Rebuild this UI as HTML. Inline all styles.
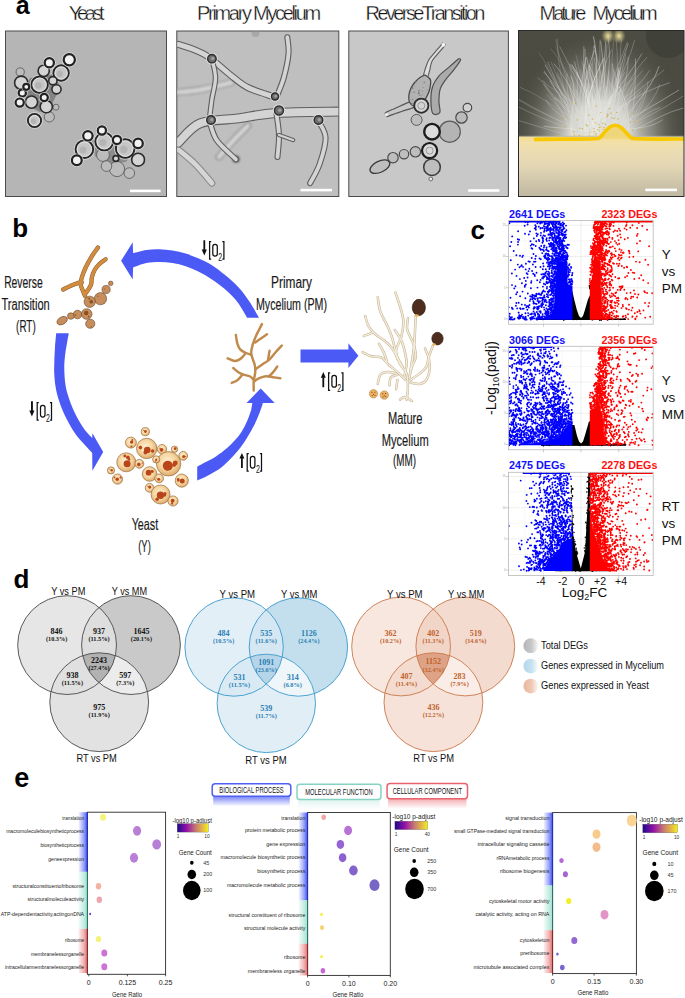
<!DOCTYPE html>
<html><head><meta charset="utf-8"><title>Figure</title>
<style>
html,body{margin:0;padding:0;background:#fff;}
body{width:685px;height:998px;overflow:hidden;}
svg{display:block;font-family:"Liberation Sans",sans-serif;}
</style></head><body>
<svg width="685" height="998" viewBox="0 0 685 998">
<rect width="685" height="998" fill="#fff"/>
<defs><filter id="mblur" x="-5%" y="-5%" width="110%" height="110%"><feGaussianBlur stdDeviation="0.45"/></filter><filter id="mblur2" x="-20%" y="-20%" width="140%" height="140%"><feGaussianBlur stdDeviation="1.3"/></filter><clipPath id="clipPM"><rect x="177.3" y="31.5" width="161" height="164.5"/></clipPath><clipPath id="clipMM"><rect x="518.5" y="30.5" width="165.5" height="166"/></clipPath></defs><text x="15.8" y="14" font-size="25" font-weight="bold">a</text><text x="68.8" y="20" font-size="20" textLength="35.8" lengthAdjust="spacing" fill="#111" stroke="#fff" stroke-width="0.3">Yeast</text><text x="197" y="20" font-size="20" textLength="124.2" lengthAdjust="spacing" fill="#111" stroke="#fff" stroke-width="0.3">Primary Mycelium</text><text x="365.6" y="20" font-size="20" textLength="119.8" lengthAdjust="spacing" fill="#111" stroke="#fff" stroke-width="0.3">ReverseTransition</text><text x="539.6" y="20" font-size="20" textLength="46.8" lengthAdjust="spacing" fill="#111" stroke="#fff" stroke-width="0.3">Mature</text><text x="592.6" y="20" font-size="20" textLength="65" lengthAdjust="spacing" fill="#111" stroke="#fff" stroke-width="0.3">Mycelium</text><rect x="5.5" y="31" width="161" height="165.5" fill="#b5b5b5" stroke="#4a4a4a" stroke-width="1"/><path d="M30 78 L55 74 L60 88 L52 104 L40 112 L28 106 L24 92 Z" fill="#5a5a5a" opacity="0.55"/><path d="M92 140 L118 136 L134 150 L126 162 L108 164 L95 156 Z" fill="#5a5a5a" opacity="0.45"/><g filter="url(#mblur)"><circle cx="20.2" cy="72" r="4.1" fill="#bcbcbc" stroke="#555" stroke-width="0.8"/><circle cx="49.3" cy="116.9" r="5.1" fill="#bcbcbc" stroke="#555" stroke-width="0.8"/><circle cx="56" cy="107.2" r="3" fill="#bcbcbc" stroke="#555" stroke-width="0.8"/><circle cx="21.2" cy="82.7" r="6.6" fill="#d4d4d4" stroke="#2c2c2c" stroke-width="1.6"/><circle cx="39.6" cy="84.7" r="9.5" fill="none" stroke="#dedede" stroke-width="1.1" opacity="0.7"/><circle cx="39.6" cy="84.7" r="8.2" fill="#c6c6c6" stroke="#262626" stroke-width="1.9"/><circle cx="39.6" cy="84.7" r="6.6" fill="none" stroke="#e6e6e6" stroke-width="0.9"/><circle cx="38.4" cy="85.5" r="3.3" fill="#a8a8a8" opacity="0.6"/><circle cx="61.1" cy="73" r="9.0" fill="none" stroke="#dedede" stroke-width="1.1" opacity="0.7"/><circle cx="61.1" cy="73" r="7.7" fill="#c6c6c6" stroke="#262626" stroke-width="1.9"/><circle cx="61.1" cy="73" r="6.1" fill="none" stroke="#e6e6e6" stroke-width="0.9"/><circle cx="59.9" cy="73.8" r="3.1" fill="#a8a8a8" opacity="0.6"/><circle cx="43.7" cy="70.9" r="5.6" fill="#d4d4d4" stroke="#2c2c2c" stroke-width="1.6"/><circle cx="52.9" cy="80.7" r="4.1" fill="#d4d4d4" stroke="#2c2c2c" stroke-width="1.6"/><circle cx="31.5" cy="102.1" r="6.1" fill="#d4d4d4" stroke="#2c2c2c" stroke-width="1.6"/><circle cx="46.3" cy="106.7" r="6.1" fill="#d4d4d4" stroke="#2c2c2c" stroke-width="1.6"/><circle cx="34.5" cy="120.5" r="7.9" fill="none" stroke="#dedede" stroke-width="1.1" opacity="0.7"/><circle cx="34.5" cy="120.5" r="6.6" fill="#c6c6c6" stroke="#262626" stroke-width="1.9"/><circle cx="34.5" cy="120.5" r="5.0" fill="none" stroke="#e6e6e6" stroke-width="0.9"/><circle cx="33.5" cy="121.2" r="2.6" fill="#a8a8a8" opacity="0.6"/><circle cx="56.5" cy="89.3" r="4.6" fill="#d4d4d4" stroke="#2c2c2c" stroke-width="1.6"/><circle cx="69.3" cy="59.7" r="6.9" fill="none" stroke="#e2e2e2" stroke-width="1.2" opacity="0.8"/><circle cx="69.3" cy="59.7" r="5.6" fill="#f2f2f2" stroke="#202020" stroke-width="2.2"/><circle cx="49.3" cy="62.8" r="5.9" fill="none" stroke="#e2e2e2" stroke-width="1.2" opacity="0.8"/><circle cx="49.3" cy="62.8" r="4.6" fill="#f2f2f2" stroke="#202020" stroke-width="2.2"/><circle cx="22.3" cy="92.9" r="4.9" fill="none" stroke="#e2e2e2" stroke-width="1.2" opacity="0.8"/><circle cx="22.3" cy="92.9" r="3.6" fill="#f2f2f2" stroke="#202020" stroke-width="2.2"/><circle cx="19.7" cy="102.6" r="5.4" fill="none" stroke="#e2e2e2" stroke-width="1.2" opacity="0.8"/><circle cx="19.7" cy="102.6" r="4.1" fill="#f2f2f2" stroke="#202020" stroke-width="2.2"/><circle cx="26.3" cy="86.8" r="4.3" fill="none" stroke="#e2e2e2" stroke-width="1.2" opacity="0.8"/><circle cx="26.3" cy="86.8" r="3" fill="#f2f2f2" stroke="#202020" stroke-width="2.2"/><circle cx="44.2" cy="97.5" r="4.9" fill="none" stroke="#e2e2e2" stroke-width="1.2" opacity="0.8"/><circle cx="44.2" cy="97.5" r="3.6" fill="#f2f2f2" stroke="#202020" stroke-width="2.2"/><circle cx="103" cy="155" r="6.4" fill="#bcbcbc" stroke="#555" stroke-width="0.8"/><circle cx="117" cy="169" r="7.6" fill="#bcbcbc" stroke="#555" stroke-width="0.8"/><circle cx="106.5" cy="166.1" r="5.3" fill="#bcbcbc" stroke="#555" stroke-width="0.8"/><circle cx="129.3" cy="173.1" r="5.3" fill="#bcbcbc" stroke="#555" stroke-width="0.8"/><circle cx="84.4" cy="149.2" r="10.1" fill="none" stroke="#dedede" stroke-width="1.1" opacity="0.7"/><circle cx="84.4" cy="149.2" r="8.8" fill="#c6c6c6" stroke="#262626" stroke-width="1.9"/><circle cx="84.4" cy="149.2" r="7.2" fill="none" stroke="#e6e6e6" stroke-width="0.9"/><circle cx="83.1" cy="150.1" r="3.5" fill="#a8a8a8" opacity="0.6"/><circle cx="104.2" cy="141.6" r="10.1" fill="none" stroke="#dedede" stroke-width="1.1" opacity="0.7"/><circle cx="104.2" cy="141.6" r="8.8" fill="#c6c6c6" stroke="#262626" stroke-width="1.9"/><circle cx="104.2" cy="141.6" r="7.2" fill="none" stroke="#e6e6e6" stroke-width="0.9"/><circle cx="102.9" cy="142.5" r="3.5" fill="#a8a8a8" opacity="0.6"/><circle cx="125.2" cy="148.6" r="10.6" fill="none" stroke="#dedede" stroke-width="1.1" opacity="0.7"/><circle cx="125.2" cy="148.6" r="9.3" fill="#c6c6c6" stroke="#262626" stroke-width="1.9"/><circle cx="125.2" cy="148.6" r="7.7" fill="none" stroke="#e6e6e6" stroke-width="0.9"/><circle cx="123.8" cy="149.5" r="3.7" fill="#a8a8a8" opacity="0.6"/><circle cx="138.1" cy="159.7" r="6.4" fill="#d4d4d4" stroke="#2c2c2c" stroke-width="1.6"/><circle cx="115.9" cy="158.5" r="2.9" fill="#d4d4d4" stroke="#2c2c2c" stroke-width="1.6"/><circle cx="76.8" cy="160.3" r="6.2" fill="none" stroke="#e2e2e2" stroke-width="1.2" opacity="0.8"/><circle cx="76.8" cy="160.3" r="4.9" fill="#f2f2f2" stroke="#202020" stroke-width="2.2"/><circle cx="87.9" cy="135.8" r="6.0" fill="none" stroke="#e2e2e2" stroke-width="1.2" opacity="0.8"/><circle cx="87.9" cy="135.8" r="4.7" fill="#f2f2f2" stroke="#202020" stroke-width="2.2"/><circle cx="101.9" cy="130.5" r="5.4" fill="none" stroke="#e2e2e2" stroke-width="1.2" opacity="0.8"/><circle cx="101.9" cy="130.5" r="4.1" fill="#f2f2f2" stroke="#202020" stroke-width="2.2"/><circle cx="117" cy="139.9" r="5.4" fill="none" stroke="#e2e2e2" stroke-width="1.2" opacity="0.8"/><circle cx="117" cy="139.9" r="4.1" fill="#f2f2f2" stroke="#202020" stroke-width="2.2"/><circle cx="138.1" cy="143.4" r="6.0" fill="none" stroke="#e2e2e2" stroke-width="1.2" opacity="0.8"/><circle cx="138.1" cy="143.4" r="4.7" fill="#f2f2f2" stroke="#202020" stroke-width="2.2"/></g><rect x="130" y="189.6" width="30.6" height="2.6" fill="#fff"/><rect x="176.8" y="31" width="162" height="165.5" fill="#bfbfbf" stroke="#4a4a4a" stroke-width="1"/><g clip-path="url(#clipPM)"><g filter="url(#mblur)"><g filter="url(#mblur2)"><path d="M219.1 156.9 C221.2 154.4 227.2 147.2 232.0 142.0 C236.8 136.8 245.2 128.5 247.8 125.8" fill="none" stroke="#7a7a7a" stroke-width="7" stroke-linecap="round" stroke-linejoin="round" opacity="0.9"/><path d="M219.1 156.9 C221.2 154.4 227.2 147.2 232.0 142.0 C236.8 136.8 245.2 128.5 247.8 125.8" fill="none" stroke="#dcdcdc" stroke-width="4.8" stroke-linecap="round" stroke-linejoin="round" opacity="0.9"/><path d="M178.4 92.2 C182.0 91.8 191.2 91.4 200.0 89.8 C208.8 88.2 225.8 83.9 231.0 82.7" fill="none" stroke="#8a8a8a" stroke-width="7" stroke-linecap="round" stroke-linejoin="round" opacity="0.9"/><path d="M178.4 92.2 C182.0 91.8 191.2 91.4 200.0 89.8 C208.8 88.2 225.8 83.9 231.0 82.7" fill="none" stroke="#dadada" stroke-width="4.8" stroke-linecap="round" stroke-linejoin="round" opacity="0.9"/><circle cx="236" cy="159" r="3.5" fill="#4a4a4a"/></g><path d="M178.4 149.7 C181.2 152.1 189.6 158.5 195.2 164.1 C200.8 169.7 209.1 180.0 211.9 183.2" fill="none" stroke="#8a8a8a" stroke-width="7" stroke-linecap="round" stroke-linejoin="round" opacity="1.0"/><path d="M178.4 149.7 C181.2 152.1 189.6 158.5 195.2 164.1 C200.8 169.7 209.1 180.0 211.9 183.2" fill="none" stroke="#d6d6d6" stroke-width="4.8" stroke-linecap="round" stroke-linejoin="round" opacity="1.0"/><path d="M178.4 44.4 C181.2 45.3 189.8 47.8 195.0 50.0 C200.2 52.2 203.5 53.2 209.5 57.5 C215.5 61.8 224.6 70.5 231.0 75.5 C237.4 80.5 240.6 83.9 247.8 87.5 C255.0 91.1 269.8 95.4 274.2 97.0" fill="none" stroke="#5e5e5e" stroke-width="7" stroke-linecap="round" stroke-linejoin="round" opacity="1.0"/><path d="M178.4 44.4 C181.2 45.3 189.8 47.8 195.0 50.0 C200.2 52.2 203.5 53.2 209.5 57.5 C215.5 61.8 224.6 70.5 231.0 75.5 C237.4 80.5 240.6 83.9 247.8 87.5 C255.0 91.1 269.8 95.4 274.2 97.0" fill="none" stroke="#d4d4d4" stroke-width="4.8" stroke-linecap="round" stroke-linejoin="round" opacity="1.0"/><path d="M178.4 142.5 C182.0 139.3 190.4 127.4 200.0 123.4 C209.6 119.4 223.2 120.3 235.9 118.6 C248.7 116.9 259.4 114.2 276.5 113.0 C293.6 111.8 328.4 111.8 338.8 111.6" fill="none" stroke="#5e5e5e" stroke-width="10" stroke-linecap="round" stroke-linejoin="round" opacity="1.0"/><path d="M178.4 142.5 C182.0 139.3 190.4 127.4 200.0 123.4 C209.6 119.4 223.2 120.3 235.9 118.6 C248.7 116.9 259.4 114.2 276.5 113.0 C293.6 111.8 328.4 111.8 338.8 111.6" fill="none" stroke="#d4d4d4" stroke-width="7.8" stroke-linecap="round" stroke-linejoin="round" opacity="1.0"/><path d="M276.5 97.0 C277.7 93.8 281.7 85.1 283.7 77.9 C285.7 70.7 287.9 60.7 288.5 53.9 C289.1 47.1 287.5 40.0 287.3 37.2" fill="none" stroke="#5e5e5e" stroke-width="6" stroke-linecap="round" stroke-linejoin="round" opacity="1.0"/><path d="M276.5 97.0 C277.7 93.8 281.7 85.1 283.7 77.9 C285.7 70.7 287.9 60.7 288.5 53.9 C289.1 47.1 287.5 40.0 287.3 37.2" fill="none" stroke="#d4d4d4" stroke-width="3.8" stroke-linecap="round" stroke-linejoin="round" opacity="1.0"/><path d="M211.9 58.7 C212.5 61.9 215.5 71.1 215.5 77.9 C215.5 84.7 212.9 92.6 211.9 99.4 C210.9 106.2 209.9 115.4 209.5 118.6" fill="none" stroke="#5e5e5e" stroke-width="5.5" stroke-linecap="round" stroke-linejoin="round" opacity="1.0"/><path d="M211.9 58.7 C212.5 61.9 215.5 71.1 215.5 77.9 C215.5 84.7 212.9 92.6 211.9 99.4 C210.9 106.2 209.9 115.4 209.5 118.6" fill="none" stroke="#d4d4d4" stroke-width="3.3" stroke-linecap="round" stroke-linejoin="round" opacity="1.0"/><path d="M209.5 121.0 C210.7 124.2 212.3 133.7 216.7 140.1 C221.1 146.5 232.7 156.1 235.9 159.3" fill="none" stroke="#5e5e5e" stroke-width="6" stroke-linecap="round" stroke-linejoin="round" opacity="1.0"/><path d="M209.5 121.0 C210.7 124.2 212.3 133.7 216.7 140.1 C221.1 146.5 232.7 156.1 235.9 159.3" fill="none" stroke="#d4d4d4" stroke-width="3.8" stroke-linecap="round" stroke-linejoin="round" opacity="1.0"/><path d="M276.5 114.0 C276.9 117.5 278.8 127.8 279.0 135.0 C279.2 142.2 277.8 153.3 277.5 157.0" fill="none" stroke="#5e5e5e" stroke-width="6" stroke-linecap="round" stroke-linejoin="round" opacity="1.0"/><path d="M276.5 114.0 C276.9 117.5 278.8 127.8 279.0 135.0 C279.2 142.2 277.8 153.3 277.5 157.0" fill="none" stroke="#d4d4d4" stroke-width="3.8" stroke-linecap="round" stroke-linejoin="round" opacity="1.0"/><path d="M279.0 135.0 C281.3 135.8 290.7 139.2 293.0 140.0" fill="none" stroke="#5e5e5e" stroke-width="4.5" stroke-linecap="round" stroke-linejoin="round" opacity="1.0"/><path d="M279.0 135.0 C281.3 135.8 290.7 139.2 293.0 140.0" fill="none" stroke="#d4d4d4" stroke-width="2.3" stroke-linecap="round" stroke-linejoin="round" opacity="1.0"/><path d="M318.4 121.0 C319.6 123.8 325.4 130.5 325.6 137.7 C325.8 144.9 322.2 156.5 319.6 164.1 C317.0 171.7 311.7 180.0 310.1 183.2" fill="none" stroke="#5e5e5e" stroke-width="6" stroke-linecap="round" stroke-linejoin="round" opacity="1.0"/><path d="M318.4 121.0 C319.6 123.8 325.4 130.5 325.6 137.7 C325.8 144.9 322.2 156.5 319.6 164.1 C317.0 171.7 311.7 180.0 310.1 183.2" fill="none" stroke="#d4d4d4" stroke-width="3.8" stroke-linecap="round" stroke-linejoin="round" opacity="1.0"/><circle cx="211.9" cy="58.7" r="5.4" fill="none" stroke="#e4e4e4" stroke-width="1.2" opacity="0.8"/><circle cx="211.9" cy="58.7" r="4.2" fill="#6e6e6e" stroke="#2e2e2e" stroke-width="1.4"/><circle cx="212.7" cy="58.4" r="1.7" fill="#a0a0a0"/><circle cx="279" cy="110.5" r="5.7" fill="none" stroke="#e4e4e4" stroke-width="1.2" opacity="0.8"/><circle cx="279" cy="110.5" r="4.5" fill="#6e6e6e" stroke="#2e2e2e" stroke-width="1.4"/><circle cx="279.8" cy="110.2" r="1.8" fill="#a0a0a0"/><circle cx="211" cy="120" r="5.5" fill="none" stroke="#e4e4e4" stroke-width="1.2" opacity="0.8"/><circle cx="211" cy="120" r="4.3" fill="#6e6e6e" stroke="#2e2e2e" stroke-width="1.4"/><circle cx="211.8" cy="119.7" r="1.7" fill="#a0a0a0"/><circle cx="275" cy="96.5" r="4.7" fill="none" stroke="#e4e4e4" stroke-width="1.2" opacity="0.8"/><circle cx="275" cy="96.5" r="3.5" fill="#6e6e6e" stroke="#2e2e2e" stroke-width="1.4"/><circle cx="275.8" cy="96.2" r="1.4" fill="#a0a0a0"/><circle cx="318.5" cy="120" r="5.5" fill="none" stroke="#e4e4e4" stroke-width="1.2" opacity="0.8"/><circle cx="318.5" cy="120" r="4.3" fill="#6e6e6e" stroke="#2e2e2e" stroke-width="1.4"/><circle cx="319.3" cy="119.7" r="1.7" fill="#a0a0a0"/><circle cx="255.5" cy="33" r="4" fill="#9a9a9a" opacity="0.6"/></g></g><rect x="300.5" y="188.8" width="31.5" height="2.6" fill="#fff"/><rect x="348.8" y="31" width="159.6" height="165.5" fill="#c8c8c8" stroke="#4a4a4a" stroke-width="1"/><g filter="url(#mblur)"><path d="M458.6 58.7 C457.0 60.1 452.2 64.3 449.0 67.1 C445.8 70.0 442.0 72.4 439.2 75.7 C436.5 79.0 433.9 82.7 432.5 87.0 C431.1 91.3 430.8 96.9 430.9 101.3 C431.0 105.7 431.3 111.5 432.8 113.4 C434.3 115.3 438.8 114.6 439.8 112.6 C440.8 110.6 438.8 105.2 438.9 101.3 C439.0 97.4 439.1 92.9 440.1 89.4 C441.2 85.9 443.0 83.4 445.2 80.3 C447.3 77.2 450.5 74.2 453.0 70.9 C455.6 67.6 459.5 62.4 460.4 60.3 C461.4 58.3 458.9 58.9 458.6 58.7Z" fill="#ababab" stroke="#505050" stroke-width="1.2"/><path d="M442.7 43.2 C441.4 44.7 437.3 49.4 435.1 52.1 C432.8 54.8 430.6 56.8 429.0 59.6 C427.4 62.3 426.4 65.7 425.4 68.5 C424.5 71.4 423.2 75.0 423.5 76.5 C423.8 78.0 426.3 78.6 427.3 77.5 C428.4 76.4 429.0 72.6 429.8 69.9 C430.5 67.1 430.7 63.8 432.0 61.2 C433.3 58.6 435.4 56.8 437.5 54.1 C439.7 51.4 444.1 47.0 444.9 45.2 C445.8 43.4 443.0 43.6 442.7 43.2Z" fill="#dedede" stroke="#5a5a5a" stroke-width="1.1"/><ellipse cx="443.4" cy="44.8" rx="1.8" ry="2" fill="#f4f4f4"/><path d="M387.0 116.6 C388.3 116.2 392.4 114.7 394.9 113.8 C397.5 112.9 399.1 112.3 402.3 111.2 C405.5 110.0 412.4 108.6 414.1 107.0 C415.7 105.4 414.2 101.6 411.9 101.4 C409.7 101.2 403.5 104.7 400.3 106.0 C397.2 107.3 395.5 108.0 393.1 109.2 C390.6 110.3 386.4 111.7 385.4 113.0 C384.4 114.2 386.7 116.0 387.0 116.6Z" fill="#c8c8c8" stroke="#555555" stroke-width="1.2"/><ellipse cx="386.6" cy="114.6" rx="1.8" ry="1.6" fill="#ececec"/><path d="M425.0 75.0 C425.9 75.8 429.8 77.5 430.5 80.0 C431.2 82.5 430.2 87.0 429.5 90.0 C428.8 93.0 427.1 95.8 426.0 98.0 C424.9 100.2 424.7 101.6 423.0 103.0 C421.3 104.4 418.2 106.5 416.0 106.5 C413.8 106.5 411.2 104.8 410.0 103.0 C408.8 101.2 408.6 98.5 408.8 96.0 C409.0 93.5 409.9 90.4 411.0 88.0 C412.1 85.6 414.0 83.2 415.5 81.5 C417.0 79.8 418.4 78.6 420.0 77.5 C421.6 76.4 424.2 75.4 425.0 75.0Z" fill="#b2b2b2" stroke="#4a4a4a" stroke-width="1.3"/><circle cx="418.7" cy="93.4" r="0.9" fill="#7a7a7a"/><circle cx="418.9" cy="92.2" r="0.7" fill="#7a7a7a"/><circle cx="414.1" cy="92.3" r="0.7" fill="#7a7a7a"/><circle cx="424.5" cy="82.3" r="0.6" fill="#7a7a7a"/><circle cx="412.5" cy="99.4" r="0.7" fill="#7a7a7a"/><circle cx="411.7" cy="103.6" r="0.9" fill="#7a7a7a"/><circle cx="422.1" cy="94.8" r="0.5" fill="#7a7a7a"/><circle cx="411.3" cy="92.7" r="0.4" fill="#7a7a7a"/><circle cx="414.2" cy="85.8" r="0.4" fill="#7a7a7a"/><circle cx="418.9" cy="90.6" r="0.8" fill="#7a7a7a"/><circle cx="419.8" cy="95.4" r="0.6" fill="#7a7a7a"/><circle cx="422.3" cy="91.0" r="0.5" fill="#7a7a7a"/><circle cx="428.0" cy="103.9" r="0.8" fill="#7a7a7a"/><circle cx="423.0" cy="87.6" r="0.5" fill="#7a7a7a"/><circle cx="415.9" cy="81.7" r="0.8" fill="#7a7a7a"/><circle cx="417.8" cy="100.3" r="0.6" fill="#7a7a7a"/><circle cx="427.3" cy="100.3" r="0.4" fill="#7a7a7a"/><circle cx="414.6" cy="101.8" r="0.6" fill="#7a7a7a"/><circle cx="427.7" cy="89.5" r="0.4" fill="#7a7a7a"/><circle cx="421.7" cy="98.7" r="0.5" fill="#7a7a7a"/><circle cx="412.5" cy="88.0" r="0.9" fill="#7a7a7a"/><circle cx="423.9" cy="82.8" r="0.5" fill="#7a7a7a"/><circle cx="449.7" cy="131.7" r="10.6" fill="#b4b4b4" stroke="#5a5a5a" stroke-width="1.2"/><circle cx="416.6" cy="119.9" r="5.5" fill="#bdbdbd" stroke="#5a5a5a" stroke-width="1"/><circle cx="421.3" cy="105.7" r="7.1" fill="#d4d4d4" stroke="#2e2e2e" stroke-width="1.8"/><circle cx="432" cy="131.7" r="7.8" fill="#dcdcdc" stroke="#1e1e1e" stroke-width="2.4"/><circle cx="429.6" cy="150.6" r="7.6" fill="#d8d8d8" stroke="#1e1e1e" stroke-width="2.2"/><circle cx="432" cy="167.2" r="8.3" fill="#bebebe" stroke="#3a3a3a" stroke-width="1.5"/><circle cx="430.8" cy="179" r="1.9" fill="#e6e6e6" stroke="#555" stroke-width="0.8"/><circle cx="461.5" cy="117.5" r="5.7" fill="#bcbcbc" stroke="#4a4a4a" stroke-width="1.2"/><circle cx="467.4" cy="107.6" r="4.3" fill="#d2d2d2" stroke="#4a4a4a" stroke-width="1.2"/><circle cx="415.4" cy="151.8" r="5.2" fill="#bebebe" stroke="#4a4a4a" stroke-width="1.2"/><circle cx="404" cy="154.2" r="4.7" fill="#bebebe" stroke="#4a4a4a" stroke-width="1.2"/><circle cx="393" cy="157.7" r="5.2" fill="#bebebe" stroke="#4a4a4a" stroke-width="1.2"/><circle cx="421.3" cy="105.7" r="3.5" fill="none" stroke="#8a8a8a" stroke-width="0.8"/><circle cx="429.6" cy="150.6" r="3.5" fill="none" stroke="#8a8a8a" stroke-width="0.8"/><ellipse cx="379.9" cy="166.7" rx="10.6" ry="5.6" transform="rotate(-25 379.9 166.7)" fill="#bebebe" stroke="#3a3a3a" stroke-width="1.3"/></g><rect x="468.2" y="189.2" width="31.2" height="2.6" fill="#fff"/><defs><linearGradient id="mmbg" x1="0" y1="0" x2="0" y2="1"><stop offset="0" stop-color="#4c4c42"/><stop offset="1" stop-color="#47483f"/></linearGradient><linearGradient id="agar" x1="0" y1="0" x2="0" y2="1"><stop offset="0" stop-color="#f4dc8c"/><stop offset="0.1" stop-color="#f2e0a8"/><stop offset="0.25" stop-color="#ebdcb2"/><stop offset="0.5" stop-color="#e2d6b4"/><stop offset="1" stop-color="#bfb7a2"/></linearGradient><radialGradient id="haze" cx="0.5" cy="0.5" r="0.5"><stop offset="0" stop-color="#f4f3ec" stop-opacity="1"/><stop offset="0.35" stop-color="#e2e2dc" stop-opacity="0.92"/><stop offset="0.62" stop-color="#b8b8b0" stop-opacity="0.55"/><stop offset="0.85" stop-color="#8a8a80" stop-opacity="0.18"/><stop offset="1" stop-color="#6a6a62" stop-opacity="0"/></radialGradient><radialGradient id="ybase" cx="0.5" cy="1" r="0.7"><stop offset="0" stop-color="#ecd070" stop-opacity="0.8"/><stop offset="0.5" stop-color="#e8dcaa" stop-opacity="0.5"/><stop offset="1" stop-color="#e8dcaa" stop-opacity="0"/></radialGradient><radialGradient id="glow" cx="0.5" cy="0.5" r="0.5"><stop offset="0" stop-color="#efe3a8"/><stop offset="0.5" stop-color="#bdb27a" stop-opacity="0.7"/><stop offset="1" stop-color="#8a8460" stop-opacity="0"/></radialGradient><linearGradient id="ygrad" x1="0" y1="0" x2="0" y2="1"><stop offset="0" stop-color="#f4c418"/><stop offset="1" stop-color="#f4d870" stop-opacity="0"/></linearGradient></defs><rect x="518.5" y="30.5" width="165.5" height="166" fill="url(#mmbg)"/><g clip-path="url(#clipMM)"><circle cx="668" cy="36" r="22" fill="#34352f" opacity="0.45"/><ellipse cx="608" cy="36" rx="7" ry="8" fill="url(#glow)"/><ellipse cx="619" cy="36" rx="7" ry="8" fill="url(#glow)"/><ellipse cx="600" cy="138" rx="86" ry="104" fill="url(#haze)"/><path d="M606.6 136.0 C594.9 111.4 599.1 84.3 594.3 57.7" stroke="#e6e6e0" stroke-width="0.86" fill="none" opacity="0.40"/><path d="M605.4 136.0 C601.9 114.3 608.8 93.2 609.1 71.0" stroke="#e6e6e0" stroke-width="0.88" fill="none" opacity="0.27"/><path d="M587.4 136.0 C581.1 122.5 565.0 115.0 564.2 97.7" stroke="#d8d8d2" stroke-width="0.62" fill="none" opacity="0.34"/><path d="M605.1 136.0 C614.4 118.1 606.7 96.9 616.2 78.4" stroke="#d8d8d2" stroke-width="0.65" fill="none" opacity="0.48"/><path d="M598.6 136.0 C590.4 123.0 595.8 107.1 589.5 93.2" stroke="#f2f2ea" stroke-width="0.69" fill="none" opacity="0.42"/><path d="M594.3 136.0 C598.2 117.0 616.8 106.2 621.6 87.0" stroke="#f2f2ea" stroke-width="0.71" fill="none" opacity="0.28"/><path d="M585.1 136.0 C604.5 126.5 604.4 101.1 622.7 90.0" stroke="#f2f2ea" stroke-width="0.56" fill="none" opacity="0.42"/><path d="M600.3 136.0 C600.4 109.1 592.4 83.6 586.4 56.9" stroke="#f2f2ea" stroke-width="0.64" fill="none" opacity="0.60"/><path d="M612.3 136.0 C593.1 112.4 581.6 85.3 576.0 54.6" stroke="#e6e6e0" stroke-width="0.52" fill="none" opacity="0.36"/><path d="M582.1 136.0 C579.1 102.6 561.0 73.2 555.9 39.3" stroke="#f2f2ea" stroke-width="0.51" fill="none" opacity="0.40"/><path d="M601.9 136.0 C588.9 124.1 595.4 104.9 585.2 91.5" stroke="#d8d8d2" stroke-width="0.66" fill="none" opacity="0.30"/><path d="M592.4 136.0 C600.6 121.0 608.5 105.8 621.9 93.8" stroke="#cfd2d2" stroke-width="0.85" fill="none" opacity="0.30"/><path d="M613.3 136.0 C617.8 115.0 616.9 94.7 606.3 74.8" stroke="#d8d8d2" stroke-width="0.56" fill="none" opacity="0.31"/><path d="M598.3 136.0 C591.0 106.7 591.3 77.0 593.6 46.2" stroke="#f2f2ea" stroke-width="0.74" fill="none" opacity="0.31"/><path d="M606.1 136.0 C610.2 104.9 600.9 75.6 594.0 45.1" stroke="#cfd2d2" stroke-width="0.86" fill="none" opacity="0.55"/><path d="M574.0 136.0 C578.8 107.2 585.7 78.9 594.4 50.1" stroke="#cfd2d2" stroke-width="0.52" fill="none" opacity="0.29"/><path d="M603.7 136.0 C607.1 119.5 608.4 102.1 622.3 89.3" stroke="#d8d8d2" stroke-width="0.71" fill="none" opacity="0.25"/><path d="M594.3 136.0 C601.1 121.3 614.1 112.6 626.8 103.1" stroke="#f2f2ea" stroke-width="0.74" fill="none" opacity="0.50"/><path d="M601.0 136.0 C602.5 111.4 587.1 92.1 580.5 69.3" stroke="#d8d8d2" stroke-width="0.54" fill="none" opacity="0.37"/><path d="M608.5 136.0 C594.8 108.8 584.6 80.7 585.0 48.9" stroke="#f2f2ea" stroke-width="0.56" fill="none" opacity="0.63"/><path d="M599.2 136.0 C604.5 111.3 599.1 88.2 589.3 64.9" stroke="#f2f2ea" stroke-width="0.71" fill="none" opacity="0.53"/><path d="M593.4 136.0 C602.3 120.4 609.9 104.1 618.3 87.7" stroke="#d8d8d2" stroke-width="0.82" fill="none" opacity="0.50"/><path d="M580.6 136.0 C588.1 119.7 592.7 102.1 602.6 86.3" stroke="#e6e6e0" stroke-width="0.82" fill="none" opacity="0.26"/><path d="M601.5 136.0 C589.1 113.5 587.1 86.7 571.8 64.6" stroke="#f2f2ea" stroke-width="0.88" fill="none" opacity="0.54"/><path d="M606.9 136.0 C596.6 120.4 591.7 103.3 591.7 84.2" stroke="#e6e6e0" stroke-width="0.69" fill="none" opacity="0.50"/><path d="M580.9 136.0 C574.4 121.8 569.3 106.6 554.0 98.1" stroke="#d8d8d2" stroke-width="0.69" fill="none" opacity="0.56"/><path d="M620.7 136.0 C634.6 120.5 646.4 103.9 648.0 81.5" stroke="#cfd2d2" stroke-width="0.80" fill="none" opacity="0.41"/><path d="M603.9 136.0 C605.8 101.8 625.6 73.4 634.5 40.4" stroke="#d8d8d2" stroke-width="0.74" fill="none" opacity="0.44"/><path d="M591.6 136.0 C568.9 111.9 557.6 80.5 538.9 52.6" stroke="#e6e6e0" stroke-width="0.71" fill="none" opacity="0.26"/><path d="M594.4 136.0 C616.8 113.3 624.7 80.9 647.0 57.1" stroke="#f2f2ea" stroke-width="0.70" fill="none" opacity="0.35"/><path d="M588.5 136.0 C595.6 112.3 582.8 87.7 591.9 63.4" stroke="#cfd2d2" stroke-width="0.76" fill="none" opacity="0.55"/><path d="M585.6 136.0 C600.8 109.5 596.4 77.0 611.7 49.6" stroke="#e6e6e0" stroke-width="0.85" fill="none" opacity="0.31"/><path d="M582.4 136.0 C580.2 106.8 584.0 78.4 594.5 50.1" stroke="#e6e6e0" stroke-width="0.72" fill="none" opacity="0.50"/><path d="M614.0 136.0 C610.7 111.2 591.0 92.3 589.3 66.2" stroke="#d8d8d2" stroke-width="0.58" fill="none" opacity="0.47"/><path d="M601.5 136.0 C599.2 112.2 620.2 94.9 619.4 70.9" stroke="#f2f2ea" stroke-width="0.75" fill="none" opacity="0.28"/><path d="M599.5 136.0 C580.4 115.5 563.2 93.4 543.8 72.0" stroke="#d8d8d2" stroke-width="0.78" fill="none" opacity="0.44"/><path d="M578.3 136.0 C595.3 126.3 615.8 121.9 628.1 103.8" stroke="#d8d8d2" stroke-width="0.67" fill="none" opacity="0.59"/><path d="M607.1 136.0 C595.1 111.9 580.7 88.9 574.4 61.4" stroke="#e6e6e0" stroke-width="0.86" fill="none" opacity="0.37"/><path d="M617.0 136.0 C625.3 109.6 650.8 93.5 659.1 66.2" stroke="#d8d8d2" stroke-width="0.80" fill="none" opacity="0.64"/><path d="M615.1 136.0 C631.6 129.4 641.9 112.8 660.0 107.6" stroke="#cfd2d2" stroke-width="0.64" fill="none" opacity="0.53"/><path d="M610.7 136.0 C607.1 107.3 621.5 81.9 625.7 53.8" stroke="#e6e6e0" stroke-width="0.65" fill="none" opacity="0.43"/><path d="M598.8 136.0 C576.7 110.6 573.8 74.7 550.7 48.7" stroke="#e6e6e0" stroke-width="0.53" fill="none" opacity="0.34"/><path d="M628.0 136.0 C629.5 118.6 627.5 101.8 618.7 85.8" stroke="#f2f2ea" stroke-width="0.66" fill="none" opacity="0.59"/><path d="M596.4 136.0 C578.6 119.8 562.5 102.2 549.8 80.7" stroke="#d8d8d2" stroke-width="0.67" fill="none" opacity="0.57"/><path d="M613.5 136.0 C641.8 131.8 663.2 108.9 693.0 106.6" stroke="#e6e6e0" stroke-width="0.61" fill="none" opacity="0.59"/><path d="M601.4 136.0 C602.1 103.1 613.3 70.9 608.1 36.5" stroke="#e6e6e0" stroke-width="0.71" fill="none" opacity="0.50"/><path d="M606.2 136.0 C598.5 119.4 601.6 103.1 607.3 86.3" stroke="#f2f2ea" stroke-width="0.71" fill="none" opacity="0.37"/><path d="M613.6 136.0 C614.3 109.1 628.6 84.7 628.2 56.8" stroke="#e6e6e0" stroke-width="0.51" fill="none" opacity="0.65"/><path d="M583.6 136.0 C581.8 119.1 588.6 101.5 579.4 84.8" stroke="#cfd2d2" stroke-width="0.76" fill="none" opacity="0.29"/><path d="M592.3 136.0 C558.6 125.4 525.8 113.0 494.9 93.4" stroke="#d8d8d2" stroke-width="0.83" fill="none" opacity="0.34"/><path d="M582.2 136.0 C574.6 115.9 564.5 96.4 567.2 73.2" stroke="#e6e6e0" stroke-width="0.75" fill="none" opacity="0.30"/><path d="M590.5 136.0 C599.8 124.4 601.8 109.0 610.5 96.7" stroke="#f2f2ea" stroke-width="0.74" fill="none" opacity="0.45"/><path d="M596.3 136.0 C591.0 119.4 585.2 102.9 592.9 85.0" stroke="#f2f2ea" stroke-width="0.89" fill="none" opacity="0.40"/><path d="M597.2 136.0 C580.2 107.7 567.1 77.6 555.2 45.8" stroke="#cfd2d2" stroke-width="0.53" fill="none" opacity="0.25"/><path d="M618.7 136.0 C620.7 117.3 605.5 101.4 609.8 81.7" stroke="#d8d8d2" stroke-width="0.66" fill="none" opacity="0.58"/><path d="M600.7 136.0 C598.4 116.3 607.1 98.0 608.1 78.1" stroke="#d8d8d2" stroke-width="0.76" fill="none" opacity="0.46"/><path d="M573.9 136.0 C565.3 116.5 571.3 93.1 557.1 74.5" stroke="#d8d8d2" stroke-width="0.52" fill="none" opacity="0.31"/><path d="M576.4 136.0 C595.8 117.5 613.0 97.3 624.8 72.0" stroke="#e6e6e0" stroke-width="0.83" fill="none" opacity="0.31"/><path d="M586.2 136.0 C562.9 118.7 533.5 112.6 510.3 93.6" stroke="#d8d8d2" stroke-width="0.75" fill="none" opacity="0.26"/><path d="M596.8 136.0 C602.0 112.4 613.8 92.9 633.8 78.0" stroke="#d8d8d2" stroke-width="0.70" fill="none" opacity="0.46"/><path d="M600.5 136.0 C626.4 120.9 652.6 106.2 679.0 90.0" stroke="#e6e6e0" stroke-width="0.80" fill="none" opacity="0.51"/><path d="M603.9 136.0 C573.5 124.3 550.8 99.5 519.7 87.2" stroke="#cfd2d2" stroke-width="0.70" fill="none" opacity="0.34"/><path d="M610.0 136.0 C600.9 109.8 585.1 87.3 569.5 63.8" stroke="#e6e6e0" stroke-width="0.74" fill="none" opacity="0.51"/><path d="M616.4 136.0 C607.0 110.3 587.4 89.2 581.6 60.8" stroke="#cfd2d2" stroke-width="0.61" fill="none" opacity="0.44"/><path d="M582.4 136.0 C567.4 113.2 559.7 87.0 547.6 61.9" stroke="#cfd2d2" stroke-width="0.81" fill="none" opacity="0.44"/><path d="M599.3 136.0 C607.4 115.9 626.5 106.1 641.1 91.3" stroke="#e6e6e0" stroke-width="0.83" fill="none" opacity="0.37"/><path d="M597.2 136.0 C604.3 117.5 626.7 110.4 631.9 89.6" stroke="#e6e6e0" stroke-width="0.56" fill="none" opacity="0.33"/><path d="M595.2 136.0 C579.3 126.5 561.1 129.3 543.5 126.2" stroke="#f2f2ea" stroke-width="0.59" fill="none" opacity="0.60"/><path d="M591.0 136.0 C590.7 119.2 605.7 112.1 613.5 99.9" stroke="#f2f2ea" stroke-width="0.79" fill="none" opacity="0.43"/><path d="M606.3 136.0 C595.9 123.6 588.0 109.7 582.9 93.8" stroke="#cfd2d2" stroke-width="0.55" fill="none" opacity="0.39"/><path d="M590.8 136.0 C612.4 111.2 637.7 90.5 664.3 69.8" stroke="#e6e6e0" stroke-width="0.64" fill="none" opacity="0.41"/><path d="M604.6 136.0 C591.9 126.1 597.9 107.4 586.0 96.5" stroke="#d8d8d2" stroke-width="0.60" fill="none" opacity="0.36"/><path d="M615.5 136.0 C612.0 119.2 621.2 101.6 611.8 84.7" stroke="#cfd2d2" stroke-width="0.87" fill="none" opacity="0.60"/><path d="M594.0 136.0 C606.0 108.8 634.2 95.3 649.9 70.1" stroke="#d8d8d2" stroke-width="0.76" fill="none" opacity="0.43"/><path d="M604.0 136.0 C595.9 104.8 600.7 73.0 599.8 40.5" stroke="#f2f2ea" stroke-width="0.60" fill="none" opacity="0.39"/><path d="M581.1 136.0 C575.1 115.1 578.2 93.6 577.1 71.7" stroke="#e6e6e0" stroke-width="0.57" fill="none" opacity="0.52"/><path d="M607.5 136.0 C614.3 105.5 616.3 73.9 628.3 43.5" stroke="#cfd2d2" stroke-width="0.67" fill="none" opacity="0.61"/><path d="M597.1 136.0 C590.9 120.2 579.9 106.7 575.5 89.5" stroke="#d8d8d2" stroke-width="0.85" fill="none" opacity="0.40"/><path d="M586.6 136.0 C587.0 114.6 584.3 93.2 586.5 71.2" stroke="#e6e6e0" stroke-width="0.70" fill="none" opacity="0.39"/><path d="M594.5 136.0 C581.6 111.9 572.4 85.6 553.9 63.6" stroke="#e6e6e0" stroke-width="0.61" fill="none" opacity="0.59"/><path d="M613.1 136.0 C621.4 114.0 619.7 92.0 613.5 69.2" stroke="#e6e6e0" stroke-width="0.55" fill="none" opacity="0.60"/><path d="M610.0 136.0 C591.6 109.7 561.9 97.5 537.3 77.5" stroke="#cfd2d2" stroke-width="0.89" fill="none" opacity="0.28"/><path d="M606.2 136.0 C606.7 119.7 609.6 103.5 606.4 86.7" stroke="#cfd2d2" stroke-width="0.53" fill="none" opacity="0.63"/><path d="M599.3 136.0 C600.7 120.3 591.2 104.6 599.6 88.5" stroke="#d8d8d2" stroke-width="0.75" fill="none" opacity="0.54"/><path d="M597.5 136.0 C574.2 116.9 559.9 91.1 545.0 64.7" stroke="#d8d8d2" stroke-width="0.66" fill="none" opacity="0.63"/><path d="M617.4 136.0 C615.7 122.2 620.4 109.3 623.0 95.7" stroke="#d8d8d2" stroke-width="0.69" fill="none" opacity="0.63"/><path d="M609.7 136.0 C614.9 104.0 609.1 71.5 614.1 38.4" stroke="#cfd2d2" stroke-width="0.85" fill="none" opacity="0.26"/><path d="M595.7 136.0 C591.7 118.7 588.0 101.3 587.6 82.8" stroke="#f2f2ea" stroke-width="0.79" fill="none" opacity="0.45"/><path d="M609.9 136.0 C601.2 125.0 605.3 108.6 594.1 98.2" stroke="#cfd2d2" stroke-width="0.89" fill="none" opacity="0.28"/><path d="M622.3 136.0 C610.2 121.7 611.7 101.2 599.7 86.2" stroke="#cfd2d2" stroke-width="0.74" fill="none" opacity="0.37"/><path d="M590.9 136.0 C600.8 104.5 626.1 82.5 641.9 53.5" stroke="#e6e6e0" stroke-width="0.59" fill="none" opacity="0.62"/><path d="M598.8 136.0 C596.0 119.8 606.4 108.2 613.1 94.9" stroke="#f2f2ea" stroke-width="0.79" fill="none" opacity="0.61"/><path d="M599.5 136.0 C618.8 124.6 643.4 133.5 662.8 119.6" stroke="#e6e6e0" stroke-width="0.62" fill="none" opacity="0.55"/><path d="M575.4 136.0 C568.5 103.9 556.7 72.7 557.6 38.2" stroke="#e6e6e0" stroke-width="0.64" fill="none" opacity="0.28"/><path d="M598.2 136.0 C602.8 103.4 615.0 73.1 627.5 41.8" stroke="#cfd2d2" stroke-width="0.54" fill="none" opacity="0.58"/><path d="M591.8 136.0 C588.1 112.3 583.2 88.8 583.6 63.9" stroke="#cfd2d2" stroke-width="0.51" fill="none" opacity="0.54"/><path d="M612.6 136.0 C583.5 124.5 559.7 106.2 540.7 80.2" stroke="#e6e6e0" stroke-width="0.60" fill="none" opacity="0.28"/><path d="M572.2 136.0 C567.7 116.2 579.5 96.0 570.8 75.7" stroke="#f2f2ea" stroke-width="0.80" fill="none" opacity="0.50"/><path d="M572.6 136.0 C566.6 117.0 555.1 101.1 543.7 84.4" stroke="#e6e6e0" stroke-width="0.51" fill="none" opacity="0.57"/><path d="M614.7 136.0 C625.1 104.5 617.2 71.7 621.6 38.8" stroke="#cfd2d2" stroke-width="0.83" fill="none" opacity="0.35"/><path d="M611.3 136.0 C624.6 127.5 620.6 110.1 630.3 99.3" stroke="#d8d8d2" stroke-width="0.74" fill="none" opacity="0.53"/><path d="M610.1 136.0 C609.9 114.9 592.5 98.2 594.6 75.9" stroke="#d8d8d2" stroke-width="0.60" fill="none" opacity="0.33"/><path d="M601.3 136.0 C601.8 111.6 617.0 89.4 612.2 63.5" stroke="#e6e6e0" stroke-width="0.61" fill="none" opacity="0.60"/><path d="M603.0 136.0 C612.1 114.4 613.0 90.7 619.5 67.7" stroke="#cfd2d2" stroke-width="0.68" fill="none" opacity="0.34"/><path d="M594.0 136.0 C606.9 115.0 614.8 92.3 618.8 67.3" stroke="#f2f2ea" stroke-width="0.62" fill="none" opacity="0.56"/><path d="M594.9 136.0 C575.6 114.3 561.9 89.4 551.0 61.7" stroke="#d8d8d2" stroke-width="0.61" fill="none" opacity="0.35"/><path d="M595.4 136.0 C595.9 120.7 600.5 106.8 609.7 94.1" stroke="#e6e6e0" stroke-width="0.76" fill="none" opacity="0.46"/><path d="M599.7 136.0 C611.6 115.8 618.3 94.0 619.0 69.8" stroke="#e6e6e0" stroke-width="0.85" fill="none" opacity="0.62"/><path d="M604.2 136.0 C610.6 111.0 599.7 85.7 605.8 60.0" stroke="#d8d8d2" stroke-width="0.68" fill="none" opacity="0.28"/><path d="M622.5 136.0 C613.3 104.6 620.0 72.2 616.1 39.4" stroke="#d8d8d2" stroke-width="0.51" fill="none" opacity="0.50"/><path d="M603.3 136.0 C591.8 104.0 600.9 69.9 593.4 36.4" stroke="#e6e6e0" stroke-width="0.83" fill="none" opacity="0.62"/><path d="M606.8 136.0 C587.7 116.7 574.7 94.2 569.6 66.5" stroke="#cfd2d2" stroke-width="0.53" fill="none" opacity="0.45"/><path d="M607.8 136.0 C621.5 115.5 624.2 89.1 642.7 70.3" stroke="#f2f2ea" stroke-width="0.66" fill="none" opacity="0.32"/><path d="M610.9 136.0 C604.0 104.5 605.1 72.0 600.3 39.3" stroke="#cfd2d2" stroke-width="0.51" fill="none" opacity="0.39"/><path d="M576.7 136.0 C577.8 110.0 581.0 84.2 585.8 57.8" stroke="#cfd2d2" stroke-width="0.86" fill="none" opacity="0.63"/><path d="M611.1 136.0 C596.7 117.1 573.5 110.8 554.8 96.9" stroke="#e6e6e0" stroke-width="0.52" fill="none" opacity="0.32"/><path d="M618.4 136.0 C633.1 119.9 652.0 107.0 659.9 84.6" stroke="#d8d8d2" stroke-width="0.56" fill="none" opacity="0.54"/><path d="M615.4 136.0 C603.6 105.9 605.5 73.6 600.7 41.4" stroke="#d8d8d2" stroke-width="0.62" fill="none" opacity="0.57"/><path d="M596.7 136.0 C596.3 104.5 604.6 73.9 605.7 41.6" stroke="#e6e6e0" stroke-width="0.86" fill="none" opacity="0.50"/><path d="M583.4 136.0 C574.7 120.2 555.0 116.0 545.8 100.0" stroke="#d8d8d2" stroke-width="0.83" fill="none" opacity="0.41"/><path d="M608.3 136.0 C612.3 115.2 613.7 93.9 619.5 72.8" stroke="#d8d8d2" stroke-width="0.89" fill="none" opacity="0.30"/><path d="M592.2 136.0 C603.2 106.6 605.1 75.8 607.1 44.0" stroke="#f2f2ea" stroke-width="0.55" fill="none" opacity="0.52"/><path d="M590.4 136.0 C572.2 116.5 558.7 93.8 544.1 70.7" stroke="#cfd2d2" stroke-width="0.66" fill="none" opacity="0.48"/><path d="M611.4 136.0 C595.4 125.1 603.4 101.6 587.4 90.2" stroke="#cfd2d2" stroke-width="0.81" fill="none" opacity="0.44"/><path d="M585.9 136.0 C587.5 119.3 583.1 101.8 592.3 85.6" stroke="#cfd2d2" stroke-width="0.65" fill="none" opacity="0.30"/><path d="M585.4 136.0 C583.4 108.5 591.1 83.2 603.9 58.4" stroke="#f2f2ea" stroke-width="0.81" fill="none" opacity="0.62"/><path d="M599.7 136.0 C592.8 113.7 598.2 88.8 585.4 67.0" stroke="#e6e6e0" stroke-width="0.90" fill="none" opacity="0.30"/><path d="M576.3 136.0 C582.7 118.0 571.8 102.2 569.7 84.7" stroke="#d8d8d2" stroke-width="0.77" fill="none" opacity="0.63"/><path d="M591.0 136.0 C590.6 106.2 581.9 77.1 583.9 46.2" stroke="#f2f2ea" stroke-width="0.86" fill="none" opacity="0.38"/><path d="M602.7 136.0 C588.1 106.6 575.8 76.1 559.6 46.3" stroke="#d8d8d2" stroke-width="0.63" fill="none" opacity="0.50"/><path d="M601.9 136.0 C615.4 123.5 617.1 106.3 620.4 89.2" stroke="#d8d8d2" stroke-width="0.82" fill="none" opacity="0.61"/><path d="M622.1 136.0 C627.2 121.3 627.8 107.0 618.1 93.2" stroke="#e6e6e0" stroke-width="0.60" fill="none" opacity="0.43"/><path d="M594.3 136.0 C566.3 125.0 539.5 111.6 512.8 95.8" stroke="#d8d8d2" stroke-width="0.64" fill="none" opacity="0.40"/><path d="M586.0 136.0 C591.4 119.6 579.9 102.2 589.1 85.5" stroke="#f2f2ea" stroke-width="0.62" fill="none" opacity="0.58"/><path d="M594.4 136.0 C628.6 128.8 658.3 111.6 688.4 92.9" stroke="#d8d8d2" stroke-width="0.56" fill="none" opacity="0.55"/><path d="M590.8 136.0 C586.2 111.5 562.8 96.9 557.4 72.1" stroke="#e6e6e0" stroke-width="0.51" fill="none" opacity="0.34"/><path d="M600.2 136.0 C606.4 121.3 612.7 106.8 625.7 95.8" stroke="#d8d8d2" stroke-width="0.58" fill="none" opacity="0.48"/><path d="M589.6 136.0 C589.1 118.0 570.3 109.7 566.6 92.7" stroke="#e6e6e0" stroke-width="0.53" fill="none" opacity="0.31"/><path d="M615.2 136.0 C630.0 122.8 642.4 108.1 645.2 86.9" stroke="#f2f2ea" stroke-width="0.74" fill="none" opacity="0.27"/><path d="M591.6 136.0 C575.6 117.7 555.0 103.3 543.3 80.2" stroke="#e6e6e0" stroke-width="0.71" fill="none" opacity="0.25"/><path d="M605.3 136.0 C604.8 120.6 586.5 112.2 589.3 95.0" stroke="#d8d8d2" stroke-width="0.56" fill="none" opacity="0.47"/><path d="M616.9 136.0 C625.4 114.1 634.5 92.3 635.2 67.6" stroke="#f2f2ea" stroke-width="0.53" fill="none" opacity="0.32"/><path d="M570.4 136.0 C541.5 127.9 513.0 118.3 483.1 110.2" stroke="#cfd2d2" stroke-width="0.80" fill="none" opacity="0.40"/><path d="M604.6 136.0 C582.5 126.4 562.1 114.5 546.9 94.1" stroke="#e6e6e0" stroke-width="0.55" fill="none" opacity="0.34"/><path d="M581.3 136.0 C608.2 114.5 635.3 93.4 669.9 82.7" stroke="#cfd2d2" stroke-width="0.77" fill="none" opacity="0.50"/><path d="M582.7 136.0 C605.0 139.0 625.0 133.2 643.9 120.3" stroke="#e6e6e0" stroke-width="0.57" fill="none" opacity="0.28"/><path d="M585.9 136.0 C596.7 119.9 620.0 120.6 630.4 103.0" stroke="#cfd2d2" stroke-width="0.63" fill="none" opacity="0.33"/><path d="M628.3 136.0 C634.1 110.7 635.9 85.1 635.4 58.4" stroke="#cfd2d2" stroke-width="0.69" fill="none" opacity="0.64"/><path d="M599.7 136.0 C607.0 121.7 593.1 108.9 596.9 94.5" stroke="#d8d8d2" stroke-width="0.66" fill="none" opacity="0.60"/><path d="M591.4 136.0 C574.0 127.9 564.5 113.4 559.3 95.1" stroke="#d8d8d2" stroke-width="0.64" fill="none" opacity="0.50"/><circle cx="603.3" cy="133.4" r="0.7" fill="#d4a420" opacity="0.8"/><circle cx="632.6" cy="130.4" r="0.7" fill="#d4a420" opacity="0.8"/><circle cx="577.3" cy="119.9" r="0.7" fill="#d4a420" opacity="0.8"/><circle cx="599.3" cy="130.9" r="0.7" fill="#d4a420" opacity="0.8"/><circle cx="582.4" cy="128.8" r="0.7" fill="#d4a420" opacity="0.8"/><circle cx="616.8" cy="112.4" r="0.7" fill="#d4a420" opacity="0.8"/><circle cx="606.3" cy="132.7" r="0.7" fill="#d4a420" opacity="0.8"/><circle cx="632.9" cy="113.1" r="0.7" fill="#d4a420" opacity="0.8"/><circle cx="609.8" cy="133.7" r="0.7" fill="#d4a420" opacity="0.8"/><circle cx="602.9" cy="129.4" r="0.7" fill="#d4a420" opacity="0.8"/><circle cx="641.7" cy="130.2" r="0.7" fill="#d4a420" opacity="0.8"/><circle cx="611.9" cy="117.6" r="0.7" fill="#d4a420" opacity="0.8"/><circle cx="614.1" cy="118.4" r="0.7" fill="#d4a420" opacity="0.8"/><circle cx="597.7" cy="129.8" r="0.7" fill="#d4a420" opacity="0.8"/><circle cx="630.2" cy="122.4" r="0.7" fill="#d4a420" opacity="0.8"/><circle cx="605.4" cy="124.2" r="0.7" fill="#d4a420" opacity="0.8"/><circle cx="596.0" cy="134.7" r="0.7" fill="#d4a420" opacity="0.8"/><circle cx="599.2" cy="124.6" r="0.7" fill="#d4a420" opacity="0.8"/><circle cx="595.5" cy="122.9" r="0.7" fill="#d4a420" opacity="0.8"/><circle cx="575.6" cy="103.4" r="0.7" fill="#d4a420" opacity="0.8"/><circle cx="557.1" cy="135.4" r="0.7" fill="#d4a420" opacity="0.8"/><circle cx="595.9" cy="133.6" r="0.7" fill="#d4a420" opacity="0.8"/><circle cx="579.9" cy="128.2" r="0.7" fill="#d4a420" opacity="0.8"/><circle cx="602.9" cy="123.2" r="0.7" fill="#d4a420" opacity="0.8"/><circle cx="592.3" cy="119.3" r="0.7" fill="#d4a420" opacity="0.8"/><circle cx="609.1" cy="108.7" r="0.7" fill="#d4a420" opacity="0.8"/><circle cx="634.3" cy="122.0" r="0.7" fill="#d4a420" opacity="0.8"/><circle cx="600.5" cy="135.4" r="0.7" fill="#d4a420" opacity="0.8"/><circle cx="611.1" cy="113.3" r="0.7" fill="#d4a420" opacity="0.8"/><circle cx="602.0" cy="135.8" r="0.7" fill="#d4a420" opacity="0.8"/><circle cx="574.5" cy="135.1" r="0.7" fill="#d4a420" opacity="0.8"/><circle cx="604.1" cy="127.4" r="0.7" fill="#d4a420" opacity="0.8"/><circle cx="579.7" cy="135.6" r="0.7" fill="#d4a420" opacity="0.8"/><circle cx="608.4" cy="126.5" r="0.7" fill="#d4a420" opacity="0.8"/><circle cx="616.9" cy="132.0" r="0.7" fill="#d4a420" opacity="0.8"/><circle cx="607.5" cy="114.8" r="0.7" fill="#d4a420" opacity="0.8"/><circle cx="589.4" cy="135.9" r="0.7" fill="#d4a420" opacity="0.8"/><circle cx="594.1" cy="131.7" r="0.7" fill="#d4a420" opacity="0.8"/><circle cx="608.0" cy="115.0" r="0.7" fill="#d4a420" opacity="0.8"/><circle cx="607.1" cy="116.8" r="0.7" fill="#d4a420" opacity="0.8"/><circle cx="586.3" cy="124.8" r="0.7" fill="#d4a420" opacity="0.8"/><circle cx="563.5" cy="117.9" r="0.7" fill="#d4a420" opacity="0.8"/><circle cx="639.5" cy="120.9" r="0.7" fill="#d4a420" opacity="0.8"/><circle cx="614.8" cy="134.5" r="0.7" fill="#d4a420" opacity="0.8"/><circle cx="596.1" cy="106.0" r="0.7" fill="#d4a420" opacity="0.8"/><circle cx="578.5" cy="135.9" r="0.7" fill="#d4a420" opacity="0.8"/><circle cx="612.0" cy="129.2" r="0.7" fill="#d4a420" opacity="0.8"/><circle cx="573.7" cy="131.8" r="0.7" fill="#d4a420" opacity="0.8"/><circle cx="601.0" cy="112.6" r="0.7" fill="#d4a420" opacity="0.8"/><circle cx="587.6" cy="125.7" r="0.7" fill="#d4a420" opacity="0.8"/><circle cx="594.1" cy="128.8" r="0.7" fill="#d4a420" opacity="0.8"/><circle cx="617.9" cy="118.8" r="0.7" fill="#d4a420" opacity="0.8"/><circle cx="599.3" cy="127.5" r="0.7" fill="#d4a420" opacity="0.8"/><circle cx="564.9" cy="126.9" r="0.7" fill="#d4a420" opacity="0.8"/><circle cx="590.0" cy="132.5" r="0.7" fill="#d4a420" opacity="0.8"/><circle cx="555.5" cy="129.1" r="0.7" fill="#d4a420" opacity="0.8"/><circle cx="601.1" cy="126.9" r="0.7" fill="#d4a420" opacity="0.8"/><circle cx="589.1" cy="115.3" r="0.7" fill="#d4a420" opacity="0.8"/><circle cx="607.1" cy="129.3" r="0.7" fill="#d4a420" opacity="0.8"/><circle cx="609.2" cy="127.2" r="0.7" fill="#d4a420" opacity="0.8"/><ellipse cx="598" cy="137" rx="50" ry="18" fill="url(#ybase)"/><rect x="518.5" y="136.6" width="166" height="60" fill="url(#agar)"/><line x1="518.5" y1="136.3" x2="684" y2="136.3" stroke="#b8b6a8" stroke-width="0.8"/><path d="M598 138.5 C603 137 606 126 615 125.3 C622 125 626 134 632 138.5 Z" fill="#f0d67a"/><path d="M534 139.5 C560 138.5 585 139.8 598 138.5 C603 137 606 126 615 125.3 C622 125 626 134 632 138.5 C650 139.5 668 139 684 139" stroke="#f7c800" stroke-width="3.6" fill="none"/></g><rect x="518.5" y="30.5" width="165.5" height="166" fill="none" stroke="#2a2a2a" stroke-width="1"/><rect x="645.3" y="188.6" width="31.7" height="2.6" fill="#fff"/><text x="12.2" y="237.2" font-size="26" font-weight="bold">b</text><path d="M259.0 317.7 C257.4 315.0 252.7 306.4 249.2 301.3 C245.7 296.2 242.2 291.5 238.2 287.1 C234.2 282.7 229.5 278.6 225.1 275.0 C220.7 271.4 216.4 267.9 212.0 265.2 C207.6 262.5 203.2 260.5 198.8 258.6 C194.4 256.7 190.1 254.9 185.7 253.6 C181.3 252.2 176.9 251.2 172.5 250.5 C168.1 249.8 163.8 249.3 159.4 249.2 C155.0 249.1 150.7 249.2 146.3 249.9 C141.9 250.6 135.3 252.6 133.1 253.1 L132.7 242.2 L121.1 260.8 L132.7 279.4 L133.1 267.4 C135.3 266.7 141.9 263.9 146.3 263.0 C150.7 262.1 155.0 261.9 159.4 261.9 C163.8 261.9 168.1 262.3 172.5 263.0 C176.9 263.7 181.3 264.8 185.7 266.3 C190.1 267.8 194.4 269.6 198.8 271.8 C203.2 274.0 207.6 276.5 212.0 279.4 C216.4 282.3 221.1 285.8 225.1 289.3 C229.1 292.8 233.1 296.8 236.0 300.2 C238.9 303.6 240.8 307.1 242.6 310.0 C244.4 312.9 246.3 316.4 247.0 317.7Z" fill="#4b5af5"/><path d="M56.2 333.3 C56.0 335.7 55.3 342.6 55.0 347.5 C54.7 352.4 54.4 358.1 54.3 362.6 C54.2 367.1 54.0 370.4 54.3 374.6 C54.5 378.9 55.0 383.9 55.8 388.1 C56.5 392.4 57.5 396.1 58.8 400.1 C60.0 404.1 61.5 408.1 63.3 412.1 C65.0 416.1 67.2 420.3 69.3 424.1 C71.4 427.9 73.4 431.2 76.0 434.7 C78.6 438.2 82.4 442.2 85.1 445.2 C87.8 448.2 91.0 451.6 92.2 452.9 L92.4 470.7 L103.2 451.9 L92.4 433.2 L92.2 437.9 C91.0 436.6 87.3 433.0 85.1 430.2 C82.9 427.4 81.1 424.6 79.1 421.1 C77.1 417.6 74.8 413.1 73.0 409.1 C71.2 405.1 69.8 401.1 68.5 397.1 C67.2 393.1 66.2 389.6 65.5 385.1 C64.8 380.6 64.4 374.5 64.3 370.0 C64.2 365.5 64.3 362.5 64.8 358.0 C65.2 353.5 66.3 347.1 67.0 343.0 C67.7 338.9 68.5 334.9 68.8 333.3Z" fill="#4b5af5"/><path d="M197.2 466.7 C198.6 465.9 202.6 463.9 205.8 462.1 C209.0 460.4 212.8 458.5 216.3 456.2 C219.8 453.9 223.5 451.1 226.8 448.3 C230.1 445.5 233.4 442.2 236.0 439.1 C238.6 436.0 240.6 433.2 242.6 429.9 C244.6 426.6 246.4 422.7 247.8 419.4 C249.2 416.1 250.3 412.9 251.1 410.2 C251.8 407.5 252.1 404.3 252.3 403.1 L246.5 403.1 L260.7 388.4 L274.7 403.1 L262.9 403.1 C262.8 403.4 262.9 403.1 262.3 405.0 C261.7 406.9 260.3 410.9 259.0 414.2 C257.7 417.5 256.3 421.0 254.4 424.7 C252.5 428.4 250.2 432.6 247.8 436.5 C245.4 440.4 243.0 444.4 239.9 448.3 C236.8 452.2 232.9 456.6 229.4 460.1 C225.9 463.6 222.6 466.7 218.9 469.3 C215.2 471.9 210.7 474.0 207.1 475.9 C203.5 477.8 198.8 479.7 197.2 480.5Z" fill="#4b5af5"/><path d="M300.5 349.5 H348.4 V343.3 L358.4 355.7 L348.4 368.1 V362.4 H300.5 Z" fill="#4b5af5"/><g fill="none" stroke="#111" stroke-width="1.25"><path d="M211.2 241.7 H209.6 V259.2 H211.2"/><path d="M222.3 241.7 H223.9 V259.2 H222.3"/><rect x="212.8" y="244.3" width="4.5" height="11.7" rx="2.2"/></g><text x="218.3" y="260.5" font-size="11.5" fill="#111" textLength="3.9" lengthAdjust="spacingAndGlyphs">2</text><path d="M204.3 255.4 L206.9 249.4 H205.2 V240.2 H203.4 V249.4 H201.7 Z" fill="#111"/><g fill="none" stroke="#111" stroke-width="1.25"><path d="M38.8 402.7 H37.2 V420.2 H38.8"/><path d="M49.9 402.7 H51.5 V420.2 H49.9"/><rect x="40.5" y="405.3" width="4.5" height="11.7" rx="2.2"/></g><text x="45.9" y="421.5" font-size="11.5" fill="#111" textLength="3.9" lengthAdjust="spacingAndGlyphs">2</text><path d="M31.9 416.4 L34.5 410.4 H32.9 V401.2 H31.0 V410.4 H29.3 Z" fill="#111"/><g fill="none" stroke="#111" stroke-width="1.25"><path d="M248.8 453.7 H247.2 V471.2 H248.8"/><path d="M259.9 453.7 H261.5 V471.2 H259.9"/><rect x="250.4" y="456.3" width="4.5" height="11.7" rx="2.2"/></g><text x="255.9" y="472.5" font-size="11.5" fill="#111" textLength="3.9" lengthAdjust="spacingAndGlyphs">2</text><path d="M241.9 453.0 L244.4 458.6 H242.8 V468.1 H241.0 V458.6 H239.4 Z" fill="#111"/><g fill="none" stroke="#111" stroke-width="1.25"><path d="M330.2 372.8 H328.6 V390.3 H330.2"/><path d="M341.3 372.8 H342.9 V390.3 H341.3"/><rect x="331.9" y="375.4" width="4.5" height="11.7" rx="2.2"/></g><text x="337.3" y="391.6" font-size="11.5" fill="#111" textLength="3.9" lengthAdjust="spacingAndGlyphs">2</text><path d="M323.3 372.1 L325.8 377.7 H324.2 V387.2 H322.4 V377.7 H320.8 Z" fill="#111"/><g stroke="#1a1a1a" stroke-width="0.18"><text x="23.4" y="288.4" font-size="16" text-anchor="middle" textLength="38.5" lengthAdjust="spacingAndGlyphs" fill="#1a1a1a">Reverse</text><text x="25.6" y="310" font-size="16" text-anchor="middle" textLength="48.2" lengthAdjust="spacingAndGlyphs" fill="#1a1a1a">Transition</text><text x="25.9" y="331.5" font-size="16" text-anchor="middle" textLength="19.6" lengthAdjust="spacingAndGlyphs" fill="#1a1a1a">(RT)</text><text x="291.5" y="287.5" font-size="16" text-anchor="middle" textLength="41" lengthAdjust="spacingAndGlyphs" fill="#1a1a1a">Primary</text><text x="291.5" y="309.5" font-size="16" text-anchor="middle" textLength="71" lengthAdjust="spacingAndGlyphs" fill="#1a1a1a">Mycelium (PM)</text><text x="405.2" y="424" font-size="16" text-anchor="middle" textLength="34.5" lengthAdjust="spacingAndGlyphs" fill="#1a1a1a">Mature</text><text x="405.2" y="446" font-size="16" text-anchor="middle" textLength="47" lengthAdjust="spacingAndGlyphs" fill="#1a1a1a">Mycelium</text><text x="404.5" y="466" font-size="16" text-anchor="middle" textLength="23" lengthAdjust="spacingAndGlyphs" fill="#1a1a1a">(MM)</text><text x="144.9" y="530.2" font-size="16.5" text-anchor="middle" textLength="26.5" lengthAdjust="spacingAndGlyphs" fill="#1a1a1a">Yeast</text><text x="144.5" y="552" font-size="16.5" text-anchor="middle" textLength="12.5" lengthAdjust="spacingAndGlyphs" fill="#1a1a1a">(Y)</text></g><g transform="translate(220 318) scale(0.10219)" fill="none" stroke="#c08a4c" stroke-width="24" stroke-linecap="round" stroke-linejoin="round"><path d="M330.0 710.0 C330.0 695.0 327.5 650.0 330.0 620.0 C332.5 590.0 343.3 556.7 345.0 530.0 C346.7 503.3 344.2 481.7 340.0 460.0 C335.8 438.3 325.8 420.0 320.0 400.0 C314.2 380.0 305.0 363.3 305.0 340.0 C305.0 316.7 312.5 286.7 320.0 260.0 C327.5 233.3 335.0 213.3 350.0 180.0 C365.0 146.7 400.0 80.0 410.0 60.0"/><path d="M345.0 240.0 C354.2 233.3 380.8 213.3 400.0 200.0 C419.2 186.7 450.0 166.7 460.0 160.0"/><path d="M305.0 360.0 C295.8 356.7 267.5 348.3 250.0 340.0 C232.5 331.7 213.3 325.0 200.0 310.0 C186.7 295.0 177.5 274.2 170.0 250.0 C162.5 225.8 157.5 179.2 155.0 165.0"/><path d="M250.0 345.0 C241.7 354.2 218.3 387.5 200.0 400.0 C181.7 412.5 160.8 420.8 140.0 420.0 C119.2 419.2 85.8 399.2 75.0 395.0"/><path d="M350.0 500.0 C361.7 491.7 398.3 465.0 420.0 450.0 C441.7 435.0 460.0 428.3 480.0 410.0 C500.0 391.7 519.2 363.3 540.0 340.0 C560.8 316.7 594.2 281.7 605.0 270.0"/><path d="M470.0 410.0 C472.5 395.0 482.5 335.0 485.0 320.0"/><path d="M325.0 600.0 C319.2 595.0 305.8 577.5 290.0 570.0 C274.2 562.5 248.3 561.7 230.0 555.0 C211.7 548.3 196.7 540.8 180.0 530.0 C163.3 519.2 138.3 496.7 130.0 490.0"/><path d="M215.0 560.0 C207.5 568.3 186.7 597.5 170.0 610.0 C153.3 622.5 124.2 630.8 115.0 635.0"/><path d="M335.0 620.0 C342.5 615.0 360.8 598.3 380.0 590.0 C399.2 581.7 426.7 571.7 450.0 570.0 C473.3 568.3 496.7 576.7 520.0 580.0 C543.3 583.3 578.3 588.3 590.0 590.0"/><path d="M480.0 570.0 C486.7 563.3 506.7 545.8 520.0 530.0 C533.3 514.2 553.3 484.2 560.0 475.0"/></g><g transform="translate(55 243) scale(0.10219)"><path d="M420.0 45.0 C410.0 59.2 380.0 97.5 360.0 130.0 C340.0 162.5 315.8 206.7 300.0 240.0 C284.2 273.3 273.3 303.3 265.0 330.0 C256.7 356.7 249.2 378.3 250.0 400.0 C250.8 421.7 262.5 440.0 270.0 460.0 C277.5 480.0 290.8 510.0 295.0 520.0" fill="none" stroke="#8a5a2a" stroke-width="42" stroke-linecap="round" stroke-linejoin="round"/><path d="M495.0 160.0 C484.2 168.3 448.3 191.7 430.0 210.0 C411.7 228.3 396.7 248.3 385.0 270.0 C373.3 291.7 365.0 318.3 360.0 340.0 C355.0 361.7 360.0 381.7 355.0 400.0 C350.0 418.3 339.2 435.0 330.0 450.0 C320.8 465.0 305.0 483.3 300.0 490.0" fill="none" stroke="#8a5a2a" stroke-width="42" stroke-linecap="round" stroke-linejoin="round"/><path d="M80.0 455.0 C91.7 449.2 125.0 430.8 150.0 420.0 C175.0 409.2 211.3 395.8 230.0 390.0 C248.7 384.2 256.7 385.8 262.0 385.0" fill="none" stroke="#8a5a2a" stroke-width="42" stroke-linecap="round" stroke-linejoin="round"/><path d="M420.0 45.0 C410.0 59.2 380.0 97.5 360.0 130.0 C340.0 162.5 315.8 206.7 300.0 240.0 C284.2 273.3 273.3 303.3 265.0 330.0 C256.7 356.7 249.2 378.3 250.0 400.0 C250.8 421.7 262.5 440.0 270.0 460.0 C277.5 480.0 290.8 510.0 295.0 520.0" fill="none" stroke="#d28c40" stroke-width="33" stroke-linecap="round" stroke-linejoin="round"/><path d="M495.0 160.0 C484.2 168.3 448.3 191.7 430.0 210.0 C411.7 228.3 396.7 248.3 385.0 270.0 C373.3 291.7 365.0 318.3 360.0 340.0 C355.0 361.7 360.0 381.7 355.0 400.0 C350.0 418.3 339.2 435.0 330.0 450.0 C320.8 465.0 305.0 483.3 300.0 490.0" fill="none" stroke="#d28c40" stroke-width="33" stroke-linecap="round" stroke-linejoin="round"/><path d="M80.0 455.0 C91.7 449.2 125.0 430.8 150.0 420.0 C175.0 409.2 211.3 395.8 230.0 390.0 C248.7 384.2 256.7 385.8 262.0 385.0" fill="none" stroke="#d28c40" stroke-width="33" stroke-linecap="round" stroke-linejoin="round"/><ellipse cx="70" cy="760" rx="55" ry="36" transform="rotate(-30 70 760)" fill="#c58e5c" stroke="#6a4526" stroke-width="6"/><circle cx="445" cy="545" r="60" fill="#c58e5c" stroke="#6a4526" stroke-width="6"/><circle cx="500" cy="455" r="40" fill="#c58e5c" stroke="#6a4526" stroke-width="6"/><circle cx="545" cy="395" r="22" fill="#c58e5c" stroke="#6a4526" stroke-width="6"/><circle cx="340" cy="575" r="55" fill="#c58e5c" stroke="#6a4526" stroke-width="6"/><circle cx="345" cy="790" r="45" fill="#c58e5c" stroke="#6a4526" stroke-width="6"/><circle cx="220" cy="700" r="42" fill="#c58e5c" stroke="#6a4526" stroke-width="6"/><circle cx="155" cy="715" r="32" fill="#c58e5c" stroke="#6a4526" stroke-width="6"/><circle cx="310" cy="695" r="52" fill="#c58e5c" stroke="#6a4526" stroke-width="6"/><circle cx="355" cy="575" r="18" fill="#8a4f1e"/><circle cx="335" cy="545" r="9" fill="#8a4f1e"/><circle cx="305" cy="685" r="22" fill="#8a4f1e"/><circle cx="330" cy="720" r="8" fill="#8a4f1e"/><circle cx="420" cy="520" r="6" fill="#8a4f1e"/><circle cx="480" cy="590" r="5" fill="#8a4f1e"/><circle cx="485" cy="450" r="5" fill="#8a4f1e"/><circle cx="200" cy="705" r="8" fill="#8a4f1e"/><circle cx="355" cy="820" r="6" fill="#8a4f1e"/></g><defs><radialGradient id="ycell" cx="0.45" cy="0.42" r="0.6"><stop offset="0" stop-color="#fdf0d6"/><stop offset="0.55" stop-color="#f6d6a0"/><stop offset="1" stop-color="#dca565"/></radialGradient></defs><circle cx="145.3" cy="431.7" r="4.1" fill="url(#ycell)" stroke="#9a7040" stroke-width="0.7"/><circle cx="145.4" cy="431.5" r="1.4" fill="#b8461a"/><circle cx="143.4" cy="430.2" r="0.5" fill="#b8461a"/><circle cx="130.9" cy="442.6" r="5.5" fill="url(#ycell)" stroke="#9a7040" stroke-width="0.7"/><circle cx="131.6" cy="442.1" r="1.7" fill="#b8461a"/><circle cx="131.3" cy="446.4" r="0.9" fill="#b8461a"/><circle cx="132.4" cy="440.0" r="0.9" fill="#b8461a"/><circle cx="146.7" cy="448.5" r="10.2" fill="url(#ycell)" stroke="#9a7040" stroke-width="0.7"/><circle cx="147.3" cy="450.0" r="3.3" fill="#b8461a"/><circle cx="140.4" cy="447.6" r="1.8" fill="#b8461a"/><circle cx="152.6" cy="451.0" r="1.7" fill="#b8461a"/><circle cx="145.4" cy="452.5" r="1.9" fill="#b8461a"/><circle cx="126.3" cy="462.3" r="9.5" fill="url(#ycell)" stroke="#9a7040" stroke-width="0.7"/><circle cx="127.1" cy="463.7" r="3.5" fill="#b8461a"/><circle cx="124.8" cy="456.0" r="1.4" fill="#b8461a"/><circle cx="127.9" cy="457.5" r="1.9" fill="#b8461a"/><circle cx="129.2" cy="459.5" r="1.2" fill="#b8461a"/><circle cx="111" cy="470.4" r="3.6" fill="url(#ycell)" stroke="#9a7040" stroke-width="0.7"/><circle cx="111.7" cy="470.3" r="1.2" fill="#b8461a"/><circle cx="109.8" cy="469.1" r="0.6" fill="#b8461a"/><circle cx="117.5" cy="479.1" r="5.1" fill="url(#ycell)" stroke="#9a7040" stroke-width="0.7"/><circle cx="117.2" cy="479.3" r="1.8" fill="#b8461a"/><circle cx="114.5" cy="477.4" r="0.9" fill="#b8461a"/><circle cx="120.5" cy="477.6" r="1.0" fill="#b8461a"/><circle cx="139.4" cy="463.8" r="4.4" fill="url(#ycell)" stroke="#9a7040" stroke-width="0.7"/><circle cx="138.8" cy="464.4" r="1.8" fill="#b8461a"/><circle cx="142.3" cy="463.1" r="0.7" fill="#b8461a"/><circle cx="162" cy="449.2" r="4.7" fill="url(#ycell)" stroke="#9a7040" stroke-width="0.7"/><circle cx="161.5" cy="449.8" r="1.9" fill="#b8461a"/><circle cx="160.0" cy="448.2" r="0.6" fill="#b8461a"/><circle cx="174.5" cy="449.2" r="3.2" fill="url(#ycell)" stroke="#9a7040" stroke-width="0.7"/><circle cx="175.1" cy="448.7" r="1.4" fill="#b8461a"/><circle cx="175.0" cy="447.6" r="0.4" fill="#b8461a"/><circle cx="183.2" cy="455.8" r="4.4" fill="url(#ycell)" stroke="#9a7040" stroke-width="0.7"/><circle cx="183.7" cy="456.5" r="1.5" fill="#b8461a"/><circle cx="185.7" cy="456.5" r="0.5" fill="#b8461a"/><circle cx="168.6" cy="463.8" r="12.2" fill="url(#ycell)" stroke="#9a7040" stroke-width="0.7"/><circle cx="167.8" cy="465.7" r="5.0" fill="#b8461a"/><circle cx="175.3" cy="463.0" r="2.4" fill="#b8461a"/><circle cx="166.7" cy="468.6" r="2.0" fill="#b8461a"/><circle cx="174.1" cy="464.9" r="1.9" fill="#b8461a"/><circle cx="149.6" cy="474" r="7.3" fill="url(#ycell)" stroke="#9a7040" stroke-width="0.7"/><circle cx="148.6" cy="472.7" r="2.9" fill="#b8461a"/><circle cx="152.0" cy="471.3" r="1.4" fill="#b8461a"/><circle cx="152.6" cy="471.7" r="1.1" fill="#b8461a"/><circle cx="181.8" cy="480.6" r="6.6" fill="url(#ycell)" stroke="#9a7040" stroke-width="0.7"/><circle cx="182.2" cy="480.9" r="2.5" fill="#b8461a"/><circle cx="178.2" cy="479.2" r="1.3" fill="#b8461a"/><circle cx="178.3" cy="480.5" r="1.2" fill="#b8461a"/><circle cx="159.1" cy="478.4" r="4.4" fill="url(#ycell)" stroke="#9a7040" stroke-width="0.7"/><circle cx="158.7" cy="479.2" r="1.5" fill="#b8461a"/><circle cx="156.6" cy="478.1" r="0.5" fill="#b8461a"/><circle cx="149.6" cy="487.9" r="4.4" fill="url(#ycell)" stroke="#9a7040" stroke-width="0.7"/><circle cx="149.7" cy="487.1" r="1.6" fill="#b8461a"/><circle cx="147.7" cy="486.2" r="0.5" fill="#b8461a"/><circle cx="160.6" cy="494.5" r="9.5" fill="url(#ycell)" stroke="#9a7040" stroke-width="0.7"/><circle cx="160.5" cy="495.2" r="3.7" fill="#b8461a"/><circle cx="157.1" cy="499.2" r="1.7" fill="#b8461a"/><circle cx="164.5" cy="495.1" r="1.7" fill="#b8461a"/><circle cx="165.0" cy="493.5" r="1.5" fill="#b8461a"/><circle cx="173" cy="501" r="5.1" fill="url(#ycell)" stroke="#9a7040" stroke-width="0.7"/><circle cx="172.6" cy="500.7" r="2.0" fill="#b8461a"/><circle cx="172.0" cy="503.4" r="0.9" fill="#b8461a"/><circle cx="172.2" cy="503.5" r="0.9" fill="#b8461a"/><circle cx="156.2" cy="459.4" r="3.6" fill="url(#ycell)" stroke="#9a7040" stroke-width="0.7"/><circle cx="156.3" cy="459.7" r="1.1" fill="#b8461a"/><circle cx="155.6" cy="461.0" r="0.7" fill="#b8461a"/><g transform="translate(358 288) scale(0.13139)"><path d="M150.0 70.0 C153.3 88.3 158.3 145.0 170.0 180.0 C181.7 215.0 205.0 246.7 220.0 280.0 C235.0 313.3 248.3 343.3 260.0 380.0 C271.7 416.7 280.0 466.7 290.0 500.0 C300.0 533.3 306.7 555.0 320.0 580.0 C333.3 605.0 360.0 620.0 370.0 650.0 C380.0 680.0 380.0 726.7 380.0 760.0 C380.0 793.3 371.7 835.0 370.0 850.0" fill="none" stroke="#c4b393" stroke-width="19" stroke-linecap="round" stroke-linejoin="round"/><path d="M285.0 35.0 C290.8 52.5 310.0 104.2 320.0 140.0 C330.0 175.8 343.3 211.7 345.0 250.0 C346.7 288.3 339.2 333.3 330.0 370.0 C320.8 406.7 295.0 441.7 290.0 470.0 C285.0 498.3 298.3 528.3 300.0 540.0" fill="none" stroke="#c4b393" stroke-width="19" stroke-linecap="round" stroke-linejoin="round"/><path d="M55.0 215.0 C59.2 227.5 67.5 267.5 80.0 290.0 C92.5 312.5 110.0 331.7 130.0 350.0 C150.0 368.3 178.3 381.7 200.0 400.0 C221.7 418.3 243.3 438.3 260.0 460.0 C276.7 481.7 286.7 506.7 300.0 530.0 C313.3 553.3 333.3 588.3 340.0 600.0" fill="none" stroke="#c4b393" stroke-width="19" stroke-linecap="round" stroke-linejoin="round"/><path d="M45.0 365.0 C55.8 360.8 99.2 344.2 110.0 340.0" fill="none" stroke="#c4b393" stroke-width="19" stroke-linecap="round" stroke-linejoin="round"/><path d="M35.0 490.0 C45.8 495.0 75.8 513.3 100.0 520.0 C124.2 526.7 158.3 520.0 180.0 530.0 C201.7 540.0 210.0 561.7 230.0 580.0 C250.0 598.3 278.3 620.0 300.0 640.0 C321.7 660.0 350.0 690.0 360.0 700.0" fill="none" stroke="#c4b393" stroke-width="19" stroke-linecap="round" stroke-linejoin="round"/><path d="M160.0 425.0 C166.7 437.5 190.0 477.5 200.0 500.0 C210.0 522.5 216.7 550.0 220.0 560.0" fill="none" stroke="#c4b393" stroke-width="19" stroke-linecap="round" stroke-linejoin="round"/><path d="M280.0 320.0 C288.3 333.3 316.7 370.0 330.0 400.0 C343.3 430.0 353.3 470.0 360.0 500.0 C366.7 530.0 371.7 550.0 370.0 580.0 C368.3 610.0 353.3 663.3 350.0 680.0" fill="none" stroke="#c4b393" stroke-width="19" stroke-linecap="round" stroke-linejoin="round"/><path d="M380.0 230.0 C379.2 245.0 368.3 288.3 375.0 320.0 C381.7 351.7 409.2 386.7 420.0 420.0 C430.8 453.3 441.7 490.0 440.0 520.0 C438.3 550.0 418.3 573.3 410.0 600.0 C401.7 626.7 393.3 666.7 390.0 680.0" fill="none" stroke="#c4b393" stroke-width="19" stroke-linecap="round" stroke-linejoin="round"/><path d="M440.0 210.0 C439.2 225.0 436.7 268.3 435.0 300.0 C433.3 331.7 432.5 366.7 430.0 400.0 C427.5 433.3 425.0 463.3 420.0 500.0 C415.0 536.7 403.3 600.0 400.0 620.0" fill="none" stroke="#c4b393" stroke-width="19" stroke-linecap="round" stroke-linejoin="round"/><path d="M570.0 440.0 C565.0 453.3 548.3 493.3 540.0 520.0 C531.7 546.7 531.7 578.3 520.0 600.0 C508.3 621.7 490.0 633.3 470.0 650.0 C450.0 666.7 411.7 691.7 400.0 700.0" fill="none" stroke="#c4b393" stroke-width="19" stroke-linecap="round" stroke-linejoin="round"/><path d="M510.0 460.0 C515.0 473.3 534.2 513.3 540.0 540.0 C545.8 566.7 548.3 593.3 545.0 620.0 C541.7 646.7 532.5 681.7 520.0 700.0 C507.5 718.3 490.0 726.7 470.0 730.0 C450.0 733.3 411.7 721.7 400.0 720.0" fill="none" stroke="#c4b393" stroke-width="19" stroke-linecap="round" stroke-linejoin="round"/><path d="M150.0 730.0 C153.3 718.3 158.3 675.0 170.0 660.0 C181.7 645.0 200.0 641.7 220.0 640.0 C240.0 638.3 278.3 648.3 290.0 650.0" fill="none" stroke="#c4b393" stroke-width="19" stroke-linecap="round" stroke-linejoin="round"/><path d="M240.0 740.0 C241.7 730.0 240.0 693.3 250.0 680.0 C260.0 666.7 291.7 663.3 300.0 660.0" fill="none" stroke="#c4b393" stroke-width="19" stroke-linecap="round" stroke-linejoin="round"/><path d="M290.0 770.0 C291.7 758.3 298.3 711.7 300.0 700.0" fill="none" stroke="#c4b393" stroke-width="19" stroke-linecap="round" stroke-linejoin="round"/><path d="M320.0 850.0 C325.0 846.7 340.0 831.7 350.0 830.0 C360.0 828.3 370.0 835.0 380.0 840.0 C390.0 845.0 405.0 856.7 410.0 860.0" fill="none" stroke="#c4b393" stroke-width="19" stroke-linecap="round" stroke-linejoin="round"/><path d="M150.0 70.0 C153.3 88.3 158.3 145.0 170.0 180.0 C181.7 215.0 205.0 246.7 220.0 280.0 C235.0 313.3 248.3 343.3 260.0 380.0 C271.7 416.7 280.0 466.7 290.0 500.0 C300.0 533.3 306.7 555.0 320.0 580.0 C333.3 605.0 360.0 620.0 370.0 650.0 C380.0 680.0 380.0 726.7 380.0 760.0 C380.0 793.3 371.7 835.0 370.0 850.0" fill="none" stroke="#f3ead8" stroke-width="11" stroke-linecap="round" stroke-linejoin="round"/><path d="M285.0 35.0 C290.8 52.5 310.0 104.2 320.0 140.0 C330.0 175.8 343.3 211.7 345.0 250.0 C346.7 288.3 339.2 333.3 330.0 370.0 C320.8 406.7 295.0 441.7 290.0 470.0 C285.0 498.3 298.3 528.3 300.0 540.0" fill="none" stroke="#f3ead8" stroke-width="11" stroke-linecap="round" stroke-linejoin="round"/><path d="M55.0 215.0 C59.2 227.5 67.5 267.5 80.0 290.0 C92.5 312.5 110.0 331.7 130.0 350.0 C150.0 368.3 178.3 381.7 200.0 400.0 C221.7 418.3 243.3 438.3 260.0 460.0 C276.7 481.7 286.7 506.7 300.0 530.0 C313.3 553.3 333.3 588.3 340.0 600.0" fill="none" stroke="#f3ead8" stroke-width="11" stroke-linecap="round" stroke-linejoin="round"/><path d="M45.0 365.0 C55.8 360.8 99.2 344.2 110.0 340.0" fill="none" stroke="#f3ead8" stroke-width="11" stroke-linecap="round" stroke-linejoin="round"/><path d="M35.0 490.0 C45.8 495.0 75.8 513.3 100.0 520.0 C124.2 526.7 158.3 520.0 180.0 530.0 C201.7 540.0 210.0 561.7 230.0 580.0 C250.0 598.3 278.3 620.0 300.0 640.0 C321.7 660.0 350.0 690.0 360.0 700.0" fill="none" stroke="#f3ead8" stroke-width="11" stroke-linecap="round" stroke-linejoin="round"/><path d="M160.0 425.0 C166.7 437.5 190.0 477.5 200.0 500.0 C210.0 522.5 216.7 550.0 220.0 560.0" fill="none" stroke="#f3ead8" stroke-width="11" stroke-linecap="round" stroke-linejoin="round"/><path d="M280.0 320.0 C288.3 333.3 316.7 370.0 330.0 400.0 C343.3 430.0 353.3 470.0 360.0 500.0 C366.7 530.0 371.7 550.0 370.0 580.0 C368.3 610.0 353.3 663.3 350.0 680.0" fill="none" stroke="#f3ead8" stroke-width="11" stroke-linecap="round" stroke-linejoin="round"/><path d="M380.0 230.0 C379.2 245.0 368.3 288.3 375.0 320.0 C381.7 351.7 409.2 386.7 420.0 420.0 C430.8 453.3 441.7 490.0 440.0 520.0 C438.3 550.0 418.3 573.3 410.0 600.0 C401.7 626.7 393.3 666.7 390.0 680.0" fill="none" stroke="#f3ead8" stroke-width="11" stroke-linecap="round" stroke-linejoin="round"/><path d="M440.0 210.0 C439.2 225.0 436.7 268.3 435.0 300.0 C433.3 331.7 432.5 366.7 430.0 400.0 C427.5 433.3 425.0 463.3 420.0 500.0 C415.0 536.7 403.3 600.0 400.0 620.0" fill="none" stroke="#f3ead8" stroke-width="11" stroke-linecap="round" stroke-linejoin="round"/><path d="M570.0 440.0 C565.0 453.3 548.3 493.3 540.0 520.0 C531.7 546.7 531.7 578.3 520.0 600.0 C508.3 621.7 490.0 633.3 470.0 650.0 C450.0 666.7 411.7 691.7 400.0 700.0" fill="none" stroke="#f3ead8" stroke-width="11" stroke-linecap="round" stroke-linejoin="round"/><path d="M510.0 460.0 C515.0 473.3 534.2 513.3 540.0 540.0 C545.8 566.7 548.3 593.3 545.0 620.0 C541.7 646.7 532.5 681.7 520.0 700.0 C507.5 718.3 490.0 726.7 470.0 730.0 C450.0 733.3 411.7 721.7 400.0 720.0" fill="none" stroke="#f3ead8" stroke-width="11" stroke-linecap="round" stroke-linejoin="round"/><path d="M150.0 730.0 C153.3 718.3 158.3 675.0 170.0 660.0 C181.7 645.0 200.0 641.7 220.0 640.0 C240.0 638.3 278.3 648.3 290.0 650.0" fill="none" stroke="#f3ead8" stroke-width="11" stroke-linecap="round" stroke-linejoin="round"/><path d="M240.0 740.0 C241.7 730.0 240.0 693.3 250.0 680.0 C260.0 666.7 291.7 663.3 300.0 660.0" fill="none" stroke="#f3ead8" stroke-width="11" stroke-linecap="round" stroke-linejoin="round"/><path d="M290.0 770.0 C291.7 758.3 298.3 711.7 300.0 700.0" fill="none" stroke="#f3ead8" stroke-width="11" stroke-linecap="round" stroke-linejoin="round"/><path d="M320.0 850.0 C325.0 846.7 340.0 831.7 350.0 830.0 C360.0 828.3 370.0 835.0 380.0 840.0 C390.0 845.0 405.0 856.7 410.0 860.0" fill="none" stroke="#f3ead8" stroke-width="11" stroke-linecap="round" stroke-linejoin="round"/><ellipse cx="463" cy="148" rx="50" ry="62" fill="#4e2c1e" stroke="#2e1a10" stroke-width="5"/><ellipse cx="605" cy="385" rx="43" ry="48" fill="#4e2c1e" stroke="#2e1a10" stroke-width="5"/><ellipse cx="447" cy="210" rx="16" ry="10" fill="#e8b860"/><ellipse cx="578" cy="430" rx="14" ry="10" fill="#e8b860"/><circle cx="118" cy="805" r="32" fill="#eab56a" stroke="#b07a30" stroke-width="4"/><circle cx="106" cy="795" r="5" fill="#a8501c"/><circle cx="128" cy="793" r="5" fill="#a8501c"/><circle cx="118" cy="810" r="5" fill="#a8501c"/><circle cx="108" cy="819" r="5" fill="#a8501c"/><circle cx="130" cy="817" r="5" fill="#a8501c"/><circle cx="200" cy="815" r="32" fill="#eab56a" stroke="#b07a30" stroke-width="4"/><circle cx="188" cy="805" r="5" fill="#a8501c"/><circle cx="210" cy="803" r="5" fill="#a8501c"/><circle cx="200" cy="820" r="5" fill="#a8501c"/><circle cx="190" cy="829" r="5" fill="#a8501c"/><circle cx="212" cy="827" r="5" fill="#a8501c"/></g><text x="470.6" y="239" font-size="26" font-weight="bold">c</text><defs><clipPath id="vclip0"><rect x="508.5" y="220.6" width="144.7" height="103.6"/></clipPath><clipPath id="vclip1"><rect x="508.5" y="346.3" width="144.7" height="103.5"/></clipPath><clipPath id="vclip2"><rect x="508.5" y="472.3" width="144.7" height="103.1"/></clipPath></defs><line x1="524.9" y1="220.6" x2="524.9" y2="324.2" stroke="#f3f3f3" stroke-width="0.7"/><line x1="543.5" y1="220.6" x2="543.5" y2="324.2" stroke="#e8e8e8" stroke-width="0.7"/><line x1="562.2" y1="220.6" x2="562.2" y2="324.2" stroke="#f3f3f3" stroke-width="0.7"/><line x1="580.9" y1="220.6" x2="580.9" y2="324.2" stroke="#e8e8e8" stroke-width="0.7"/><line x1="599.6" y1="220.6" x2="599.6" y2="324.2" stroke="#f3f3f3" stroke-width="0.7"/><line x1="618.7" y1="220.6" x2="618.7" y2="324.2" stroke="#e8e8e8" stroke-width="0.7"/><line x1="637.4" y1="220.6" x2="637.4" y2="324.2" stroke="#f3f3f3" stroke-width="0.7"/><line x1="508.5" y1="318.9" x2="653.2" y2="318.9" stroke="#e8e8e8" stroke-width="0.7"/><line x1="506.0" y1="318.9" x2="508.5" y2="318.9" stroke="#aaa" stroke-width="0.6"/><text x="505.5" y="319.8" font-size="2.8" fill="#999" text-anchor="end">0</text><line x1="508.5" y1="303.3" x2="653.2" y2="303.3" stroke="#f3f3f3" stroke-width="0.7"/><line x1="508.5" y1="287.7" x2="653.2" y2="287.7" stroke="#e8e8e8" stroke-width="0.7"/><line x1="506.0" y1="287.7" x2="508.5" y2="287.7" stroke="#aaa" stroke-width="0.6"/><text x="505.5" y="288.6" font-size="2.8" fill="#999" text-anchor="end">5</text><line x1="508.5" y1="272.1" x2="653.2" y2="272.1" stroke="#f3f3f3" stroke-width="0.7"/><line x1="508.5" y1="256.5" x2="653.2" y2="256.5" stroke="#e8e8e8" stroke-width="0.7"/><line x1="506.0" y1="256.5" x2="508.5" y2="256.5" stroke="#aaa" stroke-width="0.6"/><text x="505.5" y="257.4" font-size="2.8" fill="#999" text-anchor="end">10</text><line x1="508.5" y1="240.9" x2="653.2" y2="240.9" stroke="#f3f3f3" stroke-width="0.7"/><line x1="508.5" y1="225.3" x2="653.2" y2="225.3" stroke="#e8e8e8" stroke-width="0.7"/><line x1="506.0" y1="225.3" x2="508.5" y2="225.3" stroke="#aaa" stroke-width="0.6"/><text x="505.5" y="226.2" font-size="2.8" fill="#999" text-anchor="end">15</text><line x1="543.5" y1="324.2" x2="543.5" y2="326.7" stroke="#aaa" stroke-width="0.6"/><line x1="580.9" y1="324.2" x2="580.9" y2="326.7" stroke="#aaa" stroke-width="0.6"/><line x1="618.7" y1="324.2" x2="618.7" y2="326.7" stroke="#aaa" stroke-width="0.6"/><g clip-path="url(#vclip0)"><path d="M571.4 319.8 L571.4 290.4 L572.2 291.0 L573.2 295.0 L574.3 300.0 L576.9 310.0 L579.0 316.0 L581.0 317.9 L583.0 316.0 L584.9 310.0 L587.8 300.0 L589.4 296.3 L590.4 296.0 L590.4 319.8Z" fill="#000"/><path d="M588.6 285.0 L590.4 285.0 L590.4 290.0 L589.2 289.0Z" fill="#000"/><path d="M536.0 318.5 L626.0 318.5 L626.0 320.1 L536.0 320.1Z" fill="#000"/><path d="M571.2 292.9h0M571.4 309.2h0M571.2 311.3h0M570.8 302.6h0M571.1 316.2h0M571.0 310.6h0M571.1 293.9h0M571.0 318.0h0M571.5 305.4h0M571.3 292.1h0M571.1 288.7h0M571.0 305.8h0M590.2 315.3h0M590.7 305.8h0M590.8 304.1h0M590.6 309.1h0M590.5 295.4h0M590.7 296.8h0M590.6 302.2h0M590.5 314.2h0M590.7 313.7h0M590.4 310.7h0M590.1 305.1h0M590.1 314.2h0M599.2 318.3h0M589.3 318.8h0M592.1 319.7h0M587.0 318.2h0M546.0 319.3h0M600.5 319.0h0M620.2 319.6h0M591.8 319.2h0M585.3 318.5h0M608.3 318.3h0M553.6 318.4h0M548.7 318.4h0M542.5 319.0h0M584.6 318.9h0M576.6 319.4h0M558.3 318.6h0M573.6 319.4h0M624.2 318.7h0M599.7 320.2h0M570.9 318.7h0M563.8 320.2h0M586.0 318.2h0M543.0 319.5h0M592.7 319.8h0M567.9 319.1h0M601.2 320.2h0M538.2 318.9h0M607.7 320.0h0M536.5 319.6h0M581.3 319.0h0M575.9 318.5h0M611.9 318.7h0M592.4 318.5h0M588.7 318.4h0M563.4 319.4h0M556.0 319.1h0M600.1 318.4h0M540.1 318.2h0M549.5 318.4h0M591.9 319.3h0" stroke="#000" stroke-width="1.5" stroke-linecap="round" fill="none"/><path d="M541.5 319.2H572.5M541.5 318.2H572.5M544.5 317.2H572.5M548.5 316.2H572.5M550.5 315.2H572.5M550.5 314.2H572.5M551.5 313.2H572.5M551.5 312.2H572.5M551.5 311.2H572.5M552.5 310.2H572.5M552.5 309.2H572.5M553.5 308.2H572.5M553.5 307.2H572.5M553.5 306.2H572.5M553.5 305.2H572.5M553.5 304.2H572.5M554.5 303.2H572.5M554.5 302.2H572.5M554.5 301.2H572.5M554.5 300.2H572.5M554.5 299.2H572.5M554.5 298.2H572.5M554.5 297.2H572.5M554.5 296.2H572.5M554.5 295.2H572.5M554.5 294.2H572.5M554.5 293.2H572.5M554.5 292.2H572.5M554.5 291.2H572.5M554.5 290.2H572.5M554.5 289.2H572.5M555.5 288.2H572.5M555.5 287.2H572.5M555.5 286.2H572.5M555.5 285.2H570.5M555.5 284.2H568.5M555.5 283.2H568.5M555.5 282.2H567.5M555.5 281.2H567.5M555.5 280.2H567.5M555.5 279.2H567.5M555.5 278.2H567.5M555.5 277.2H567.5M555.5 276.2H567.5M555.5 275.2H567.5M555.5 274.2H567.5M555.5 273.2H567.5M555.5 272.2H567.5M556.5 271.2H567.5M556.5 270.2H567.5M556.5 269.2H567.5M556.5 268.2H567.5M556.5 267.2H567.5M556.5 266.2H567.5M556.5 265.2H567.5M556.5 264.2H567.5M556.5 263.2H567.5M556.5 262.2H567.5" stroke="#0000ff" stroke-width="1.05" fill="none"/><path d="M589.8 319.2H606.8M589.8 318.2H606.8M589.8 317.2H604.8M589.8 316.2H603.8M589.8 315.2H603.8M589.8 314.2H602.8M589.8 313.2H602.8M589.8 312.2H602.8M589.8 311.2H602.8M589.8 310.2H601.8M589.8 309.2H601.8M589.8 308.2H601.8M589.8 307.2H601.8M589.8 306.2H601.8M589.8 305.2H601.8M589.8 304.2H601.8M589.8 303.2H601.8M589.8 302.2H601.8M589.8 301.2H601.8M589.8 300.2H601.8M589.8 299.2H601.8M589.8 298.2H601.8M589.8 297.2H601.8M589.8 296.2H601.8M589.8 295.2H601.8M589.8 294.2H601.8M589.8 293.2H601.8M589.8 292.2H601.8M589.8 291.2H601.8M589.8 290.2H601.8M589.8 289.2H601.8M589.8 288.2H600.8M589.8 287.2H600.8M589.8 286.2H600.8M589.8 285.2H600.8M589.8 284.2H600.8M590.8 283.2H600.8M590.8 282.2H600.8M590.8 281.2H600.8M590.8 280.2H600.8M591.8 279.2H600.8M591.8 278.2H600.8M591.8 277.2H600.8M591.8 276.2H600.8M591.8 275.2H600.8M592.8 274.2H600.8M592.8 273.2H600.8M592.8 272.2H600.8M592.8 271.2H600.8M592.8 270.2H600.8M592.8 269.2H600.8M592.8 268.2H600.8M592.8 267.2H600.8M592.8 266.2H600.8M592.8 265.2H600.8M592.8 264.2H600.8M592.8 263.2H600.8M592.8 262.2H600.8M592.8 261.2H600.8M592.8 260.2H599.8M593.8 259.2H597.8" stroke="#ff0000" stroke-width="1.05" fill="none"/><path d="M509.3 319.3h0M510.9 319.6h0M512.6 319.6h0M513.8 319.4h0M514.5 318.7h0M524.5 319.2h0M525.5 319.5h0M526.1 318.9h0M526.7 319.6h0M530.7 318.8h0M530.8 319.5h0M532.2 318.8h0M536.3 318.7h0M537.2 319.5h0M539.0 319.1h0M538.9 318.9h0M510.5 318.0h0M511.4 317.9h0M517.9 317.7h0M519.0 318.7h0M520.4 318.0h0M522.9 318.0h0M524.3 318.3h0M523.7 318.2h0M530.4 318.0h0M530.2 318.3h0M532.0 318.6h0M532.2 318.1h0M532.5 318.7h0M534.3 318.4h0M536.5 318.2h0M538.4 317.7h0M538.6 318.2h0M539.2 318.3h0M540.2 318.7h0M541.5 317.9h0M510.2 317.4h0M511.9 317.2h0M518.7 317.3h0M525.5 316.8h0M525.7 317.2h0M531.6 317.3h0M533.2 316.7h0M538.0 316.9h0M538.9 317.7h0M538.9 317.0h0M540.8 317.2h0M542.2 317.4h0M509.3 316.1h0M519.3 316.5h0M520.4 316.0h0M520.5 316.6h0M521.2 316.3h0M523.1 316.6h0M539.4 316.0h0M542.3 316.3h0M542.8 316.1h0M544.5 316.4h0M544.8 316.7h0M546.6 316.2h0M546.7 315.8h0M548.0 316.3h0M519.2 315.3h0M528.2 315.6h0M535.1 315.7h0M538.0 314.8h0M539.2 315.0h0M538.7 314.7h0M546.4 315.3h0M548.8 315.7h0M550.1 315.4h0M550.4 314.8h0M509.8 313.8h0M522.0 314.6h0M530.2 314.2h0M531.7 314.3h0M534.0 313.9h0M535.2 314.4h0M538.3 313.9h0M542.6 314.1h0M545.5 313.9h0M545.8 313.9h0M547.0 314.2h0M547.9 314.6h0M518.7 312.8h0M525.5 313.3h0M528.1 313.1h0M531.9 313.5h0M534.8 313.1h0M537.8 313.6h0M540.7 312.8h0M545.0 313.4h0M545.5 313.0h0M545.9 313.2h0M546.9 312.9h0M548.8 313.3h0M550.8 313.0h0M518.6 312.6h0M536.8 312.0h0M540.7 311.8h0M545.8 311.8h0M546.6 312.6h0M547.1 312.4h0M547.9 312.5h0M551.0 312.3h0M533.6 311.5h0M539.5 311.5h0M540.6 311.2h0M546.2 311.5h0M545.7 311.3h0M546.9 311.4h0M547.7 311.0h0M548.7 311.7h0M527.3 309.8h0M547.8 309.8h0M550.5 310.0h0M551.1 310.5h0M552.1 310.7h0M512.3 308.7h0M512.8 308.9h0M520.7 309.0h0M522.8 308.8h0M533.6 308.8h0M537.9 309.6h0M544.4 309.6h0M548.8 309.3h0M549.1 309.4h0M549.6 309.2h0M551.8 309.0h0M511.9 307.8h0M517.2 308.4h0M520.1 308.2h0M523.7 308.6h0M534.1 308.3h0M537.0 308.7h0M537.3 308.4h0M538.8 308.0h0M546.5 308.5h0M550.0 308.4h0M551.3 307.8h0M508.7 307.2h0M526.4 307.2h0M528.9 307.6h0M534.1 307.2h0M535.0 307.6h0M534.7 307.3h0M537.1 307.0h0M538.2 306.7h0M541.6 307.0h0M544.0 307.4h0M549.8 306.8h0M550.5 307.7h0M551.7 307.4h0M552.1 307.4h0M553.4 307.3h0M552.6 307.2h0M527.0 306.0h0M528.3 306.2h0M539.3 306.1h0M540.7 305.9h0M548.6 306.2h0M552.5 306.1h0M552.8 306.6h0M515.9 305.7h0M525.0 305.0h0M529.5 305.0h0M542.2 305.4h0M541.8 304.9h0M545.9 305.2h0M549.9 305.5h0M550.0 305.6h0M551.6 304.7h0M551.6 305.3h0M552.9 304.8h0M521.8 304.6h0M536.5 304.0h0M541.3 304.3h0M543.3 304.1h0M549.4 304.0h0M549.7 303.9h0M551.0 304.4h0M551.0 304.3h0M551.6 303.7h0M516.4 303.0h0M518.7 302.7h0M533.5 303.6h0M535.1 303.6h0M538.7 302.8h0M542.0 303.5h0M550.6 303.1h0M551.1 303.7h0M554.4 303.6h0M533.8 302.5h0M542.5 302.1h0M544.5 301.8h0M546.8 302.2h0M549.0 301.9h0M549.5 301.8h0M549.9 302.6h0M551.4 302.6h0M551.8 302.0h0M529.8 300.9h0M533.3 301.3h0M537.5 300.9h0M538.6 301.1h0M539.9 301.5h0M545.2 301.5h0M552.1 301.3h0M553.3 301.7h0M553.8 301.6h0M553.5 301.1h0M553.8 301.1h0M542.2 300.5h0M544.5 300.2h0M545.9 300.2h0M549.3 299.9h0M550.8 300.1h0M530.5 299.2h0M532.4 299.3h0M535.1 299.3h0M537.7 299.0h0M543.1 299.2h0M545.3 299.6h0M550.8 299.4h0M550.6 299.3h0M552.0 298.9h0M552.4 299.5h0M552.5 299.0h0M553.6 298.7h0M553.5 298.9h0M510.5 297.7h0M525.4 298.2h0M532.4 297.7h0M534.0 298.2h0M534.9 298.7h0M537.4 298.4h0M538.0 298.3h0M540.0 297.8h0M541.0 298.0h0M542.7 298.6h0M542.8 297.8h0M551.6 298.5h0M553.5 297.9h0M553.7 298.4h0M553.9 298.3h0M532.4 296.9h0M544.0 297.0h0M544.6 297.5h0M548.2 297.2h0M520.1 296.3h0M530.2 296.2h0M530.8 296.5h0M532.4 296.3h0M535.0 296.3h0M536.1 296.4h0M546.9 296.6h0M553.1 296.0h0M532.3 294.7h0M533.6 295.4h0M534.7 295.4h0M536.3 295.0h0M541.1 295.0h0M544.3 295.4h0M548.0 295.1h0M550.1 295.0h0M550.9 294.8h0M552.9 295.6h0M554.1 295.5h0M516.2 294.3h0M537.1 294.1h0M538.8 293.9h0M539.1 294.2h0M540.4 294.5h0M546.8 294.3h0M551.2 294.5h0M554.1 293.8h0M554.0 294.1h0M527.8 293.5h0M536.4 293.7h0M539.0 293.4h0M541.9 293.4h0M551.7 293.6h0M552.7 292.9h0M517.2 292.2h0M542.2 292.2h0M548.4 292.7h0M551.8 292.1h0M551.9 291.7h0M553.5 291.8h0M522.5 291.6h0M543.1 291.3h0M545.0 291.6h0M547.8 291.7h0M549.4 291.1h0M549.6 291.1h0M551.7 291.1h0M551.9 291.5h0M554.1 291.1h0M543.5 290.5h0M549.1 290.4h0M549.6 289.9h0M551.2 290.7h0M553.4 290.2h0M554.5 290.3h0M551.4 289.0h0M552.5 289.7h0M514.3 288.4h0M530.9 288.3h0M546.9 288.6h0M550.9 288.1h0M553.1 288.5h0M552.6 287.8h0M554.9 287.9h0M537.5 287.6h0M547.0 286.9h0M550.0 286.7h0M554.2 286.9h0M554.5 286.9h0M555.3 286.9h0M555.0 287.5h0M515.5 286.3h0M524.8 286.7h0M542.9 286.6h0M551.1 286.3h0M553.5 285.9h0M554.2 286.3h0M555.2 286.5h0M555.3 286.5h0M554.9 286.6h0M555.3 286.5h0M555.2 286.3h0M512.0 285.1h0M524.8 285.7h0M550.8 285.1h0M552.2 285.7h0M553.1 285.6h0M554.2 285.5h0M571.2 284.8h0M525.9 284.5h0M543.9 283.8h0M545.3 284.6h0M554.3 284.6h0M555.2 284.5h0M571.3 283.9h0M570.6 284.6h0M570.5 284.7h0M571.6 284.1h0M572.0 284.2h0M571.8 283.8h0M521.9 283.3h0M531.1 282.8h0M546.4 282.9h0M547.2 283.2h0M551.2 283.2h0M550.8 283.3h0M552.1 283.7h0M552.8 283.2h0M553.0 283.2h0M554.7 283.6h0M539.9 282.2h0M546.5 281.8h0M548.2 282.4h0M548.7 282.5h0M549.6 281.9h0M551.4 282.4h0M551.7 281.9h0M553.4 282.1h0M552.8 282.0h0M554.3 281.8h0M568.7 282.2h0M570.1 282.2h0M570.2 282.7h0M572.4 281.9h0M525.8 280.9h0M531.4 281.1h0M553.0 281.2h0M554.0 280.9h0M569.9 281.0h0M571.7 281.2h0M537.2 280.2h0M540.6 279.9h0M549.3 280.1h0M550.5 280.6h0M552.4 279.9h0M555.3 280.7h0M554.6 279.8h0M554.7 279.8h0M572.0 280.4h0M519.9 279.1h0M546.9 279.2h0M548.3 278.8h0M551.4 279.2h0M553.6 279.3h0M554.0 279.1h0M555.0 278.9h0M568.7 279.4h0M569.8 279.4h0M571.5 279.0h0M524.2 278.0h0M542.1 278.1h0M543.0 278.4h0M549.7 278.3h0M555.0 278.2h0M555.4 278.6h0M527.6 277.5h0M544.2 276.9h0M546.8 277.3h0M547.8 277.7h0M552.4 276.7h0M553.1 277.1h0M554.7 277.3h0M555.4 277.5h0M567.8 276.9h0M516.5 275.9h0M534.9 276.1h0M543.3 276.5h0M545.7 275.8h0M549.4 276.3h0M551.3 276.0h0M555.3 276.3h0M568.1 275.8h0M567.6 275.9h0M534.6 274.8h0M545.2 275.4h0M548.6 275.5h0M548.7 275.2h0M553.3 275.3h0M553.4 274.8h0M553.3 275.3h0M569.1 274.8h0M571.9 275.4h0M572.2 274.9h0M527.6 274.1h0M541.4 274.4h0M543.1 274.0h0M544.5 274.2h0M547.6 274.0h0M549.1 274.0h0M553.7 274.2h0M554.6 274.3h0M555.5 273.8h0M568.3 274.3h0M511.9 273.5h0M526.7 273.3h0M533.2 273.7h0M536.5 272.8h0M545.5 273.3h0M549.6 273.2h0M552.0 273.2h0M572.4 273.0h0M545.5 272.6h0M551.8 272.4h0M551.9 272.3h0M554.4 272.2h0M554.6 271.8h0M568.4 272.2h0M569.8 272.1h0M528.5 271.1h0M532.1 271.0h0M546.6 271.5h0M548.5 271.7h0M554.2 271.2h0M555.4 271.7h0M555.7 271.4h0M568.1 271.0h0M551.8 270.5h0M570.1 270.3h0M515.1 269.6h0M525.7 269.4h0M529.4 268.8h0M542.8 269.3h0M545.8 269.2h0M549.3 269.1h0M553.3 269.1h0M555.9 269.5h0M555.9 269.4h0M567.8 268.9h0M569.5 269.5h0M549.7 268.2h0M552.0 267.9h0M552.0 268.3h0M554.1 268.1h0M554.1 268.5h0M554.1 268.5h0M554.9 268.5h0M556.2 268.1h0M556.4 267.8h0M556.2 268.2h0M568.3 268.0h0M519.5 267.3h0M523.0 266.9h0M535.6 267.0h0M540.5 267.0h0M553.1 266.9h0M553.9 267.1h0M553.7 267.7h0M555.3 267.1h0M567.6 266.9h0M571.0 267.0h0M571.2 267.7h0M521.0 266.1h0M543.6 266.2h0M547.8 266.4h0M548.7 266.4h0M549.1 265.9h0M550.0 266.6h0M552.0 265.8h0M552.5 266.7h0M552.6 266.0h0M554.3 266.7h0M554.7 266.5h0M556.4 266.6h0M521.7 265.2h0M550.2 265.4h0M551.7 265.2h0M569.0 265.2h0M517.8 264.6h0M525.9 263.8h0M532.9 264.5h0M548.5 264.2h0M549.8 263.8h0M552.3 264.0h0M554.1 264.0h0M556.1 263.8h0M556.1 264.3h0M569.5 264.1h0M543.1 263.4h0M550.0 263.4h0M551.8 262.9h0M551.6 263.1h0M553.6 263.0h0M554.7 263.0h0M529.8 261.7h0M534.0 261.8h0M547.0 262.7h0M548.9 262.4h0M551.7 261.8h0M555.0 262.1h0M556.4 261.7h0M528.5 261.4h0M535.5 261.6h0M547.8 260.8h0M550.4 261.7h0M552.8 261.3h0M554.9 261.4h0M554.6 261.2h0M555.1 261.3h0M555.2 261.0h0M556.0 260.7h0M555.6 261.6h0M557.2 261.5h0M558.5 261.1h0M557.8 261.0h0M559.0 261.5h0M561.0 261.5h0M561.7 261.4h0M564.0 260.7h0M564.4 261.2h0M565.0 261.0h0M564.9 261.4h0M564.7 261.1h0M566.2 261.3h0M566.1 261.6h0M510.8 260.3h0M551.8 260.0h0M553.1 260.5h0M553.6 260.4h0M554.9 259.8h0M557.9 259.9h0M560.0 260.3h0M559.6 260.1h0M560.5 259.8h0M562.9 260.6h0M562.8 259.7h0M562.5 259.9h0M563.7 260.6h0M564.1 260.2h0M564.9 260.3h0M565.2 259.9h0M535.3 258.8h0M540.8 259.2h0M546.3 258.8h0M547.0 259.3h0M548.2 259.3h0M548.8 258.7h0M549.1 259.2h0M549.6 259.3h0M553.1 258.7h0M555.3 259.2h0M555.1 258.9h0M555.1 259.5h0M556.5 259.2h0M557.4 259.4h0M557.0 259.2h0M557.9 259.4h0M559.5 258.8h0M559.6 258.9h0M562.2 259.5h0M563.0 258.8h0M565.3 259.5h0M564.9 259.6h0M565.6 259.2h0M566.5 258.9h0M566.8 259.4h0M567.3 259.3h0M531.7 258.0h0M539.5 258.4h0M544.9 257.9h0M546.5 258.1h0M548.2 257.8h0M552.1 258.0h0M552.8 258.0h0M556.1 258.2h0M557.8 257.9h0M557.8 258.5h0M560.1 257.8h0M560.8 258.3h0M561.9 258.6h0M563.1 258.7h0M563.1 258.6h0M565.6 257.9h0M522.3 256.9h0M545.3 256.8h0M545.3 257.6h0M551.8 256.8h0M556.0 257.6h0M557.5 257.6h0M558.5 256.8h0M560.4 256.8h0M562.3 257.2h0M563.9 257.7h0M567.3 257.5h0M567.2 257.5h0M567.4 257.1h0M520.0 255.8h0M535.9 256.0h0M544.1 256.3h0M549.8 256.1h0M551.4 256.3h0M552.1 256.3h0M556.0 256.1h0M555.6 255.8h0M558.4 256.1h0M558.7 256.2h0M560.8 256.6h0M561.9 256.1h0M563.9 256.5h0M563.8 256.2h0M564.9 256.2h0M565.4 255.8h0M564.5 256.4h0M566.6 256.2h0M567.9 256.0h0M516.4 255.2h0M523.0 255.6h0M545.2 255.5h0M547.7 255.5h0M549.3 255.5h0M548.8 255.1h0M554.1 255.7h0M556.5 255.2h0M556.7 255.4h0M558.3 255.0h0M559.3 255.0h0M561.8 255.2h0M561.8 255.2h0M561.9 255.6h0M562.8 255.3h0M563.6 255.7h0M565.4 255.4h0M533.5 254.0h0M545.5 254.0h0M546.8 253.7h0M548.4 254.0h0M554.4 254.3h0M554.2 254.6h0M554.6 253.9h0M559.1 254.1h0M560.6 253.7h0M562.3 254.5h0M562.8 254.2h0M563.2 254.0h0M567.2 254.3h0M542.2 253.1h0M546.2 253.5h0M552.5 253.5h0M555.2 253.0h0M556.7 253.0h0M557.5 252.8h0M558.4 253.1h0M557.7 253.0h0M558.6 253.2h0M559.8 253.1h0M559.6 253.5h0M563.2 252.8h0M564.4 253.4h0M555.5 252.5h0M555.9 252.5h0M556.1 252.3h0M559.9 252.0h0M560.5 252.7h0M565.5 252.2h0M566.6 252.6h0M513.7 251.0h0M543.9 251.0h0M547.6 250.8h0M548.7 251.3h0M553.4 251.2h0M553.6 251.3h0M555.2 251.3h0M556.5 251.5h0M560.0 251.5h0M561.1 251.3h0M561.7 250.8h0M563.7 250.8h0M565.4 251.2h0M565.2 251.6h0M564.7 250.9h0M565.2 250.9h0M540.8 249.8h0M543.4 250.1h0M546.1 249.8h0M552.8 250.6h0M553.7 250.7h0M555.5 250.7h0M556.8 250.5h0M561.1 249.7h0M561.3 249.7h0M562.1 249.8h0M562.9 250.5h0M563.9 250.3h0M532.3 248.7h0M540.4 249.3h0M541.1 249.4h0M542.4 249.6h0M546.5 249.4h0M551.3 249.3h0M553.4 249.0h0M552.7 248.8h0M554.9 249.3h0M555.7 249.3h0M559.3 249.2h0M559.8 249.3h0M561.2 249.3h0M561.0 249.6h0M562.0 249.1h0M561.6 248.8h0M531.4 248.1h0M539.4 247.8h0M540.1 248.7h0M553.5 248.2h0M556.4 248.5h0M556.4 248.7h0M556.7 248.6h0M558.8 247.9h0M559.7 248.6h0M559.8 248.5h0M563.2 248.0h0M563.1 248.7h0M564.0 248.5h0M567.6 248.2h0M543.9 247.6h0M546.6 247.5h0M552.0 247.0h0M552.4 247.4h0M553.2 247.2h0M554.1 247.0h0M556.3 247.6h0M555.7 247.6h0M558.7 246.9h0M561.9 247.4h0M562.2 247.0h0M563.3 247.3h0M563.5 247.3h0M566.3 247.2h0M566.3 247.2h0M566.7 247.7h0M510.1 246.3h0M535.7 246.0h0M541.2 246.0h0M544.1 245.8h0M544.5 245.8h0M549.4 246.4h0M550.0 246.6h0M551.5 245.8h0M554.4 245.8h0M558.0 246.6h0M559.7 246.4h0M563.4 246.1h0M563.0 245.9h0M562.7 246.2h0M564.2 245.7h0M530.7 245.6h0M533.6 244.8h0M550.6 245.4h0M553.6 245.3h0M554.8 245.4h0M557.5 245.6h0M558.2 244.7h0M561.0 244.9h0M561.3 245.5h0M562.1 244.7h0M562.9 244.9h0M565.6 245.6h0M567.5 244.8h0M568.9 244.7h0M517.9 244.6h0M531.9 244.2h0M548.8 243.7h0M550.0 244.6h0M551.5 244.0h0M552.4 244.7h0M551.9 243.8h0M552.2 243.8h0M554.0 244.7h0M556.3 243.9h0M558.2 243.9h0M559.5 244.6h0M560.5 244.4h0M560.8 244.3h0M562.7 244.1h0M542.4 242.8h0M550.6 243.5h0M551.5 243.7h0M553.4 243.3h0M556.8 243.4h0M557.5 243.6h0M559.7 243.5h0M559.9 243.0h0M560.8 243.5h0M562.1 243.1h0M511.3 242.0h0M518.1 242.0h0M551.0 242.7h0M555.1 242.2h0M556.4 242.3h0M557.2 242.5h0M557.6 241.9h0M558.9 242.1h0M560.0 241.7h0M561.5 241.8h0M530.5 241.2h0M536.2 241.2h0M539.3 241.1h0M543.1 241.2h0M546.9 240.9h0M554.3 241.4h0M554.0 241.2h0M555.5 240.9h0M558.9 240.8h0M558.5 241.3h0M560.5 241.4h0M560.5 241.6h0M559.9 241.6h0M562.2 241.5h0M561.7 241.4h0M564.3 241.1h0M519.1 239.8h0M538.9 240.0h0M538.8 239.9h0M542.8 240.1h0M549.2 240.4h0M552.9 240.0h0M556.3 240.5h0M559.1 239.9h0M559.3 240.3h0M561.3 240.7h0M562.5 240.1h0M563.7 240.6h0M517.8 239.2h0M546.3 239.6h0M552.4 239.7h0M552.7 239.1h0M553.0 238.9h0M555.2 239.2h0M556.6 239.0h0M560.4 239.4h0M563.2 238.8h0M533.9 238.4h0M543.2 238.4h0M542.6 238.3h0M546.7 238.2h0M549.4 238.0h0M550.3 237.8h0M552.2 238.6h0M555.6 238.4h0M555.9 238.4h0M557.2 238.6h0M559.0 237.8h0M559.1 238.6h0M558.5 238.0h0M560.5 237.9h0M563.7 238.5h0M563.8 237.8h0M565.6 238.1h0M542.5 237.3h0M542.3 237.4h0M550.0 237.5h0M552.2 237.0h0M552.6 237.6h0M554.3 237.6h0M554.7 237.0h0M556.7 237.7h0M558.2 236.8h0M566.1 237.5h0M512.2 236.4h0M536.8 236.0h0M545.0 236.0h0M554.6 236.1h0M554.6 236.5h0M556.5 236.1h0M557.7 236.2h0M558.7 236.4h0M564.8 236.7h0M540.7 235.4h0M543.6 235.4h0M551.5 234.8h0M551.6 235.5h0M554.8 235.4h0M558.4 235.4h0M559.4 235.1h0M559.8 234.8h0M561.7 234.8h0M562.6 235.6h0M564.4 235.4h0M563.5 234.9h0M565.2 235.1h0M525.0 233.8h0M528.8 234.5h0M537.8 234.2h0M548.5 234.4h0M548.4 234.7h0M549.1 234.3h0M550.2 234.4h0M550.1 234.7h0M551.4 234.7h0M552.3 234.4h0M551.7 234.5h0M554.2 233.8h0M554.6 233.7h0M558.2 233.7h0M558.7 233.9h0M562.1 233.8h0M562.8 233.7h0M564.0 234.6h0M565.8 234.4h0M536.4 233.5h0M541.0 232.9h0M550.9 233.5h0M551.6 233.2h0M554.3 233.4h0M553.8 233.4h0M556.9 232.9h0M558.2 233.2h0M561.4 233.0h0M544.1 231.8h0M550.2 231.9h0M552.6 232.6h0M556.0 231.9h0M559.5 231.8h0M559.8 232.6h0M564.4 232.2h0M565.5 231.8h0M518.1 231.3h0M530.0 231.5h0M546.5 230.9h0M550.0 231.0h0M553.9 230.9h0M558.3 230.8h0M558.3 231.0h0M558.4 231.2h0M558.7 230.7h0M561.4 230.7h0M562.2 231.3h0M544.5 230.2h0M546.9 230.6h0M548.2 230.0h0M550.4 229.9h0M551.1 229.9h0M551.8 229.9h0M556.3 229.9h0M555.9 230.0h0M556.9 229.8h0M558.9 229.9h0M561.1 229.9h0M562.4 230.2h0M562.7 229.8h0M566.4 230.3h0M535.9 229.7h0M547.3 229.3h0M551.9 229.1h0M553.5 229.7h0M557.0 229.4h0M563.4 229.0h0M534.7 228.4h0M535.7 227.8h0M540.4 228.6h0M540.7 227.9h0M542.5 228.0h0M544.5 228.7h0M546.5 228.5h0M547.8 227.8h0M547.8 228.6h0M550.3 228.2h0M550.2 228.2h0M549.6 228.7h0M550.6 227.7h0M553.8 227.9h0M553.6 228.7h0M556.2 228.3h0M556.2 228.4h0M556.4 227.9h0M556.3 228.4h0M557.6 227.7h0M559.9 228.0h0M559.7 228.4h0M564.4 228.3h0M546.2 227.7h0M546.1 227.0h0M546.6 227.4h0M553.8 227.1h0M554.7 227.5h0M555.5 227.0h0M556.7 227.1h0M557.1 227.3h0M558.9 227.1h0M560.4 227.5h0M560.8 227.7h0M536.0 226.4h0M538.8 226.7h0M544.3 226.6h0M543.8 226.1h0M547.7 226.0h0M547.9 226.2h0M552.8 226.3h0M556.0 225.9h0M555.7 226.4h0M562.5 225.8h0M563.2 226.7h0M563.0 226.0h0M524.7 225.7h0M535.3 225.2h0M547.9 225.4h0M549.2 224.9h0M552.9 224.9h0M554.9 224.8h0M555.5 225.4h0M560.3 225.2h0M560.0 224.7h0M561.7 225.3h0M566.0 225.6h0M527.6 224.5h0M544.6 224.3h0M545.8 223.7h0M548.0 223.8h0M549.3 224.2h0M551.9 224.0h0M555.2 224.4h0M556.0 223.8h0M558.2 224.2h0M560.3 224.1h0M563.1 224.4h0M564.1 223.8h0M509.4 223.2h0M537.4 223.3h0M540.1 223.6h0M542.0 222.7h0M544.7 223.1h0M547.0 223.5h0M549.0 222.8h0M550.9 222.8h0M553.3 222.9h0M553.7 223.4h0M553.8 223.5h0M556.1 223.0h0M556.2 223.2h0M558.3 223.7h0M561.1 223.6h0M525.5 222.1h0M527.9 222.2h0M540.7 222.6h0M544.5 222.0h0M549.7 222.3h0M552.9 222.2h0M555.7 222.4h0M555.7 222.3h0M556.7 221.7h0M556.9 222.1h0M559.3 222.7h0M559.0 222.1h0M559.2 222.0h0M559.5 222.4h0M562.8 222.4h0M538.8 221.7h0M544.9 221.5h0M549.9 221.2h0M551.8 221.6h0M552.9 221.3h0M555.2 221.6h0M554.9 221.5h0M558.2 221.7h0M559.8 221.1h0" stroke="#0000ff" stroke-width="1.9" stroke-linecap="round" fill="none"/><path d="M607.1 319.5h0M612.6 319.3h0M612.7 319.1h0M618.1 318.8h0M628.2 319.1h0M635.3 319.3h0M606.9 317.7h0M607.4 317.9h0M608.3 318.6h0M608.3 318.5h0M609.0 317.8h0M610.5 318.5h0M609.9 317.8h0M635.4 318.5h0M604.9 317.0h0M607.7 317.1h0M607.2 317.2h0M609.2 317.1h0M609.8 316.7h0M609.7 317.2h0M611.8 317.7h0M615.8 317.5h0M616.4 317.1h0M622.8 316.7h0M626.0 317.5h0M632.3 316.9h0M645.2 317.6h0M650.2 316.8h0M604.9 316.4h0M604.9 316.6h0M606.1 315.9h0M607.5 316.5h0M608.9 316.2h0M614.1 316.6h0M614.4 316.2h0M618.1 316.2h0M622.8 316.5h0M623.4 316.2h0M632.5 316.5h0M636.8 316.4h0M604.7 315.4h0M604.9 315.0h0M605.4 315.4h0M608.0 314.8h0M609.8 314.9h0M611.9 315.4h0M616.5 315.6h0M625.6 315.6h0M602.9 314.3h0M603.1 313.8h0M605.7 313.9h0M606.2 313.8h0M606.2 314.0h0M605.8 314.0h0M606.9 314.2h0M609.9 313.9h0M628.0 314.2h0M610.0 312.8h0M613.0 313.5h0M634.8 313.3h0M640.4 313.6h0M604.9 312.3h0M609.6 312.5h0M611.8 311.9h0M611.8 312.2h0M616.7 311.9h0M637.4 312.0h0M603.4 310.7h0M604.9 311.4h0M606.6 311.0h0M616.4 311.2h0M639.6 311.3h0M602.3 310.4h0M602.9 310.6h0M604.8 310.6h0M608.3 309.9h0M613.9 310.6h0M631.5 310.4h0M639.3 310.1h0M643.5 310.4h0M602.9 308.9h0M603.1 309.3h0M604.7 309.2h0M604.2 309.4h0M626.7 309.0h0M628.9 309.6h0M602.0 308.4h0M604.2 308.2h0M605.4 307.9h0M605.8 308.6h0M605.9 308.4h0M611.3 308.2h0M612.9 307.9h0M615.1 308.1h0M621.5 308.1h0M626.0 308.1h0M632.4 307.7h0M603.7 307.0h0M605.6 307.4h0M605.5 307.0h0M605.9 307.6h0M610.8 307.4h0M602.7 306.1h0M601.9 306.4h0M604.7 306.2h0M607.0 306.7h0M607.4 306.1h0M607.1 306.4h0M611.0 306.5h0M611.9 306.5h0M617.4 306.1h0M622.9 306.4h0M648.4 306.2h0M603.9 305.6h0M610.8 305.0h0M610.1 305.6h0M610.2 305.0h0M615.1 305.6h0M622.8 305.0h0M629.0 304.7h0M602.2 304.0h0M607.6 304.2h0M618.5 304.0h0M602.0 303.2h0M604.3 303.5h0M604.2 303.6h0M605.2 302.7h0M607.4 302.9h0M615.2 303.0h0M645.0 302.9h0M649.2 302.9h0M604.8 302.0h0M604.3 302.1h0M604.3 302.4h0M605.0 302.5h0M607.2 302.0h0M610.4 302.1h0M611.5 302.5h0M614.6 302.3h0M617.0 302.6h0M602.7 300.9h0M605.5 300.8h0M605.1 300.8h0M610.9 301.0h0M618.7 300.8h0M608.6 300.6h0M612.1 300.7h0M617.1 300.6h0M602.9 299.3h0M603.3 299.1h0M607.1 299.6h0M625.3 298.9h0M627.5 299.2h0M602.6 298.5h0M605.1 298.5h0M606.2 297.9h0M616.5 298.3h0M618.3 298.2h0M625.9 297.9h0M630.9 298.3h0M602.9 297.2h0M603.9 296.7h0M605.3 297.6h0M610.3 297.1h0M618.1 297.6h0M633.2 296.8h0M637.2 297.5h0M604.5 295.8h0M604.0 296.1h0M611.9 296.2h0M615.2 296.2h0M631.4 296.6h0M604.6 295.6h0M609.7 295.4h0M613.7 295.3h0M603.6 294.0h0M605.2 293.9h0M606.5 294.1h0M613.2 294.1h0M635.0 294.0h0M638.4 294.5h0M603.0 293.2h0M607.3 293.7h0M611.7 293.4h0M615.4 293.0h0M626.7 293.1h0M630.5 292.7h0M647.1 293.0h0M652.2 293.3h0M603.2 292.2h0M607.4 292.5h0M616.3 292.5h0M645.0 292.2h0M602.9 291.4h0M603.4 291.3h0M606.1 291.6h0M644.3 291.3h0M605.8 289.8h0M609.4 290.5h0M610.1 290.0h0M617.7 289.9h0M620.2 289.8h0M620.4 290.0h0M624.3 289.8h0M634.0 290.4h0M602.9 289.6h0M606.1 289.6h0M601.2 288.4h0M602.0 288.4h0M604.2 287.9h0M609.8 287.8h0M613.1 287.7h0M621.1 288.2h0M607.4 287.2h0M619.6 286.8h0M622.3 287.4h0M602.3 285.8h0M602.0 286.3h0M607.2 286.1h0M621.2 286.5h0M622.6 286.1h0M603.6 285.1h0M606.3 285.3h0M606.3 285.3h0M609.5 284.7h0M611.2 285.5h0M601.7 284.3h0M601.2 284.2h0M602.1 284.3h0M603.6 283.9h0M604.2 283.7h0M605.8 284.3h0M610.9 284.5h0M590.0 283.5h0M602.2 282.8h0M603.5 283.6h0M604.2 283.5h0M604.9 282.8h0M605.4 283.6h0M606.9 282.8h0M609.4 282.8h0M610.1 283.7h0M648.1 283.1h0M590.4 282.5h0M600.9 282.2h0M610.1 281.8h0M589.9 280.9h0M603.3 281.4h0M604.3 279.9h0M604.3 280.3h0M605.5 280.0h0M611.8 279.7h0M612.4 280.4h0M643.3 280.3h0M589.9 278.9h0M601.5 279.6h0M602.5 279.6h0M602.1 279.0h0M608.0 279.6h0M634.3 279.0h0M600.9 278.0h0M605.5 278.7h0M605.0 278.7h0M608.9 278.6h0M618.1 278.4h0M619.2 278.3h0M639.2 278.3h0M601.2 277.3h0M615.3 277.0h0M625.1 277.2h0M600.9 275.8h0M604.3 275.9h0M610.2 275.8h0M611.3 276.5h0M627.1 276.0h0M590.7 275.0h0M601.3 275.5h0M601.8 275.3h0M604.4 275.0h0M605.7 275.2h0M605.4 275.6h0M609.2 275.0h0M641.2 275.2h0M590.4 274.6h0M601.5 273.8h0M600.8 274.3h0M601.1 274.7h0M602.6 273.7h0M604.4 274.1h0M607.1 274.0h0M612.5 274.3h0M603.1 273.7h0M606.1 273.2h0M628.4 273.0h0M634.3 272.9h0M591.8 272.7h0M592.1 272.3h0M600.9 272.0h0M605.8 271.8h0M607.8 272.7h0M609.3 271.9h0M610.6 272.1h0M632.7 272.6h0M590.5 271.5h0M591.6 271.5h0M592.8 271.2h0M606.5 270.9h0M611.6 270.8h0M611.8 271.0h0M592.4 270.0h0M604.9 269.8h0M607.7 269.9h0M610.4 270.3h0M630.9 270.0h0M591.5 269.4h0M592.7 268.8h0M592.0 269.0h0M601.2 269.2h0M602.4 268.7h0M602.9 269.3h0M603.1 268.7h0M603.7 268.8h0M603.9 269.2h0M604.2 268.7h0M612.0 268.9h0M590.1 267.8h0M590.7 268.0h0M603.3 268.3h0M607.7 268.1h0M624.1 267.8h0M601.5 267.3h0M601.8 266.9h0M602.9 267.0h0M611.5 267.3h0M626.7 266.8h0M627.0 267.3h0M627.3 267.1h0M592.0 266.6h0M604.2 266.0h0M605.5 266.6h0M611.1 266.0h0M618.3 266.1h0M621.8 266.0h0M592.3 265.1h0M592.3 264.8h0M602.6 265.5h0M607.9 265.0h0M609.1 264.8h0M609.7 265.4h0M618.6 265.6h0M591.1 264.7h0M602.1 264.4h0M604.3 263.9h0M604.0 264.0h0M607.1 263.8h0M608.1 264.5h0M614.0 263.8h0M616.9 263.8h0M648.1 264.7h0M592.1 262.8h0M592.7 263.2h0M605.7 263.4h0M605.5 263.2h0M613.0 263.3h0M619.4 263.7h0M591.9 262.1h0M592.7 262.5h0M591.8 262.0h0M602.6 262.0h0M604.8 262.7h0M609.6 262.4h0M639.7 262.3h0M592.5 261.6h0M601.8 260.8h0M601.7 261.5h0M602.4 261.6h0M609.1 261.4h0M610.6 261.3h0M636.0 261.6h0M592.4 260.3h0M603.7 259.8h0M602.9 260.0h0M605.0 259.7h0M604.8 260.3h0M609.5 260.5h0M609.5 260.4h0M619.4 260.1h0M645.4 259.8h0M591.8 259.5h0M598.3 258.9h0M599.8 259.6h0M600.3 258.8h0M601.7 259.6h0M602.3 258.9h0M604.2 259.7h0M605.5 259.6h0M609.7 259.6h0M611.5 258.9h0M592.5 258.1h0M594.7 258.7h0M595.2 258.4h0M597.7 258.5h0M597.2 258.6h0M598.4 258.7h0M600.2 258.4h0M600.8 257.7h0M602.2 257.8h0M603.2 257.9h0M605.0 258.2h0M611.0 258.0h0M617.9 258.6h0M620.9 258.5h0M594.5 257.1h0M595.1 256.8h0M596.7 257.4h0M597.4 257.2h0M599.2 257.3h0M601.4 257.2h0M601.0 256.8h0M604.7 256.9h0M610.8 257.4h0M612.7 257.3h0M618.6 257.4h0M621.7 257.6h0M629.4 257.1h0M633.3 256.8h0M592.8 256.4h0M595.7 256.6h0M600.5 255.9h0M600.5 255.9h0M601.1 256.2h0M603.2 255.9h0M603.8 255.7h0M604.3 256.4h0M615.5 256.0h0M615.0 256.3h0M593.8 254.8h0M594.0 255.1h0M595.2 255.2h0M598.4 255.6h0M599.3 255.5h0M601.4 255.6h0M604.8 255.6h0M605.9 254.7h0M607.0 255.4h0M611.6 255.1h0M620.0 255.4h0M621.6 255.1h0M590.3 254.2h0M592.2 254.5h0M592.7 254.1h0M592.1 254.3h0M595.6 254.6h0M596.1 253.7h0M597.7 254.2h0M597.1 254.7h0M597.5 254.0h0M599.5 254.7h0M601.1 254.3h0M601.9 254.4h0M602.9 253.8h0M604.5 253.7h0M612.2 254.5h0M614.1 254.6h0M618.9 254.7h0M591.0 252.7h0M592.7 253.3h0M593.4 253.6h0M594.3 252.8h0M594.6 253.2h0M595.5 252.8h0M595.4 253.1h0M596.4 252.7h0M596.7 252.9h0M600.2 252.8h0M601.8 253.5h0M602.7 253.6h0M602.6 253.3h0M602.1 253.0h0M604.4 253.6h0M607.6 253.1h0M611.6 253.2h0M610.9 253.5h0M622.8 252.9h0M623.6 252.8h0M629.5 253.2h0M590.5 252.2h0M592.2 252.0h0M593.3 252.4h0M594.2 251.8h0M594.9 252.2h0M598.7 252.1h0M598.5 252.4h0M599.7 252.0h0M600.7 251.8h0M601.2 252.6h0M605.7 251.7h0M605.3 252.2h0M605.8 252.7h0M608.1 252.1h0M620.9 252.1h0M623.3 252.4h0M591.2 250.8h0M594.2 251.1h0M594.6 251.5h0M597.2 251.0h0M597.2 251.5h0M599.5 251.6h0M599.0 250.7h0M600.2 250.8h0M600.0 251.6h0M601.2 251.5h0M601.3 250.9h0M603.0 250.8h0M606.4 251.0h0M607.2 251.3h0M609.3 251.4h0M615.8 251.1h0M628.8 250.8h0M629.2 251.2h0M638.2 251.4h0M592.8 250.0h0M594.5 249.9h0M595.5 250.7h0M599.1 250.4h0M600.0 250.4h0M600.7 250.4h0M601.6 250.3h0M601.5 250.6h0M606.1 250.0h0M608.9 250.6h0M621.5 250.1h0M593.3 249.0h0M592.9 248.8h0M593.1 249.5h0M593.0 249.5h0M595.6 249.2h0M596.7 249.2h0M598.2 249.6h0M598.7 249.4h0M599.2 249.6h0M600.2 249.1h0M601.8 248.7h0M602.7 248.9h0M602.6 248.9h0M619.5 249.2h0M591.3 248.0h0M592.9 248.3h0M595.2 247.9h0M594.9 247.9h0M595.8 248.3h0M596.1 248.0h0M597.9 247.9h0M599.4 248.7h0M599.3 248.2h0M600.9 248.3h0M602.4 247.9h0M602.5 248.0h0M614.9 248.4h0M592.9 247.5h0M593.8 247.0h0M593.0 247.4h0M595.2 247.6h0M596.6 247.6h0M598.3 247.1h0M599.2 247.2h0M600.1 247.7h0M599.9 247.5h0M600.8 247.4h0M600.1 247.3h0M610.8 247.3h0M609.8 247.2h0M590.9 246.3h0M592.7 246.7h0M593.5 246.2h0M594.6 245.7h0M594.5 246.3h0M595.6 245.8h0M596.7 246.3h0M596.4 246.5h0M596.2 246.6h0M596.9 245.8h0M597.4 246.7h0M599.3 246.2h0M601.3 246.1h0M601.5 246.5h0M601.9 246.4h0M606.3 245.8h0M612.8 246.4h0M649.1 246.3h0M593.7 245.4h0M594.6 245.1h0M594.0 245.7h0M597.5 245.1h0M597.1 245.7h0M599.0 244.9h0M599.0 245.5h0M599.5 245.6h0M600.7 245.7h0M599.8 244.9h0M603.5 245.6h0M593.6 244.4h0M594.7 244.2h0M594.2 243.8h0M597.6 243.8h0M599.2 244.4h0M599.1 244.1h0M600.8 243.8h0M602.8 244.2h0M604.0 244.2h0M608.5 244.0h0M617.5 244.6h0M619.3 243.8h0M592.9 243.1h0M599.7 243.2h0M599.0 242.8h0M600.8 243.0h0M601.6 243.1h0M602.2 243.5h0M602.5 243.5h0M604.1 242.9h0M604.3 242.9h0M607.2 243.2h0M608.9 243.7h0M616.2 242.9h0M637.0 243.4h0M594.9 242.5h0M595.9 242.0h0M597.7 242.3h0M600.6 242.0h0M601.4 241.9h0M602.8 242.4h0M604.2 242.5h0M604.2 242.2h0M605.6 242.5h0M607.2 241.9h0M610.8 242.1h0M595.0 241.4h0M597.2 241.6h0M598.9 241.4h0M600.5 240.7h0M600.6 241.4h0M600.2 240.7h0M600.9 241.5h0M601.4 241.3h0M602.1 241.5h0M603.0 241.2h0M605.9 241.5h0M614.9 241.1h0M640.0 241.0h0M593.4 240.0h0M594.1 240.6h0M597.3 239.9h0M599.9 240.2h0M601.5 240.5h0M603.3 240.0h0M604.7 240.6h0M605.6 240.4h0M605.5 240.3h0M607.7 239.9h0M618.6 240.1h0M596.0 239.1h0M598.5 239.3h0M597.9 239.1h0M600.1 239.1h0M605.5 238.8h0M607.3 238.7h0M612.4 238.9h0M624.7 239.2h0M593.7 238.6h0M595.5 238.2h0M597.1 237.8h0M598.4 238.6h0M599.4 238.2h0M599.0 238.0h0M602.6 238.2h0M604.0 238.4h0M604.6 238.6h0M612.3 238.0h0M627.9 237.9h0M596.1 237.2h0M596.4 237.6h0M599.7 237.0h0M599.0 236.8h0M598.8 237.1h0M599.2 237.7h0M602.1 237.2h0M602.6 237.6h0M609.1 237.6h0M609.4 237.3h0M620.8 237.4h0M594.7 236.0h0M594.7 236.4h0M597.2 236.7h0M600.5 235.7h0M601.5 236.2h0M602.7 235.9h0M602.7 236.1h0M617.6 235.7h0M596.1 234.9h0M596.2 235.6h0M597.0 235.2h0M598.1 234.8h0M600.8 235.0h0M602.4 235.0h0M602.8 235.4h0M608.6 234.8h0M608.5 234.8h0M636.9 235.7h0M596.3 233.7h0M596.5 233.9h0M597.4 234.2h0M597.7 233.9h0M598.1 234.6h0M600.6 234.3h0M603.6 233.9h0M604.2 233.8h0M606.7 234.3h0M607.9 234.6h0M609.0 233.8h0M620.1 234.4h0M637.6 233.9h0M596.4 233.1h0M598.6 232.8h0M598.2 232.9h0M599.2 233.3h0M600.3 233.7h0M600.5 232.9h0M603.4 232.8h0M604.6 232.9h0M605.7 233.0h0M594.9 232.4h0M599.2 232.5h0M600.3 232.1h0M600.2 232.0h0M602.2 232.7h0M602.1 231.9h0M605.8 232.0h0M607.5 232.2h0M608.8 232.2h0M594.1 230.7h0M596.7 231.2h0M596.2 230.9h0M600.7 231.1h0M600.8 230.9h0M607.2 230.9h0M613.5 231.7h0M617.2 231.0h0M620.1 230.7h0M597.2 230.4h0M598.4 230.1h0M598.9 230.5h0M599.5 230.5h0M600.6 230.2h0M601.5 229.8h0M615.0 230.5h0M594.9 229.2h0M595.3 229.0h0M596.5 229.7h0M595.9 229.5h0M597.7 229.3h0M598.7 228.8h0M599.3 228.9h0M602.6 229.5h0M609.8 229.3h0M619.0 228.8h0M626.6 229.6h0M647.1 229.7h0M593.8 227.8h0M593.6 228.2h0M595.5 227.8h0M597.1 228.6h0M597.6 228.3h0M600.2 227.7h0M601.1 227.9h0M601.4 228.4h0M601.4 227.9h0M605.5 228.7h0M607.1 228.4h0M609.3 228.5h0M624.6 228.4h0M637.1 228.0h0M593.7 226.8h0M595.1 227.1h0M596.2 226.7h0M596.7 227.1h0M596.8 227.0h0M599.2 226.9h0M599.8 227.2h0M599.2 227.6h0M601.6 226.8h0M601.3 226.8h0M602.0 227.0h0M602.6 227.4h0M602.9 227.2h0M630.2 227.7h0M593.9 226.1h0M597.6 226.7h0M600.5 226.4h0M602.5 226.5h0M602.1 226.0h0M603.2 226.6h0M605.0 225.8h0M606.3 226.5h0M606.4 226.4h0M609.3 226.3h0M610.1 226.3h0M613.5 225.9h0M626.0 226.0h0M642.3 226.0h0M600.3 224.9h0M602.1 224.9h0M603.5 224.8h0M604.8 225.0h0M611.0 224.7h0M626.5 225.0h0M632.4 225.2h0M594.2 224.7h0M595.1 224.3h0M597.9 224.5h0M600.7 224.5h0M601.3 224.3h0M604.3 223.8h0M604.0 223.9h0M607.0 224.2h0M609.4 224.5h0M610.0 224.7h0M596.2 223.2h0M598.3 223.2h0M602.1 223.3h0M602.1 223.5h0M602.8 223.4h0M604.5 223.6h0M605.8 223.1h0M609.9 223.6h0M611.3 222.8h0M638.8 222.9h0M594.7 222.4h0M595.7 222.3h0M595.2 222.7h0M596.1 222.3h0M597.6 222.0h0M596.9 221.8h0M596.8 221.9h0M599.5 221.9h0M600.5 222.7h0M602.6 221.8h0M604.5 221.7h0M605.4 222.1h0M609.1 221.8h0M611.9 222.3h0M613.8 222.6h0M626.7 222.6h0M595.2 220.8h0M595.9 221.5h0M596.0 221.3h0M597.0 221.6h0M599.1 220.9h0M601.9 221.6h0M607.3 220.8h0M608.6 221.2h0M643.1 220.7h0" stroke="#ff0000" stroke-width="1.9" stroke-linecap="round" fill="none"/><line x1="509" y1="221.6" x2="557" y2="221.6" stroke="#0000ff" stroke-width="1.6"/><line x1="596" y1="221.6" x2="652.8" y2="221.6" stroke="#ff0000" stroke-width="1.6"/></g><rect x="508.5" y="220.6" width="144.7" height="103.6" fill="none" stroke="#b8b8b8" stroke-width="0.8"/><line x1="524.9" y1="346.3" x2="524.9" y2="449.8" stroke="#f3f3f3" stroke-width="0.7"/><line x1="543.5" y1="346.3" x2="543.5" y2="449.8" stroke="#e8e8e8" stroke-width="0.7"/><line x1="562.2" y1="346.3" x2="562.2" y2="449.8" stroke="#f3f3f3" stroke-width="0.7"/><line x1="580.9" y1="346.3" x2="580.9" y2="449.8" stroke="#e8e8e8" stroke-width="0.7"/><line x1="599.6" y1="346.3" x2="599.6" y2="449.8" stroke="#f3f3f3" stroke-width="0.7"/><line x1="618.7" y1="346.3" x2="618.7" y2="449.8" stroke="#e8e8e8" stroke-width="0.7"/><line x1="637.4" y1="346.3" x2="637.4" y2="449.8" stroke="#f3f3f3" stroke-width="0.7"/><line x1="508.5" y1="444.5" x2="653.2" y2="444.5" stroke="#e8e8e8" stroke-width="0.7"/><line x1="506.0" y1="444.5" x2="508.5" y2="444.5" stroke="#aaa" stroke-width="0.6"/><text x="505.5" y="445.4" font-size="2.8" fill="#999" text-anchor="end">0</text><line x1="508.5" y1="428.9" x2="653.2" y2="428.9" stroke="#f3f3f3" stroke-width="0.7"/><line x1="508.5" y1="413.3" x2="653.2" y2="413.3" stroke="#e8e8e8" stroke-width="0.7"/><line x1="506.0" y1="413.3" x2="508.5" y2="413.3" stroke="#aaa" stroke-width="0.6"/><text x="505.5" y="414.2" font-size="2.8" fill="#999" text-anchor="end">5</text><line x1="508.5" y1="397.7" x2="653.2" y2="397.7" stroke="#f3f3f3" stroke-width="0.7"/><line x1="508.5" y1="382.1" x2="653.2" y2="382.1" stroke="#e8e8e8" stroke-width="0.7"/><line x1="506.0" y1="382.1" x2="508.5" y2="382.1" stroke="#aaa" stroke-width="0.6"/><text x="505.5" y="383.0" font-size="2.8" fill="#999" text-anchor="end">10</text><line x1="508.5" y1="366.5" x2="653.2" y2="366.5" stroke="#f3f3f3" stroke-width="0.7"/><line x1="508.5" y1="350.9" x2="653.2" y2="350.9" stroke="#e8e8e8" stroke-width="0.7"/><line x1="506.0" y1="350.9" x2="508.5" y2="350.9" stroke="#aaa" stroke-width="0.6"/><text x="505.5" y="351.8" font-size="2.8" fill="#999" text-anchor="end">15</text><line x1="543.5" y1="449.8" x2="543.5" y2="452.3" stroke="#aaa" stroke-width="0.6"/><line x1="580.9" y1="449.8" x2="580.9" y2="452.3" stroke="#aaa" stroke-width="0.6"/><line x1="618.7" y1="449.8" x2="618.7" y2="452.3" stroke="#aaa" stroke-width="0.6"/><g clip-path="url(#vclip1)"><path d="M571.4 445.4 L571.4 425.0 L574.4 425.0 L576.9 435.6 L579.0 441.6 L581.0 443.5 L583.0 441.6 L584.9 435.6 L587.8 425.6 L588.9 421.6 L590.4 421.6 L590.4 445.4Z" fill="#000"/><path d="M541.0 444.1 L626.0 444.1 L626.0 445.7 L541.0 445.7Z" fill="#000"/><path d="M571.0 436.9h0M571.2 442.7h0M571.0 428.6h0M571.0 439.0h0M571.0 425.5h0M571.1 439.4h0M571.3 430.9h0M571.1 428.5h0M571.5 427.4h0M571.5 437.3h0M590.3 430.1h0M590.0 436.5h0M590.3 432.7h0M590.0 437.5h0M590.0 424.7h0M590.1 423.8h0M590.3 438.2h0M590.4 433.1h0M590.7 429.2h0M590.0 436.1h0M543.6 445.7h0M615.8 444.0h0M601.3 445.4h0M608.0 444.2h0M608.6 445.6h0M579.3 444.1h0M622.7 444.5h0M546.8 445.2h0M570.3 444.4h0M610.7 445.7h0M562.0 444.0h0M624.8 444.4h0M549.3 445.6h0M542.2 445.5h0M580.1 445.4h0M561.0 445.1h0M588.0 444.5h0M620.4 445.2h0M616.9 443.9h0M559.3 444.1h0M551.1 444.5h0M579.2 445.2h0M599.3 445.1h0M587.4 444.9h0M568.2 445.3h0M561.4 444.7h0M565.8 443.9h0M625.6 444.7h0M597.4 445.2h0M622.1 444.7h0M625.0 443.9h0M576.0 444.3h0M593.0 445.3h0M613.5 445.2h0M563.7 445.2h0M624.3 444.5h0M602.7 445.2h0M576.2 444.3h0M559.7 444.0h0M560.4 444.1h0" stroke="#000" stroke-width="1.5" stroke-linecap="round" fill="none"/><path d="M519.5 444.8H572.5M519.5 443.8H572.5M533.5 442.8H572.5M540.5 441.8H572.5M545.5 440.8H572.5M548.5 439.8H572.5M551.5 438.8H572.5M554.5 437.8H572.5M556.5 436.8H572.5M558.5 435.8H572.5M559.5 434.8H572.5M560.5 433.8H572.5M561.5 432.8H572.5M562.5 431.8H572.5M563.5 430.8H572.5M563.5 429.8H572.5M564.5 428.8H572.5M565.5 427.8H572.5M566.5 426.8H572.5M566.5 425.8H572.5M567.5 424.8H572.5M568.5 423.8H572.5" stroke="#0000ff" stroke-width="1.05" fill="none"/><path d="M589.8 444.8H605.8M589.8 443.8H605.8M589.8 442.8H604.8M589.8 441.8H604.8M589.8 440.8H604.8M589.8 439.8H604.8M589.8 438.8H604.8M589.8 437.8H604.8M589.8 436.8H604.8M589.8 435.8H604.8M589.8 434.8H604.8M589.8 433.8H603.8M589.8 432.8H603.8M589.8 431.8H603.8M589.8 430.8H603.8M589.8 429.8H603.8M589.8 428.8H603.8M589.8 427.8H603.8M589.8 426.8H603.8M589.8 425.8H603.8M589.8 424.8H603.8M589.8 423.8H603.8M589.8 422.8H603.8M589.8 421.8H603.8M589.8 420.8H603.8M589.8 419.8H603.8M589.8 418.8H602.8M589.8 417.8H602.8M589.8 416.8H602.8M589.8 415.8H602.8M589.8 414.8H602.8M589.8 413.8H602.8M589.8 412.8H601.8M589.8 411.8H601.8M589.8 410.8H600.8M590.8 409.8H600.8M591.8 408.8H600.8M594.8 407.8H600.8M594.8 406.8H600.8M595.8 405.8H600.8M595.8 404.8H599.8M595.8 403.8H599.8M595.8 402.8H599.8M595.8 401.8H599.8M595.8 400.8H598.8M595.8 399.8H598.8M595.8 398.8H597.8M595.8 397.8H597.8M595.8 396.8H596.8" stroke="#ff0000" stroke-width="1.05" fill="none"/><path d="M509.2 445.2h0M513.4 444.8h0M515.4 445.2h0M515.1 444.8h0M519.5 444.9h0M508.6 443.4h0M510.7 444.0h0M510.9 443.9h0M512.5 443.6h0M513.4 443.8h0M512.7 443.5h0M512.7 443.7h0M514.3 443.5h0M514.0 443.3h0M514.4 443.4h0M514.1 444.0h0M514.9 444.1h0M516.2 443.4h0M516.2 443.7h0M516.4 443.3h0M516.4 443.3h0M509.2 443.1h0M509.2 442.6h0M509.5 443.0h0M509.9 443.1h0M513.4 442.3h0M513.5 443.0h0M515.6 443.2h0M522.0 443.2h0M523.6 443.1h0M524.4 443.2h0M525.5 443.0h0M526.2 442.9h0M525.5 442.6h0M527.1 442.6h0M528.2 442.4h0M527.6 442.9h0M528.3 442.4h0M529.6 442.5h0M532.3 442.4h0M508.8 441.5h0M511.2 442.2h0M513.3 441.9h0M515.1 441.6h0M514.8 442.2h0M516.4 442.0h0M519.9 442.2h0M519.7 441.4h0M521.5 441.5h0M521.6 441.9h0M524.2 441.5h0M524.4 442.2h0M524.6 441.7h0M525.2 441.5h0M525.7 442.1h0M525.7 441.8h0M526.3 441.9h0M527.9 441.7h0M529.1 441.8h0M530.1 442.3h0M531.8 441.6h0M534.5 441.8h0M536.4 441.4h0M536.7 441.7h0M539.9 441.8h0M509.5 440.3h0M510.8 440.5h0M512.0 440.5h0M511.5 440.5h0M512.8 440.9h0M517.2 440.6h0M519.0 441.1h0M529.4 441.2h0M528.8 441.3h0M529.5 440.5h0M530.1 441.0h0M532.5 441.0h0M531.6 440.3h0M534.4 441.2h0M541.4 441.1h0M541.0 440.7h0M542.2 441.2h0M543.1 440.8h0M510.4 440.0h0M510.1 439.3h0M515.1 439.8h0M517.7 439.6h0M517.6 440.1h0M518.4 440.2h0M519.6 440.2h0M520.5 440.0h0M521.4 439.6h0M523.2 440.0h0M526.7 439.6h0M526.9 439.9h0M527.6 439.9h0M530.0 440.1h0M532.0 439.9h0M533.0 439.6h0M537.7 439.7h0M538.1 440.0h0M538.1 439.8h0M539.3 439.3h0M539.4 440.0h0M539.4 439.7h0M540.4 439.5h0M543.3 440.0h0M543.6 439.6h0M543.6 439.9h0M545.0 439.5h0M508.6 438.8h0M513.1 438.7h0M514.8 439.3h0M517.5 439.2h0M517.0 439.1h0M521.5 438.9h0M521.6 439.2h0M526.4 439.2h0M529.0 438.4h0M528.5 438.4h0M531.3 439.3h0M532.9 438.8h0M533.6 438.7h0M534.7 438.6h0M541.2 438.7h0M541.6 438.4h0M547.1 439.3h0M549.4 438.3h0M549.1 439.1h0M550.5 439.1h0M551.4 438.9h0M514.5 438.1h0M514.7 437.4h0M522.3 437.9h0M522.8 437.8h0M525.7 437.4h0M526.5 437.7h0M527.8 438.3h0M528.7 437.9h0M532.5 437.9h0M532.1 437.8h0M533.0 438.1h0M533.3 438.0h0M542.2 437.7h0M541.5 438.2h0M549.0 438.1h0M549.0 438.0h0M550.7 438.0h0M551.5 437.9h0M509.3 436.4h0M510.5 437.0h0M511.3 437.1h0M511.6 437.0h0M514.3 436.4h0M515.7 436.5h0M517.0 436.3h0M518.1 437.3h0M519.8 437.3h0M521.1 437.0h0M524.6 437.0h0M529.1 437.0h0M530.4 436.8h0M531.2 436.6h0M531.6 437.1h0M533.7 436.6h0M536.3 436.7h0M537.0 436.9h0M539.1 437.0h0M542.5 437.2h0M542.2 436.4h0M545.0 437.2h0M547.9 436.5h0M549.0 437.2h0M549.7 437.2h0M550.7 437.2h0M551.3 437.1h0M552.6 436.4h0M552.8 437.1h0M552.8 436.3h0M553.9 437.0h0M555.0 437.3h0M556.2 436.4h0M555.5 436.4h0M510.3 435.8h0M511.2 435.7h0M513.3 436.0h0M514.2 436.0h0M516.9 435.4h0M517.4 435.4h0M520.3 435.9h0M520.6 435.6h0M526.6 435.3h0M530.4 435.8h0M532.2 436.2h0M535.7 435.9h0M538.4 435.6h0M544.9 435.6h0M546.0 435.8h0M547.4 435.6h0M551.4 436.1h0M551.4 435.4h0M550.8 436.0h0M551.5 436.3h0M553.0 435.5h0M555.4 436.1h0M557.1 435.9h0M509.0 434.6h0M508.6 434.6h0M509.8 434.3h0M510.7 435.0h0M512.5 435.1h0M515.8 434.8h0M516.3 435.3h0M519.9 434.5h0M521.3 435.2h0M520.8 434.6h0M523.4 434.7h0M523.7 435.2h0M524.5 434.7h0M524.8 434.5h0M524.8 434.6h0M524.7 434.3h0M524.8 434.4h0M526.5 435.0h0M528.5 435.0h0M534.0 434.7h0M534.9 434.6h0M537.5 435.1h0M539.1 434.5h0M539.1 435.0h0M540.1 434.6h0M543.9 434.3h0M546.0 435.0h0M547.3 435.2h0M547.3 435.1h0M547.6 434.5h0M548.0 434.8h0M548.9 435.1h0M553.1 434.7h0M556.5 435.3h0M557.7 435.1h0M558.8 434.9h0M516.9 433.8h0M517.9 433.8h0M517.6 434.3h0M517.7 433.4h0M521.2 433.8h0M530.8 433.8h0M531.6 433.5h0M533.7 433.6h0M534.4 434.3h0M536.2 433.6h0M542.0 433.6h0M542.7 434.1h0M542.9 433.5h0M544.5 433.4h0M544.6 434.1h0M546.8 433.3h0M549.3 433.6h0M548.9 433.7h0M551.2 434.1h0M553.6 433.3h0M554.6 434.1h0M555.6 434.2h0M559.5 434.2h0M509.2 432.6h0M512.3 432.7h0M521.5 432.4h0M523.7 432.4h0M524.4 433.1h0M526.2 432.7h0M527.6 433.1h0M531.4 433.2h0M535.3 433.3h0M535.1 432.8h0M535.9 432.8h0M536.6 433.3h0M541.3 433.0h0M541.6 432.9h0M542.9 433.2h0M543.3 432.6h0M544.3 432.6h0M546.1 432.5h0M547.5 432.5h0M546.6 433.0h0M547.7 432.7h0M548.7 432.3h0M556.4 432.4h0M556.7 432.6h0M558.7 432.8h0M561.4 433.0h0M508.6 432.1h0M511.7 431.6h0M513.8 432.0h0M515.3 432.0h0M515.5 431.7h0M519.4 431.7h0M522.5 431.6h0M530.3 432.1h0M531.4 432.3h0M532.3 431.7h0M531.5 431.9h0M534.0 432.2h0M535.1 432.1h0M538.4 431.8h0M539.3 432.2h0M539.0 431.6h0M540.1 431.6h0M540.2 431.4h0M542.3 432.0h0M543.9 432.0h0M547.4 431.5h0M551.5 432.2h0M552.9 432.2h0M554.1 432.2h0M554.5 432.2h0M556.1 431.8h0M557.7 431.8h0M560.0 431.9h0M560.2 431.5h0M562.0 432.2h0M509.8 430.8h0M512.8 430.4h0M512.6 431.1h0M516.4 430.8h0M517.7 431.1h0M519.2 431.0h0M521.8 430.8h0M524.0 431.3h0M524.1 430.9h0M528.4 430.9h0M529.3 430.7h0M529.8 431.2h0M532.7 430.5h0M533.2 431.2h0M537.3 431.0h0M539.5 431.1h0M545.3 431.0h0M546.4 431.2h0M548.7 431.1h0M551.4 431.0h0M552.1 430.5h0M552.0 430.5h0M552.6 431.2h0M557.2 431.2h0M556.6 430.9h0M557.9 430.6h0M558.1 430.6h0M559.1 430.9h0M559.2 430.7h0M559.9 430.3h0M562.1 431.2h0M510.6 430.0h0M513.6 430.1h0M517.4 430.2h0M518.2 429.4h0M520.7 430.2h0M525.3 429.5h0M527.2 430.2h0M528.7 430.2h0M530.8 429.6h0M532.7 429.6h0M533.3 429.5h0M536.2 429.5h0M539.3 430.2h0M540.5 430.0h0M542.4 430.2h0M545.8 429.3h0M546.8 430.1h0M552.5 429.7h0M554.4 429.3h0M553.7 430.0h0M554.6 429.6h0M557.9 429.8h0M558.7 430.0h0M559.7 429.5h0M562.8 430.0h0M513.4 429.1h0M514.3 429.2h0M519.8 428.9h0M519.8 428.8h0M525.4 429.1h0M536.2 428.5h0M538.0 429.2h0M541.3 428.6h0M542.3 428.8h0M543.8 428.6h0M543.6 428.9h0M549.2 428.9h0M550.9 429.2h0M554.4 429.1h0M555.1 428.4h0M555.8 428.5h0M558.1 428.6h0M559.7 428.6h0M560.4 429.0h0M560.5 428.8h0M563.9 429.1h0M563.8 429.1h0M510.3 428.2h0M515.4 428.0h0M519.8 427.9h0M522.8 428.2h0M522.8 427.7h0M526.1 428.2h0M526.8 427.7h0M528.2 427.4h0M532.0 428.0h0M536.8 428.3h0M536.8 427.5h0M540.6 427.7h0M542.4 427.4h0M542.2 427.6h0M543.5 427.7h0M545.7 427.4h0M546.8 428.0h0M552.3 427.3h0M552.0 428.3h0M552.8 427.5h0M553.9 427.7h0M555.5 428.3h0M555.8 428.2h0M555.7 427.7h0M555.6 427.6h0M556.5 427.4h0M557.2 427.9h0M558.1 427.7h0M561.0 427.7h0M560.7 427.6h0M563.1 427.9h0M513.9 427.1h0M516.8 426.5h0M524.3 426.8h0M526.3 426.9h0M528.8 427.0h0M530.8 426.5h0M536.4 426.9h0M536.6 426.9h0M541.3 427.2h0M542.7 427.0h0M545.8 426.8h0M549.7 427.2h0M554.3 426.7h0M554.6 427.3h0M556.1 426.3h0M556.6 426.9h0M559.4 426.5h0M560.2 427.2h0M562.2 427.1h0M562.7 427.0h0M564.3 427.1h0M564.9 427.2h0M566.0 426.3h0M513.8 426.2h0M516.3 425.5h0M521.5 425.4h0M525.6 426.0h0M537.6 426.0h0M539.9 425.5h0M541.0 425.3h0M542.6 425.8h0M545.1 426.0h0M549.1 425.6h0M550.0 425.8h0M553.4 426.3h0M553.2 426.3h0M554.0 426.2h0M554.6 425.8h0M555.0 426.3h0M555.7 425.5h0M557.5 426.1h0M560.0 426.3h0M560.5 426.3h0M562.2 425.5h0M562.0 426.0h0M561.6 425.9h0M565.3 426.2h0M511.4 424.5h0M511.8 425.0h0M513.5 424.3h0M515.9 424.8h0M520.3 425.1h0M523.4 424.5h0M538.8 424.4h0M542.7 424.8h0M547.3 424.7h0M547.8 424.7h0M549.3 424.7h0M548.7 424.9h0M551.0 425.2h0M551.6 424.6h0M553.5 425.0h0M555.8 424.4h0M556.0 424.8h0M556.8 424.6h0M557.3 424.4h0M558.7 425.2h0M558.6 424.9h0M559.0 425.1h0M559.4 424.7h0M561.4 424.3h0M562.1 424.6h0M563.1 424.7h0M509.8 424.2h0M512.2 424.3h0M512.7 423.7h0M518.2 424.0h0M520.3 424.2h0M526.0 423.8h0M532.3 423.9h0M535.3 423.5h0M537.2 423.4h0M544.6 424.3h0M547.0 423.7h0M547.1 423.5h0M548.2 423.7h0M549.3 423.4h0M553.0 424.0h0M553.4 423.3h0M553.7 424.0h0M553.6 423.6h0M554.6 423.6h0M558.4 423.5h0M558.8 423.4h0M561.3 423.6h0M561.0 423.7h0M560.7 423.7h0M561.5 423.4h0M563.4 423.9h0M563.7 423.3h0M565.4 424.3h0M564.9 424.1h0M565.8 424.3h0M565.8 423.7h0M567.2 423.7h0M568.1 423.8h0M513.2 423.1h0M515.8 423.0h0M526.7 423.0h0M534.0 422.7h0M535.2 423.3h0M541.4 422.9h0M541.5 422.6h0M541.7 422.5h0M541.6 422.3h0M544.3 422.5h0M545.5 422.4h0M549.4 422.7h0M548.9 422.8h0M551.5 422.8h0M554.5 422.8h0M556.6 422.9h0M560.1 422.6h0M563.2 422.4h0M565.1 422.9h0M566.0 423.1h0M569.3 422.9h0M569.1 422.4h0M569.7 422.5h0M571.7 422.6h0M571.9 423.0h0M511.4 422.2h0M513.1 422.0h0M527.4 421.5h0M533.1 421.8h0M533.1 421.5h0M535.7 422.1h0M547.0 421.4h0M548.7 421.6h0M550.7 422.1h0M552.2 421.8h0M551.6 422.2h0M554.2 421.7h0M554.1 422.2h0M555.8 421.9h0M556.8 421.8h0M557.5 421.9h0M559.1 421.5h0M558.9 421.5h0M561.3 421.6h0M564.9 421.6h0M567.3 421.8h0M569.3 421.7h0M570.3 422.0h0M570.9 422.3h0M571.9 421.9h0M514.3 421.1h0M514.4 421.1h0M522.8 420.3h0M523.6 420.6h0M524.8 420.3h0M525.2 421.0h0M531.5 421.2h0M533.3 421.0h0M544.5 420.7h0M548.2 420.6h0M552.5 420.7h0M554.5 420.6h0M555.4 421.0h0M558.6 420.8h0M559.6 420.7h0M560.3 420.9h0M561.2 420.3h0M561.9 421.2h0M563.3 420.4h0M563.8 421.2h0M568.8 421.0h0M512.9 419.8h0M514.4 419.7h0M519.9 420.0h0M520.8 419.9h0M521.1 419.8h0M522.4 419.6h0M527.1 419.7h0M528.6 419.6h0M535.5 419.8h0M539.5 420.1h0M545.0 419.4h0M548.0 420.1h0M551.1 419.8h0M550.8 420.2h0M550.6 419.8h0M551.7 419.9h0M552.8 419.5h0M554.7 420.1h0M556.2 419.8h0M558.9 419.5h0M559.6 419.9h0M560.8 419.8h0M563.4 419.7h0M563.6 419.6h0M565.0 419.5h0M564.9 420.1h0M565.3 419.6h0M567.0 419.9h0M570.9 419.8h0M571.5 419.6h0M571.6 419.7h0M514.2 418.5h0M520.1 418.6h0M529.4 419.1h0M529.6 419.3h0M531.3 419.2h0M544.7 418.9h0M545.8 419.1h0M546.6 418.7h0M553.5 419.0h0M555.4 418.4h0M558.4 418.4h0M559.7 418.3h0M561.0 419.1h0M561.6 419.3h0M564.7 418.9h0M566.5 418.3h0M568.8 418.5h0M569.3 418.8h0M570.4 418.9h0M571.3 419.0h0M514.0 418.1h0M515.9 417.5h0M518.6 417.9h0M523.5 418.2h0M523.6 417.4h0M526.8 418.0h0M527.5 418.2h0M537.5 417.4h0M539.7 418.1h0M541.2 418.2h0M542.9 417.8h0M546.6 417.9h0M558.5 417.9h0M560.2 417.9h0M560.8 417.7h0M562.0 418.2h0M570.4 417.4h0M571.0 417.5h0M526.1 416.7h0M532.1 416.4h0M531.7 417.0h0M532.7 417.1h0M542.3 416.7h0M545.5 417.0h0M553.5 416.8h0M554.3 417.1h0M556.1 416.8h0M558.3 417.1h0M558.6 416.7h0M561.1 416.7h0M562.2 416.9h0M561.6 417.1h0M568.4 416.5h0M571.4 416.5h0M508.9 416.3h0M511.4 416.0h0M512.8 415.5h0M515.5 415.8h0M514.5 415.7h0M516.1 416.2h0M529.4 415.9h0M541.1 415.8h0M545.9 415.3h0M546.0 415.5h0M552.3 416.2h0M554.6 416.2h0M558.0 416.1h0M560.5 416.3h0M562.2 415.8h0M564.3 415.8h0M565.8 415.8h0M566.3 415.6h0M512.3 414.3h0M513.4 414.4h0M514.9 414.9h0M516.8 414.5h0M517.5 414.7h0M520.8 415.1h0M527.2 415.3h0M528.5 414.8h0M531.6 414.9h0M536.0 414.9h0M536.7 414.4h0M539.3 414.7h0M539.6 414.7h0M547.2 414.8h0M550.8 414.9h0M552.1 414.5h0M552.8 414.8h0M554.8 415.2h0M555.7 415.2h0M560.2 414.3h0M562.0 414.5h0M565.2 414.5h0M565.9 415.3h0M568.2 415.2h0M568.8 414.4h0M569.7 414.6h0M571.3 415.0h0M508.7 413.7h0M508.7 413.8h0M509.4 413.5h0M508.6 414.0h0M516.9 414.1h0M520.0 413.9h0M520.0 413.9h0M521.6 413.7h0M530.9 413.9h0M531.6 413.8h0M534.0 413.5h0M534.5 414.2h0M542.0 414.1h0M543.7 414.2h0M547.7 414.0h0M549.1 413.4h0M551.3 413.9h0M551.5 413.7h0M553.0 413.9h0M554.4 413.3h0M556.6 413.9h0M561.9 413.8h0M568.7 413.5h0M571.1 413.7h0M513.2 412.8h0M524.4 412.4h0M533.1 412.3h0M538.0 413.3h0M540.4 412.5h0M542.1 413.3h0M545.4 413.1h0M546.4 412.7h0M546.7 412.5h0M554.6 412.3h0M557.1 413.0h0M558.2 412.7h0M559.5 413.2h0M558.6 413.1h0M560.0 412.8h0M562.8 412.7h0M568.0 412.4h0M569.2 413.0h0M572.4 412.8h0M510.5 411.9h0M521.4 412.1h0M528.2 411.5h0M533.1 411.4h0M533.4 412.3h0M533.9 411.8h0M537.6 412.2h0M539.4 412.0h0M542.1 411.6h0M545.6 411.9h0M548.7 411.4h0M549.1 412.2h0M549.9 411.4h0M553.5 411.4h0M554.8 412.1h0M556.2 411.3h0M556.6 412.1h0M559.2 411.7h0M564.6 411.8h0M566.2 412.0h0M567.4 411.8h0M509.3 410.4h0M510.1 410.4h0M511.0 410.5h0M511.3 411.0h0M515.5 411.3h0M517.6 410.5h0M518.9 411.0h0M519.6 411.2h0M520.9 410.6h0M527.2 410.6h0M529.0 411.0h0M531.3 410.8h0M537.4 410.5h0M546.6 410.9h0M547.4 410.6h0M555.2 410.8h0M557.4 410.5h0M558.5 410.9h0M559.6 410.6h0M562.6 410.4h0M563.5 411.1h0M563.8 410.5h0M567.2 410.6h0M568.9 410.4h0M510.9 410.2h0M513.4 410.2h0M515.5 410.0h0M520.1 410.1h0M531.4 409.4h0M531.2 409.3h0M532.3 409.8h0M536.2 409.4h0M537.3 409.5h0M537.0 409.9h0M537.5 410.0h0M538.3 409.4h0M538.9 409.3h0M547.8 410.0h0M552.7 409.8h0M555.1 409.4h0M555.4 409.9h0M558.4 409.9h0M560.2 409.8h0M560.0 410.0h0M562.3 409.5h0M562.9 410.1h0M564.2 409.9h0M565.0 409.8h0M565.5 409.7h0M571.7 410.0h0M516.2 408.9h0M518.6 409.2h0M519.3 408.8h0M526.8 408.8h0M533.9 408.6h0M536.3 408.5h0M541.4 409.0h0M543.1 408.8h0M544.6 408.7h0M552.1 408.9h0M552.1 408.7h0M555.2 408.7h0M554.6 409.2h0M557.0 408.6h0M557.7 408.9h0M559.5 408.4h0M509.3 407.8h0M518.4 408.2h0M519.1 407.8h0M521.4 408.1h0M529.0 407.3h0M534.0 408.0h0M535.6 408.0h0M540.3 408.0h0M546.5 407.4h0M548.8 407.4h0M553.3 407.7h0M553.6 407.9h0M558.1 408.2h0M560.5 407.3h0M560.6 407.4h0M562.2 407.8h0M563.5 408.0h0M563.9 407.7h0M564.4 407.7h0M566.8 407.5h0M567.9 408.3h0M532.9 406.9h0M541.6 406.3h0M542.3 406.8h0M543.4 407.1h0M542.9 407.2h0M543.1 406.5h0M543.3 406.7h0M547.4 407.2h0M550.4 407.0h0M550.8 406.3h0M551.0 406.4h0M552.3 406.5h0M559.8 406.7h0M560.6 407.0h0M562.5 407.0h0M565.2 406.4h0M568.1 407.2h0M517.5 405.8h0M517.9 406.1h0M527.6 406.1h0M536.1 405.6h0M535.7 406.2h0M544.2 406.3h0M548.3 405.9h0M548.0 405.5h0M549.5 405.4h0M552.7 405.5h0M554.3 405.6h0M554.0 406.3h0M555.9 405.6h0M562.5 405.4h0M568.5 406.0h0M515.5 405.3h0M515.5 404.6h0M527.1 404.4h0M530.5 404.5h0M534.0 405.3h0M535.7 404.6h0M540.0 404.4h0M549.0 405.0h0M551.5 404.9h0M553.6 404.4h0M554.4 404.4h0M554.5 404.8h0M556.3 405.1h0M557.2 404.5h0M559.1 404.3h0M562.4 405.1h0M563.3 404.6h0M563.1 405.1h0M562.9 404.9h0M566.7 404.9h0M568.5 404.9h0M508.7 404.1h0M508.6 404.3h0M510.5 403.4h0M513.0 403.4h0M516.9 404.1h0M521.0 403.5h0M527.3 403.8h0M531.1 403.5h0M535.4 404.2h0M536.2 403.4h0M537.5 403.8h0M536.7 403.6h0M537.6 403.3h0M540.6 403.5h0M541.6 404.1h0M555.4 403.9h0M557.3 404.3h0M557.7 404.1h0M572.5 403.8h0M513.7 403.1h0M514.5 402.3h0M520.1 402.4h0M527.8 402.9h0M529.0 402.4h0M535.2 402.6h0M535.7 403.0h0M539.7 402.4h0M545.8 402.9h0M547.4 403.0h0M550.8 403.0h0M557.9 403.0h0M560.3 402.7h0M563.3 403.3h0M565.3 403.0h0M571.0 402.5h0M509.6 401.5h0M511.2 401.9h0M518.6 402.1h0M549.0 402.3h0M549.8 401.9h0M550.6 401.6h0M554.0 401.8h0M554.3 402.0h0M557.7 402.2h0M566.8 402.2h0M519.3 400.4h0M521.1 400.8h0M544.2 400.8h0M546.9 400.5h0M548.6 401.1h0M550.6 400.3h0M550.9 400.8h0M551.4 401.1h0M551.8 400.9h0M554.5 400.5h0M558.5 401.1h0M559.3 400.6h0M560.0 400.5h0M566.8 401.1h0M511.1 400.2h0M518.1 399.4h0M527.8 399.6h0M528.9 399.8h0M531.1 399.9h0M543.8 400.0h0M559.9 399.6h0M517.8 398.7h0M519.1 399.2h0M518.6 398.6h0M523.5 398.6h0M546.3 398.5h0M546.2 398.5h0M547.5 398.8h0M550.6 399.0h0M555.1 398.9h0M555.2 399.0h0M555.9 398.5h0M556.5 398.9h0M555.9 399.0h0M558.0 398.5h0M558.6 398.7h0M560.3 399.1h0M564.0 399.0h0M568.1 399.2h0M509.2 398.1h0M511.0 397.7h0M515.6 397.6h0M523.5 397.5h0M526.8 397.9h0M530.7 397.3h0M536.5 397.7h0M538.4 397.5h0M542.7 397.7h0M543.5 398.2h0M543.1 397.8h0M543.3 397.5h0M552.0 397.8h0M552.6 397.4h0M554.1 397.6h0M558.5 397.7h0M560.3 397.5h0M560.4 397.6h0M561.4 397.9h0M561.3 397.4h0M572.4 397.5h0M511.3 397.0h0M516.3 396.9h0M533.1 397.2h0M543.5 397.1h0M544.0 396.9h0M545.9 396.4h0M553.4 396.6h0M555.3 396.7h0M556.6 396.6h0M559.2 396.7h0M558.5 396.5h0M560.1 397.0h0M509.4 395.7h0M522.0 396.2h0M525.0 395.8h0M526.5 395.9h0M545.9 395.9h0M558.3 395.5h0M510.1 394.7h0M515.8 394.5h0M520.1 394.9h0M520.5 394.6h0M528.3 395.1h0M542.4 395.1h0M548.7 394.5h0M553.8 394.7h0M557.7 395.0h0M562.1 394.5h0M566.8 394.9h0M569.7 394.8h0M511.3 393.8h0M520.0 394.2h0M522.7 394.3h0M527.4 393.5h0M535.3 393.7h0M535.4 394.2h0M537.1 393.5h0M542.9 394.2h0M544.2 394.0h0M544.9 394.0h0M549.1 394.2h0M554.6 393.4h0M555.8 393.8h0M561.8 393.9h0M513.1 392.8h0M514.9 393.0h0M516.3 392.5h0M521.8 393.0h0M530.8 393.0h0M532.7 392.9h0M538.7 393.2h0M543.7 393.0h0M544.9 392.7h0M547.2 393.1h0M549.2 393.1h0M553.0 392.9h0M553.6 393.0h0M563.5 393.0h0M565.2 393.0h0M570.8 393.1h0M517.3 392.1h0M520.4 391.7h0M521.2 391.5h0M526.4 391.7h0M533.1 392.2h0M537.7 391.7h0M541.2 391.4h0M543.2 392.1h0M544.6 392.1h0M555.4 391.3h0M557.2 391.8h0M557.8 392.0h0M561.8 391.9h0M563.9 391.6h0M515.9 391.1h0M516.1 391.0h0M520.9 390.8h0M531.6 390.6h0M535.9 390.5h0M540.5 390.8h0M539.7 391.0h0M541.8 390.8h0M546.9 390.9h0M557.0 390.5h0M558.6 390.8h0M558.9 391.1h0M515.7 389.7h0M528.2 389.7h0M538.5 389.8h0M541.0 389.8h0M541.2 389.9h0M540.9 390.3h0M542.3 390.0h0M548.6 389.7h0M552.8 389.4h0M553.2 389.4h0M554.0 389.7h0M554.7 390.1h0M558.0 390.3h0M560.5 389.9h0M517.5 389.3h0M518.6 388.7h0M524.0 388.6h0M526.3 388.5h0M527.3 388.7h0M539.4 388.4h0M539.7 388.5h0M542.6 388.5h0M545.6 388.7h0M551.4 388.4h0M553.9 389.3h0M555.6 388.4h0M556.7 388.7h0M563.0 389.3h0M569.4 388.5h0M513.4 388.1h0M524.1 388.2h0M524.7 387.5h0M531.4 387.9h0M534.2 387.6h0M542.0 387.7h0M546.3 387.7h0M552.8 387.3h0M555.0 387.8h0M517.8 387.1h0M524.2 387.1h0M525.7 386.6h0M527.0 386.6h0M538.8 386.8h0M542.5 386.5h0M550.6 386.7h0M552.3 386.5h0M553.0 386.4h0M552.9 386.4h0M554.0 387.0h0M558.0 386.7h0M558.4 386.7h0M558.3 386.6h0M566.0 386.5h0M513.4 386.1h0M532.4 385.6h0M532.3 385.7h0M532.8 386.2h0M542.8 386.0h0M544.2 386.3h0M544.4 385.3h0M558.5 386.1h0M516.2 385.1h0M524.4 385.3h0M526.2 384.4h0M526.6 385.1h0M529.9 384.7h0M532.9 384.6h0M534.6 384.4h0M539.5 384.3h0M549.1 384.4h0M549.7 384.7h0M552.6 384.4h0M557.4 384.5h0M558.6 384.9h0M561.9 385.2h0M563.2 385.0h0M509.9 384.1h0M522.2 383.5h0M529.9 383.5h0M546.8 383.8h0M551.7 383.9h0M555.4 383.3h0M554.6 383.9h0M558.6 383.6h0M520.0 382.4h0M522.1 382.5h0M525.7 382.8h0M532.1 382.3h0M539.5 383.3h0M551.1 383.2h0M555.0 382.4h0M560.8 382.3h0M562.8 382.5h0M509.3 381.4h0M520.9 382.1h0M534.6 382.2h0M546.5 382.0h0M559.3 382.3h0M563.6 381.3h0M519.5 380.7h0M521.4 380.9h0M530.4 380.6h0M533.6 381.2h0M541.2 380.8h0M542.3 380.8h0M544.3 381.1h0M552.1 380.5h0M553.5 380.9h0M515.6 379.3h0M523.5 379.4h0M525.3 380.2h0M524.8 379.6h0M529.4 379.8h0M533.2 380.3h0M540.4 380.2h0M545.1 380.0h0M523.7 379.2h0M526.5 378.6h0M531.2 379.0h0M532.0 378.6h0M533.8 379.1h0M542.9 378.4h0M545.1 378.5h0M549.0 378.7h0M551.4 378.9h0M559.9 378.7h0M509.2 377.9h0M509.2 377.7h0M513.9 378.1h0M515.7 378.0h0M534.3 377.4h0M544.9 377.4h0M551.5 377.5h0M559.8 378.2h0M521.2 377.3h0M521.2 377.3h0M523.3 376.7h0M528.3 376.6h0M544.8 377.2h0M554.2 376.5h0M516.1 376.1h0M521.0 375.7h0M532.0 376.3h0M555.1 376.2h0M561.0 375.5h0M516.8 374.9h0M530.0 374.4h0M531.7 375.2h0M535.6 374.6h0M542.8 375.2h0M549.1 374.4h0M557.6 374.9h0M527.1 374.0h0M527.5 373.4h0M531.8 374.2h0M539.6 373.4h0M545.9 374.3h0M547.4 373.3h0M556.6 373.5h0M559.4 374.0h0M512.5 372.8h0M514.5 372.7h0M524.0 373.2h0M525.7 372.6h0M530.6 373.3h0M541.6 372.6h0M557.6 372.9h0M525.2 372.3h0M525.8 372.0h0M545.3 372.2h0M548.4 372.1h0M549.6 371.8h0M552.9 371.4h0M556.4 372.1h0M517.3 371.0h0M521.2 370.6h0M524.0 371.1h0M526.6 370.9h0M530.4 370.5h0M535.0 370.9h0M537.3 370.9h0M539.2 371.1h0M539.4 370.7h0M542.9 371.2h0M548.6 370.7h0M550.1 370.8h0M552.2 370.7h0M554.3 370.7h0M517.0 369.8h0M528.3 369.7h0M530.0 369.7h0M533.9 369.8h0M537.4 369.6h0M542.7 370.3h0M543.5 370.2h0M546.5 369.4h0M550.7 369.8h0M516.5 369.3h0M517.9 368.6h0M519.9 368.7h0M521.6 369.2h0M535.2 368.9h0M547.9 368.7h0M511.9 367.7h0M516.3 368.0h0M535.0 367.4h0M542.3 367.9h0M543.0 367.4h0M544.4 367.8h0M543.8 368.1h0M551.0 368.2h0M553.0 366.6h0M556.6 367.1h0M560.0 367.0h0M508.6 365.7h0M510.1 366.2h0M512.3 366.1h0M544.2 365.8h0M549.3 365.8h0M560.5 365.4h0M512.2 364.9h0M521.4 364.5h0M530.4 365.0h0M540.1 364.7h0M554.3 364.6h0M514.1 363.7h0M516.2 363.7h0M519.4 363.7h0M523.1 363.5h0M531.3 363.8h0M531.2 364.3h0M540.2 363.6h0M555.2 363.5h0M556.8 364.0h0M557.9 363.6h0M517.1 362.7h0M517.9 362.6h0M517.6 362.4h0M521.3 362.7h0M524.7 362.8h0M527.5 363.1h0M529.1 362.5h0M531.8 363.2h0M545.4 362.5h0M547.2 362.7h0M555.9 363.2h0M557.4 363.1h0M518.8 362.0h0M520.0 361.9h0M529.2 361.6h0M528.7 361.4h0M533.9 361.6h0M540.4 361.9h0M545.7 362.1h0M551.6 362.2h0M552.4 362.2h0M558.6 361.9h0M521.3 361.1h0M525.0 360.6h0M536.2 360.8h0M538.9 360.6h0M539.7 360.5h0M545.0 361.2h0M544.8 360.9h0M515.0 360.2h0M519.5 360.0h0M524.7 359.9h0M526.2 359.6h0M534.6 359.4h0M537.3 360.2h0M511.1 358.7h0M512.4 358.7h0M522.2 359.2h0M527.1 358.9h0M529.2 358.4h0M530.1 358.7h0M549.7 358.6h0M509.8 358.3h0M511.5 357.9h0M517.9 357.9h0M523.7 357.6h0M527.7 357.9h0M533.7 358.3h0M538.6 358.2h0M542.4 357.9h0M551.4 358.0h0M552.4 357.5h0M521.8 356.4h0M528.6 356.6h0M532.7 356.5h0M540.6 356.5h0M544.4 356.5h0M547.7 356.8h0M550.5 356.4h0M511.8 355.4h0M530.2 355.7h0M539.4 356.1h0M548.2 356.2h0M547.5 355.3h0M556.7 355.8h0M512.3 355.1h0M513.8 355.0h0M518.7 355.2h0M522.4 354.5h0M523.8 354.4h0M538.0 355.3h0M538.5 355.2h0M537.6 354.8h0M543.5 355.3h0M556.6 354.8h0M521.3 353.4h0M525.5 353.5h0M526.7 354.2h0M527.6 354.0h0M538.0 353.4h0M541.1 353.3h0M549.8 353.8h0M516.5 352.8h0M521.6 352.6h0M544.3 353.1h0M545.4 353.2h0M509.6 352.1h0M510.4 351.4h0M516.9 351.6h0M529.7 351.9h0M532.4 352.0h0M534.7 351.9h0M545.9 351.7h0M549.0 351.6h0M516.5 351.3h0M525.5 350.8h0M526.4 350.4h0M540.7 350.8h0M554.3 351.1h0M515.7 349.8h0M523.6 349.8h0M540.1 349.8h0M540.9 350.0h0M551.2 349.6h0M519.0 349.0h0M519.0 349.0h0M522.5 349.1h0M525.4 348.8h0M525.6 348.4h0M533.1 348.5h0M543.9 349.2h0M545.6 349.1h0M558.1 348.4h0M558.2 348.5h0M522.5 347.6h0M524.1 348.2h0M531.1 347.7h0M533.3 347.6h0M534.2 348.1h0M541.2 347.5h0M553.7 348.0h0M553.7 347.9h0M512.1 346.9h0M516.0 347.0h0M529.0 346.5h0M548.4 346.9h0M551.5 346.7h0M552.1 346.4h0" stroke="#0000ff" stroke-width="1.9" stroke-linecap="round" fill="none"/><path d="M608.2 445.1h0M608.8 444.7h0M609.7 444.9h0M612.7 444.4h0M617.5 445.3h0M617.8 445.1h0M619.6 444.6h0M629.6 444.9h0M638.6 445.2h0M652.6 444.9h0M609.1 443.5h0M610.3 443.4h0M610.1 443.7h0M613.5 443.5h0M615.0 443.8h0M618.1 444.0h0M619.4 444.2h0M620.3 443.4h0M621.4 443.9h0M622.4 444.1h0M624.6 443.4h0M634.9 443.9h0M605.0 442.9h0M605.6 442.9h0M607.3 442.5h0M608.5 442.8h0M608.3 443.1h0M609.0 442.9h0M616.2 442.3h0M617.5 442.3h0M618.3 442.5h0M618.3 443.2h0M630.2 442.9h0M631.2 442.5h0M633.2 442.8h0M605.1 442.2h0M605.6 442.1h0M607.9 441.7h0M624.7 441.9h0M635.3 441.9h0M644.9 441.6h0M605.1 440.4h0M606.7 441.0h0M610.4 441.0h0M611.0 440.3h0M611.6 441.0h0M641.7 440.8h0M652.4 440.5h0M605.2 439.6h0M617.0 439.9h0M617.3 439.9h0M622.6 440.1h0M627.0 439.8h0M632.0 439.6h0M640.9 440.0h0M644.1 439.3h0M604.9 438.7h0M605.8 438.5h0M606.1 439.1h0M611.0 439.2h0M613.9 438.9h0M636.5 438.8h0M639.5 438.4h0M606.6 437.8h0M606.8 438.1h0M613.0 437.4h0M618.7 438.3h0M624.9 437.3h0M605.2 437.1h0M615.0 436.6h0M619.8 436.7h0M625.8 436.7h0M628.8 436.5h0M608.6 436.0h0M612.1 436.3h0M613.2 435.8h0M619.3 435.4h0M635.2 435.4h0M605.6 435.1h0M611.2 434.8h0M613.7 434.5h0M613.7 434.6h0M616.9 434.8h0M620.0 435.0h0M628.1 435.1h0M604.9 434.1h0M610.9 433.5h0M614.8 434.1h0M616.8 433.4h0M628.1 434.1h0M604.3 432.9h0M604.1 433.0h0M606.1 432.9h0M607.0 433.3h0M609.9 432.3h0M616.5 433.0h0M624.7 433.2h0M634.1 433.0h0M641.5 432.5h0M605.0 431.5h0M606.3 432.2h0M606.4 432.1h0M611.9 431.5h0M614.6 431.3h0M618.7 431.9h0M623.8 432.0h0M628.8 431.9h0M638.8 432.1h0M605.9 430.8h0M609.6 430.5h0M614.9 430.5h0M619.0 430.4h0M636.2 430.6h0M603.8 429.5h0M605.8 429.9h0M615.6 429.7h0M618.9 429.9h0M622.3 429.5h0M637.5 429.5h0M610.0 428.6h0M627.5 429.1h0M642.7 429.1h0M605.3 428.1h0M605.8 427.7h0M605.6 428.0h0M606.3 428.0h0M608.0 427.8h0M610.8 427.5h0M613.5 427.3h0M623.7 427.3h0M636.4 427.5h0M636.6 427.9h0M605.5 426.9h0M606.6 426.8h0M606.2 427.1h0M613.5 426.4h0M616.4 426.7h0M628.3 427.1h0M630.2 426.4h0M603.9 426.1h0M606.6 426.0h0M607.1 425.9h0M610.6 425.7h0M617.1 425.4h0M619.2 425.5h0M604.2 424.5h0M604.4 425.2h0M605.8 424.7h0M606.5 424.4h0M608.5 424.5h0M609.5 424.7h0M610.6 424.5h0M612.0 424.6h0M626.5 424.7h0M626.5 424.8h0M632.8 424.3h0M611.0 423.5h0M603.8 422.7h0M606.9 422.6h0M624.9 422.8h0M606.8 421.7h0M609.6 422.1h0M609.7 421.9h0M635.0 421.8h0M604.3 420.8h0M605.0 420.8h0M608.4 421.2h0M618.8 421.0h0M619.9 420.5h0M605.0 419.4h0M605.3 420.2h0M606.5 419.4h0M606.4 420.3h0M615.1 419.7h0M631.8 419.7h0M646.5 419.3h0M647.0 420.2h0M603.1 419.2h0M604.5 418.5h0M604.4 417.7h0M611.5 418.2h0M647.7 417.4h0M648.1 417.7h0M652.0 417.6h0M604.1 416.5h0M605.4 416.9h0M606.2 417.3h0M607.7 416.5h0M609.4 416.9h0M623.8 416.9h0M624.7 416.6h0M604.2 416.3h0M604.4 416.2h0M606.1 415.7h0M606.7 415.9h0M606.4 415.7h0M607.7 415.4h0M609.7 416.1h0M631.3 415.5h0M604.7 414.8h0M618.3 415.1h0M603.3 414.1h0M605.7 414.3h0M604.9 414.1h0M616.8 414.0h0M621.1 414.1h0M630.4 413.3h0M652.5 414.1h0M604.4 413.2h0M604.0 412.8h0M606.6 412.8h0M608.5 412.5h0M621.9 412.9h0M622.0 413.1h0M602.0 411.9h0M607.7 412.3h0M603.4 410.4h0M602.9 411.2h0M604.4 410.5h0M610.5 411.3h0M612.1 410.7h0M618.2 410.4h0M622.5 411.0h0M643.1 411.3h0M606.7 409.4h0M608.5 410.3h0M614.2 409.5h0M621.6 410.1h0M591.3 408.6h0M602.6 408.9h0M603.6 408.6h0M603.3 408.9h0M611.0 409.1h0M614.4 408.8h0M642.3 408.7h0M590.8 408.2h0M601.1 407.8h0M604.8 407.5h0M606.6 407.3h0M614.6 407.7h0M625.0 408.0h0M590.4 407.0h0M591.4 406.5h0M591.2 407.0h0M592.3 406.9h0M592.0 406.4h0M594.5 407.2h0M593.8 406.6h0M601.5 406.6h0M602.7 407.0h0M602.8 406.5h0M605.6 407.0h0M609.0 406.8h0M616.3 406.3h0M638.9 406.9h0M593.7 406.2h0M593.3 405.8h0M602.6 406.3h0M602.7 406.0h0M607.4 406.1h0M617.0 406.0h0M629.6 405.8h0M590.4 405.0h0M593.6 404.6h0M594.5 405.3h0M595.4 404.6h0M595.6 404.7h0M601.3 404.9h0M603.0 404.7h0M604.1 405.3h0M604.0 404.9h0M605.8 405.0h0M611.5 404.8h0M611.9 404.7h0M616.7 405.2h0M625.7 404.7h0M626.1 405.2h0M591.4 404.2h0M600.4 403.6h0M601.4 403.9h0M604.2 403.6h0M604.3 403.5h0M606.3 403.7h0M632.6 404.1h0M633.1 403.4h0M589.9 403.2h0M591.1 402.6h0M595.3 402.4h0M594.9 403.3h0M601.0 403.2h0M604.4 402.8h0M604.2 402.5h0M606.6 402.4h0M611.2 402.5h0M620.7 402.5h0M620.1 402.9h0M641.4 402.6h0M594.4 402.1h0M600.0 401.7h0M601.7 402.2h0M601.7 402.2h0M602.1 402.2h0M602.8 401.5h0M604.5 402.0h0M604.9 402.3h0M606.3 401.6h0M613.6 401.4h0M619.1 401.5h0M630.8 401.7h0M592.9 401.2h0M594.2 400.8h0M595.1 400.8h0M599.6 400.4h0M600.1 400.6h0M601.4 401.0h0M607.2 400.5h0M607.8 401.3h0M611.3 400.9h0M622.7 400.5h0M623.5 400.9h0M629.0 401.0h0M593.6 399.4h0M594.7 399.3h0M594.9 399.8h0M600.6 400.1h0M600.8 399.9h0M602.3 399.8h0M601.9 399.3h0M603.1 399.9h0M610.3 399.8h0M630.9 400.0h0M598.6 398.9h0M599.1 399.1h0M601.6 399.2h0M603.1 399.0h0M608.2 399.2h0M612.5 399.1h0M590.0 397.4h0M592.6 397.8h0M593.1 398.1h0M593.6 398.2h0M597.9 397.4h0M599.5 397.9h0M601.2 398.0h0M601.1 397.6h0M602.4 398.0h0M605.0 398.0h0M606.2 397.4h0M606.7 397.8h0M591.7 396.6h0M594.0 396.9h0M595.0 396.4h0M597.8 396.9h0M599.7 397.0h0M601.6 396.4h0M604.7 396.5h0M607.3 397.1h0M621.0 397.0h0M594.2 395.9h0M596.8 395.9h0M597.6 395.8h0M598.0 396.0h0M599.4 395.9h0M599.8 395.3h0M599.9 395.7h0M601.1 396.2h0M603.9 395.6h0M605.2 395.8h0M608.8 395.3h0M610.5 396.1h0M617.5 396.1h0M643.3 395.6h0M589.9 395.1h0M595.2 395.1h0M596.7 394.9h0M600.3 394.6h0M600.4 394.8h0M601.4 395.0h0M602.5 394.9h0M603.3 394.7h0M617.5 395.1h0M593.1 393.7h0M596.3 394.2h0M597.5 394.2h0M598.7 393.3h0M598.2 393.4h0M600.0 393.7h0M600.7 393.4h0M600.9 393.7h0M602.4 393.4h0M603.3 393.4h0M604.9 393.9h0M608.1 394.1h0M608.9 393.6h0M620.2 393.8h0M625.1 394.2h0M590.5 392.8h0M592.3 392.5h0M597.3 392.5h0M597.4 392.4h0M599.3 392.5h0M600.6 393.1h0M600.1 393.0h0M603.9 393.1h0M603.9 392.7h0M603.8 393.2h0M605.1 392.6h0M605.3 392.8h0M608.9 393.2h0M616.0 392.7h0M619.3 392.9h0M595.6 391.6h0M596.3 392.1h0M598.2 391.8h0M600.5 392.1h0M601.7 391.4h0M601.5 391.3h0M602.4 391.6h0M603.9 392.2h0M604.0 392.1h0M618.5 391.8h0M628.4 391.8h0M631.4 391.7h0M632.6 391.8h0M595.1 391.1h0M597.1 391.1h0M597.6 391.1h0M597.0 390.5h0M597.3 390.9h0M598.0 391.0h0M599.8 391.2h0M600.3 390.3h0M599.9 390.6h0M601.2 390.7h0M606.1 391.2h0M611.0 390.9h0M610.9 391.3h0M647.2 390.5h0M596.3 389.5h0M597.0 389.5h0M598.3 389.5h0M598.2 389.5h0M598.8 390.2h0M600.2 390.1h0M602.5 389.6h0M602.7 389.6h0M604.3 389.3h0M618.7 390.2h0M627.4 390.1h0M595.0 389.0h0M597.7 388.3h0M597.8 388.5h0M599.1 389.0h0M600.2 389.1h0M600.0 389.0h0M601.9 388.8h0M603.8 388.3h0M624.6 388.8h0M651.4 389.2h0M596.4 387.7h0M596.7 388.1h0M597.6 388.1h0M597.8 387.5h0M598.7 387.8h0M599.3 388.2h0M600.2 387.6h0M599.8 388.0h0M601.6 388.1h0M603.9 387.9h0M604.2 388.0h0M604.2 388.0h0M605.1 388.3h0M608.3 387.9h0M612.0 388.3h0M619.4 387.8h0M647.6 387.6h0M596.8 386.4h0M597.9 386.4h0M599.4 386.9h0M598.9 386.9h0M599.9 387.0h0M602.7 387.1h0M602.6 386.3h0M605.6 386.8h0M612.7 387.2h0M624.9 386.9h0M626.2 386.5h0M636.6 387.2h0M594.3 385.8h0M593.8 385.7h0M597.1 385.9h0M599.3 385.5h0M600.1 385.6h0M601.5 385.5h0M608.6 385.7h0M610.7 385.8h0M620.5 385.7h0M595.5 384.6h0M598.7 385.2h0M599.1 385.1h0M598.8 384.7h0M602.2 385.2h0M604.0 384.8h0M604.4 385.0h0M594.7 384.0h0M595.4 384.3h0M596.8 383.7h0M596.6 384.0h0M595.9 384.3h0M598.3 383.9h0M599.3 383.8h0M599.1 384.1h0M601.0 383.4h0M602.0 384.1h0M612.9 383.3h0M632.5 383.7h0M595.9 382.8h0M597.0 383.0h0M598.9 383.2h0M601.0 382.9h0M603.3 382.8h0M604.0 382.4h0M604.5 382.8h0M604.4 383.0h0M605.7 382.7h0M605.7 382.8h0M605.2 383.3h0M610.3 382.8h0M611.7 382.9h0M598.7 381.4h0M599.4 381.4h0M601.3 382.1h0M604.8 382.0h0M604.0 382.1h0M611.5 382.0h0M635.6 381.7h0M598.1 380.5h0M598.0 381.0h0M600.5 380.6h0M602.1 380.3h0M604.2 381.1h0M605.0 380.7h0M607.1 380.8h0M613.5 380.5h0M620.9 380.9h0M629.9 381.3h0M636.4 380.7h0M598.5 380.2h0M601.5 379.5h0M602.8 379.5h0M610.4 380.2h0M610.8 379.3h0M620.6 379.6h0M629.1 380.0h0M599.0 378.4h0M600.0 379.2h0M600.8 378.4h0M602.8 379.1h0M611.1 378.6h0M611.8 378.4h0M616.6 379.3h0M627.6 378.8h0M598.0 377.5h0M599.6 377.4h0M599.1 377.4h0M598.9 377.9h0M600.5 377.3h0M600.2 378.1h0M604.4 377.7h0M605.1 378.1h0M606.2 377.3h0M610.9 378.1h0M597.7 376.8h0M597.0 376.3h0M598.7 376.7h0M599.2 376.3h0M599.8 377.0h0M601.7 376.4h0M601.3 376.7h0M603.6 377.1h0M603.0 377.0h0M605.9 376.5h0M606.2 376.5h0M617.1 376.8h0M596.5 375.9h0M600.1 375.6h0M601.0 375.6h0M602.6 376.0h0M602.3 376.3h0M603.4 375.5h0M603.6 375.5h0M632.3 375.4h0M631.8 376.1h0M637.9 375.9h0M595.4 374.4h0M599.8 375.1h0M599.7 374.9h0M603.1 375.2h0M606.1 375.0h0M606.7 375.1h0M613.7 374.4h0M632.8 374.9h0M638.0 374.7h0M597.8 373.8h0M599.1 373.4h0M598.8 373.5h0M603.1 373.8h0M603.1 373.8h0M603.3 374.2h0M603.1 373.4h0M607.0 373.7h0M608.7 373.6h0M609.2 373.6h0M636.3 373.6h0M642.1 373.7h0M602.8 372.9h0M605.7 373.3h0M606.4 372.9h0M611.3 372.7h0M630.0 372.4h0M599.3 372.2h0M600.2 371.9h0M600.5 371.4h0M601.3 371.9h0M603.7 371.7h0M604.7 371.8h0M605.4 372.0h0M619.9 372.2h0M600.8 371.1h0M601.3 371.1h0M602.6 371.0h0M601.8 371.3h0M602.1 370.6h0M603.5 371.2h0M603.6 370.9h0M604.3 371.1h0M604.1 370.9h0M606.0 370.6h0M607.6 370.8h0M611.5 370.9h0M598.2 370.1h0M600.6 369.4h0M596.2 369.1h0M600.2 368.9h0M601.8 368.6h0M604.8 369.2h0M612.7 368.8h0M613.7 368.5h0M616.3 368.6h0M599.6 367.7h0M598.9 368.3h0M599.1 367.7h0M602.7 367.8h0M605.9 367.8h0M651.4 368.1h0M598.0 366.8h0M600.9 366.7h0M603.2 366.8h0M610.7 367.3h0M617.6 366.7h0M652.6 366.5h0M599.9 365.4h0M600.7 366.2h0M603.3 365.7h0M602.8 365.5h0M606.4 365.4h0M609.4 365.8h0M619.3 366.2h0M636.7 365.7h0M599.3 364.7h0M599.4 364.9h0M599.3 365.1h0M601.5 365.3h0M603.6 364.4h0M604.1 364.7h0M604.3 365.1h0M604.8 365.1h0M605.5 365.0h0M617.7 364.9h0M629.5 364.7h0M630.8 364.8h0M598.5 363.9h0M598.7 364.3h0M599.7 363.5h0M600.1 364.1h0M605.7 363.9h0M608.9 364.1h0M618.3 364.0h0M628.4 364.3h0M603.7 363.0h0M603.1 363.2h0M607.5 363.0h0M608.8 362.9h0M600.4 361.9h0M602.9 362.3h0M603.6 361.9h0M603.8 361.4h0M605.5 362.0h0M605.7 361.4h0M627.5 361.4h0M602.2 360.9h0M605.3 360.8h0M607.0 360.7h0M602.2 359.8h0M603.1 360.2h0M603.6 360.1h0M603.8 359.9h0M604.4 360.1h0M606.0 359.7h0M608.8 360.0h0M609.3 359.7h0M609.1 359.4h0M608.8 360.0h0M611.5 359.6h0M619.2 359.5h0M639.1 360.1h0M646.1 359.4h0M599.6 358.7h0M599.5 358.4h0M601.4 358.7h0M601.5 358.8h0M601.9 358.5h0M604.5 358.6h0M612.6 358.8h0M617.9 358.3h0M599.4 357.5h0M600.0 357.4h0M608.4 357.8h0M609.7 357.8h0M612.5 357.6h0M616.2 358.2h0M600.5 356.8h0M601.4 356.9h0M601.9 356.8h0M603.5 356.9h0M604.6 356.9h0M605.4 356.8h0M617.6 356.7h0M600.7 356.2h0M601.3 355.4h0M603.8 355.4h0M603.2 356.2h0M602.9 355.5h0M605.1 355.4h0M612.1 355.5h0M600.1 354.5h0M601.4 355.3h0M601.3 355.2h0M601.6 355.1h0M604.4 355.2h0M608.3 354.9h0M608.7 354.7h0M608.2 354.5h0M610.1 354.9h0M619.8 354.8h0M598.6 353.9h0M599.5 353.6h0M601.3 354.1h0M602.3 354.3h0M602.9 353.3h0M604.7 353.3h0M605.2 353.6h0M633.9 353.8h0M635.4 353.3h0M652.4 353.4h0M598.3 352.7h0M599.4 352.4h0M600.0 352.4h0M600.9 352.8h0M601.7 353.0h0M601.6 352.5h0M604.7 353.2h0M608.6 352.5h0M598.9 351.4h0M602.9 352.0h0M606.1 351.7h0M627.3 352.1h0M601.9 350.4h0M601.9 350.6h0M603.0 350.5h0M603.0 350.5h0M605.5 350.5h0M605.3 351.2h0M605.9 350.9h0M609.4 350.4h0M599.2 350.1h0M599.7 349.4h0M602.1 349.4h0M605.7 349.9h0M605.9 349.3h0M607.2 349.7h0M619.9 349.6h0M644.8 350.0h0M599.0 349.0h0M600.2 349.3h0M601.3 348.7h0M603.2 349.0h0M604.7 348.6h0M604.9 348.4h0M642.0 348.5h0M600.7 347.9h0M601.0 347.4h0M602.5 347.8h0M603.8 348.0h0M603.9 347.5h0M604.4 347.5h0M607.7 347.4h0M608.8 347.3h0M608.0 347.4h0M610.7 348.2h0M632.0 347.7h0M599.9 347.0h0M600.5 346.9h0M601.7 346.4h0M604.4 346.3h0M606.1 346.6h0M606.8 347.1h0M607.2 346.7h0M619.0 346.7h0M641.3 346.9h0" stroke="#ff0000" stroke-width="1.9" stroke-linecap="round" fill="none"/><line x1="509" y1="347.3" x2="552" y2="347.3" stroke="#0000ff" stroke-width="1.6"/><line x1="600" y1="347.3" x2="652.8" y2="347.3" stroke="#ff0000" stroke-width="1.6"/></g><rect x="508.5" y="346.3" width="144.7" height="103.5" fill="none" stroke="#b8b8b8" stroke-width="0.8"/><line x1="524.9" y1="472.3" x2="524.9" y2="575.4" stroke="#f3f3f3" stroke-width="0.7"/><line x1="543.5" y1="472.3" x2="543.5" y2="575.4" stroke="#e8e8e8" stroke-width="0.7"/><line x1="562.2" y1="472.3" x2="562.2" y2="575.4" stroke="#f3f3f3" stroke-width="0.7"/><line x1="580.9" y1="472.3" x2="580.9" y2="575.4" stroke="#e8e8e8" stroke-width="0.7"/><line x1="599.6" y1="472.3" x2="599.6" y2="575.4" stroke="#f3f3f3" stroke-width="0.7"/><line x1="618.7" y1="472.3" x2="618.7" y2="575.4" stroke="#e8e8e8" stroke-width="0.7"/><line x1="637.4" y1="472.3" x2="637.4" y2="575.4" stroke="#f3f3f3" stroke-width="0.7"/><line x1="508.5" y1="570.1" x2="653.2" y2="570.1" stroke="#e8e8e8" stroke-width="0.7"/><line x1="506.0" y1="570.1" x2="508.5" y2="570.1" stroke="#aaa" stroke-width="0.6"/><text x="505.5" y="571.0" font-size="2.8" fill="#999" text-anchor="end">0</text><line x1="508.5" y1="554.5" x2="653.2" y2="554.5" stroke="#f3f3f3" stroke-width="0.7"/><line x1="508.5" y1="538.9" x2="653.2" y2="538.9" stroke="#e8e8e8" stroke-width="0.7"/><line x1="506.0" y1="538.9" x2="508.5" y2="538.9" stroke="#aaa" stroke-width="0.6"/><text x="505.5" y="539.8" font-size="2.8" fill="#999" text-anchor="end">5</text><line x1="508.5" y1="523.3" x2="653.2" y2="523.3" stroke="#f3f3f3" stroke-width="0.7"/><line x1="508.5" y1="507.7" x2="653.2" y2="507.7" stroke="#e8e8e8" stroke-width="0.7"/><line x1="506.0" y1="507.7" x2="508.5" y2="507.7" stroke="#aaa" stroke-width="0.6"/><text x="505.5" y="508.6" font-size="2.8" fill="#999" text-anchor="end">10</text><line x1="508.5" y1="492.1" x2="653.2" y2="492.1" stroke="#f3f3f3" stroke-width="0.7"/><line x1="508.5" y1="476.5" x2="653.2" y2="476.5" stroke="#e8e8e8" stroke-width="0.7"/><line x1="506.0" y1="476.5" x2="508.5" y2="476.5" stroke="#aaa" stroke-width="0.6"/><text x="505.5" y="477.4" font-size="2.8" fill="#999" text-anchor="end">15</text><line x1="543.5" y1="575.4" x2="543.5" y2="577.9" stroke="#aaa" stroke-width="0.6"/><line x1="580.9" y1="575.4" x2="580.9" y2="577.9" stroke="#aaa" stroke-width="0.6"/><line x1="618.7" y1="575.4" x2="618.7" y2="577.9" stroke="#aaa" stroke-width="0.6"/><g clip-path="url(#vclip2)"><path d="M571.4 571.0 L571.4 536.0 L572.0 505.0 L573.2 536.0 L576.0 552.0 L580.8 568.4 L585.0 552.0 L587.6 505.0 L588.4 473.0 L590.4 473.0 L590.4 571.0Z" fill="#000"/><path d="M555.0 569.7 L609.0 569.7 L609.0 571.3 L555.0 571.3Z" fill="#000"/><path d="M572.6 495.9h0M575.0 544.3h0M574.1 539.8h0M573.5 537.2h0M576.6 550.9h0M571.6 506.0h0M574.8 543.5h0M572.3 536.1h0M572.6 496.5h0M573.8 542.0h0M573.1 517.3h0M574.8 545.7h0M575.5 551.7h0M574.0 539.4h0M573.3 538.7h0M576.9 551.8h0M574.0 532.5h0M574.9 541.4h0M573.4 524.0h0M576.6 552.7h0M576.9 554.8h0M577.6 552.9h0M573.0 488.9h0M572.2 523.4h0M575.8 553.5h0M573.6 542.3h0M572.2 495.5h0M571.9 488.3h0M571.4 493.1h0M573.2 515.4h0M571.7 506.8h0M574.2 545.7h0M576.2 548.2h0M576.1 549.2h0M571.4 491.0h0M573.6 524.6h0M576.3 551.8h0M571.9 511.2h0M575.6 544.5h0M577.0 554.3h0M585.3 537.2h0M587.0 525.5h0M588.7 484.3h0M587.7 501.8h0M586.5 540.3h0M588.7 481.5h0M587.0 487.9h0M586.6 512.9h0M585.3 545.8h0M588.4 477.8h0M584.3 548.1h0M587.3 510.2h0M588.5 491.2h0M587.4 524.0h0M588.3 477.3h0M586.5 528.0h0M587.0 482.1h0M584.6 550.7h0M587.5 481.5h0M588.5 495.4h0M586.8 503.2h0M586.2 522.9h0M585.7 522.2h0M587.5 521.7h0M588.4 502.6h0M585.1 551.9h0M587.9 477.3h0M587.4 497.9h0M588.2 498.2h0M587.4 488.4h0M586.9 528.3h0M586.1 544.3h0M586.8 491.9h0M586.5 538.2h0M587.1 526.8h0M555.9 569.8h0M592.0 571.0h0M592.7 571.3h0M579.1 570.8h0M568.3 569.7h0M576.9 569.4h0M583.9 570.0h0M558.5 570.1h0M560.2 570.8h0M559.6 569.6h0M580.3 571.1h0M603.5 570.0h0M572.8 570.4h0M589.5 569.8h0M576.2 570.1h0M600.5 569.4h0M581.9 570.6h0M596.1 570.4h0M575.6 571.1h0M603.0 570.1h0M571.7 498.3h0M571.9 489.5h0M571.3 486.6h0M571.4 490.1h0M571.3 500.0h0M572.1 488.2h0M571.3 486.0h0M571.3 491.4h0M571.3 505.6h0M571.0 497.7h0" stroke="#000" stroke-width="1.5" stroke-linecap="round" fill="none"/><path d="M543.5 570.4H572.5M543.5 569.4H572.5M544.5 568.4H572.5M544.5 567.4H572.5M545.5 566.4H572.5M546.5 565.4H572.5M546.5 564.4H572.5M547.5 563.4H572.5M547.5 562.4H572.5M548.5 561.4H572.5M549.5 560.4H572.5M549.5 559.4H572.5M550.5 558.4H572.5M551.5 557.4H572.5M552.5 556.4H572.5M552.5 555.4H572.5M553.5 554.4H572.5M554.5 553.4H572.5M554.5 552.4H572.5M556.5 551.4H572.5M557.5 550.4H572.5M558.5 549.4H572.5M559.5 548.4H572.5M559.5 547.4H572.5M560.5 546.4H572.5M560.5 545.4H572.5M561.5 544.4H572.5M561.5 543.4H572.5M562.5 542.4H572.5M564.5 541.4H572.5M565.5 540.4H572.5M566.5 539.4H572.5M570.5 538.4H571.5" stroke="#0000ff" stroke-width="1.05" fill="none"/><path d="M589.8 570.4H608.8M589.8 569.4H608.8M589.8 568.4H608.8M589.8 567.4H607.8M589.8 566.4H607.8M589.8 565.4H606.8M589.8 564.4H606.8M589.8 563.4H605.8M589.8 562.4H605.8M589.8 561.4H604.8M589.8 560.4H604.8M589.8 559.4H603.8M589.8 558.4H602.8M589.8 557.4H602.8M589.8 556.4H602.8M589.8 555.4H601.8M589.8 554.4H601.8M589.8 553.4H601.8M589.8 552.4H600.8M589.8 551.4H600.8M589.8 550.4H600.8M589.8 549.4H600.8M589.8 548.4H600.8M589.8 547.4H599.8M589.8 546.4H599.8M589.8 545.4H599.8M589.8 544.4H598.8M589.8 543.4H598.8M589.8 542.4H597.8M589.8 541.4H597.8M589.8 540.4H596.8M589.8 539.4H596.8M589.8 538.4H596.8M589.8 537.4H595.8M589.8 536.4H595.8M589.8 535.4H594.8M589.8 534.4H594.8M589.8 533.4H594.8M589.8 532.4H593.8M589.8 531.4H593.8M589.8 530.4H593.8M589.8 529.4H593.8M589.8 528.4H592.8M589.8 527.4H592.8M589.8 526.4H592.8M589.8 525.4H592.8M589.8 524.4H592.8M589.8 523.4H591.8M589.8 522.4H591.8M589.8 521.4H591.8M589.8 520.4H591.8M589.8 519.4H591.8M589.8 518.4H590.8M589.8 517.4H590.8M589.8 516.4H590.8M589.8 515.4H590.8M589.8 514.4H590.8" stroke="#ff0000" stroke-width="1.05" fill="none"/><path d="M521.0 570.1h0M526.7 570.7h0M528.7 570.6h0M529.0 570.3h0M534.2 570.2h0M534.5 570.3h0M539.2 570.1h0M540.8 570.7h0M523.8 569.4h0M529.4 569.5h0M529.3 569.9h0M528.9 569.0h0M530.9 569.0h0M531.4 569.2h0M534.3 569.0h0M535.7 569.4h0M537.1 569.8h0M537.1 569.7h0M540.7 569.8h0M528.7 567.9h0M530.1 568.4h0M531.7 568.3h0M535.1 568.8h0M536.2 568.5h0M538.2 568.1h0M540.6 568.6h0M542.4 568.6h0M544.3 568.1h0M543.9 568.9h0M544.2 568.3h0M534.3 567.4h0M538.6 567.6h0M539.7 567.5h0M542.9 567.6h0M543.1 567.8h0M519.0 566.3h0M527.1 566.9h0M536.4 566.3h0M537.3 566.7h0M536.5 566.5h0M539.6 566.3h0M531.3 565.0h0M539.7 565.4h0M543.3 565.7h0M544.1 565.5h0M544.1 565.6h0M545.0 565.0h0M544.8 565.0h0M545.7 565.3h0M532.0 564.6h0M538.2 564.8h0M539.3 564.8h0M540.4 564.5h0M539.9 564.6h0M540.5 564.0h0M543.6 564.5h0M544.5 564.0h0M545.6 564.2h0M526.6 563.1h0M535.9 563.0h0M536.8 563.3h0M538.9 563.4h0M539.4 562.9h0M541.0 563.0h0M543.4 563.1h0M543.2 563.9h0M545.8 563.6h0M546.0 563.9h0M546.9 563.4h0M527.3 562.6h0M528.6 562.9h0M530.0 562.8h0M533.8 562.7h0M539.7 562.6h0M541.2 562.4h0M542.1 562.0h0M546.5 562.7h0M547.2 562.3h0M529.8 561.3h0M530.8 561.5h0M533.1 561.7h0M539.2 561.7h0M538.9 561.7h0M538.6 561.8h0M539.6 561.8h0M541.7 561.2h0M543.5 561.7h0M544.3 561.3h0M544.5 561.0h0M547.7 561.0h0M531.5 560.3h0M535.3 560.5h0M540.0 560.0h0M540.3 560.8h0M541.5 560.0h0M542.1 560.7h0M542.3 560.7h0M543.0 560.7h0M544.4 560.2h0M548.4 560.1h0M548.5 560.9h0M549.4 560.4h0M537.9 558.9h0M540.5 559.6h0M540.7 559.5h0M542.5 559.7h0M546.3 559.0h0M545.6 559.8h0M548.3 559.5h0M548.0 559.6h0M528.3 558.9h0M530.2 558.5h0M539.7 558.9h0M545.3 558.9h0M546.0 558.6h0M549.2 558.7h0M548.8 558.5h0M550.2 558.9h0M527.0 557.2h0M529.5 557.7h0M535.7 557.7h0M543.2 557.8h0M546.0 557.0h0M546.7 557.4h0M547.9 557.0h0M551.2 557.8h0M525.5 556.7h0M533.5 556.8h0M533.8 556.8h0M536.1 556.4h0M537.2 556.2h0M537.9 556.8h0M543.2 555.9h0M544.1 556.0h0M544.0 556.3h0M550.4 556.8h0M550.5 556.5h0M538.3 555.6h0M551.3 555.5h0M551.0 555.8h0M551.9 555.7h0M551.9 555.3h0M551.9 555.7h0M532.7 554.6h0M535.9 554.4h0M535.8 553.9h0M539.7 553.9h0M545.0 554.3h0M545.5 554.7h0M548.1 554.5h0M550.4 554.2h0M550.8 554.1h0M552.3 554.8h0M551.8 554.4h0M536.7 553.6h0M537.0 553.8h0M537.5 553.2h0M538.5 553.8h0M538.6 553.6h0M539.9 553.4h0M545.4 553.2h0M545.7 552.9h0M547.7 553.3h0M550.2 552.9h0M550.8 553.8h0M553.8 553.6h0M553.8 553.4h0M535.6 552.6h0M540.9 552.5h0M542.0 552.7h0M549.7 552.4h0M554.5 552.6h0M554.2 552.0h0M533.7 551.1h0M534.5 551.0h0M537.1 551.9h0M536.6 551.2h0M539.4 551.7h0M543.7 551.4h0M547.5 551.4h0M549.2 551.4h0M551.8 551.6h0M553.8 551.5h0M553.9 551.5h0M533.0 550.8h0M535.2 550.5h0M550.3 550.3h0M549.9 550.8h0M552.1 550.0h0M553.0 550.5h0M557.2 550.4h0M557.0 550.7h0M520.2 549.2h0M549.0 548.9h0M548.7 549.6h0M550.3 549.0h0M552.9 549.0h0M528.0 548.4h0M535.8 548.2h0M540.8 548.1h0M542.9 548.7h0M544.6 548.5h0M547.0 547.9h0M547.4 548.6h0M549.0 548.7h0M549.7 548.0h0M551.8 548.6h0M554.8 548.5h0M556.7 548.3h0M519.7 547.4h0M534.5 547.1h0M535.1 547.8h0M535.6 547.2h0M536.3 547.7h0M545.2 547.3h0M547.2 547.6h0M550.3 547.0h0M552.3 547.4h0M554.9 547.7h0M557.4 547.8h0M545.9 546.1h0M546.6 546.7h0M551.5 546.6h0M551.1 545.9h0M550.8 546.6h0M556.4 546.0h0M560.2 545.9h0M530.0 545.5h0M531.1 545.4h0M534.7 545.6h0M535.8 545.6h0M539.7 545.2h0M540.9 545.8h0M540.9 545.2h0M545.2 545.3h0M548.4 545.2h0M548.4 545.7h0M552.3 545.7h0M557.9 545.4h0M558.1 545.5h0M558.0 545.0h0M559.5 545.4h0M521.7 544.5h0M540.2 544.7h0M542.7 544.8h0M550.0 544.2h0M552.1 544.7h0M554.5 544.5h0M554.8 544.9h0M555.9 544.5h0M557.4 544.0h0M559.4 544.6h0M558.6 544.5h0M561.5 544.6h0M518.9 543.5h0M543.6 543.3h0M547.5 543.1h0M551.4 543.5h0M558.3 543.7h0M561.3 543.8h0M526.9 542.3h0M541.7 542.7h0M543.2 542.2h0M545.7 542.3h0M551.3 542.5h0M550.8 542.9h0M552.2 542.0h0M554.8 542.0h0M557.4 542.7h0M557.7 542.7h0M558.9 542.4h0M561.4 542.2h0M536.5 541.4h0M537.7 541.0h0M541.2 541.1h0M543.3 541.3h0M550.6 541.3h0M551.6 541.4h0M558.5 541.2h0M559.6 541.5h0M560.4 541.5h0M560.9 541.1h0M564.2 541.0h0M521.5 540.6h0M539.6 540.9h0M543.2 540.1h0M549.9 540.6h0M553.9 540.4h0M557.2 540.6h0M559.1 539.9h0M559.7 540.6h0M564.5 540.1h0M528.0 539.7h0M542.1 539.0h0M545.2 539.5h0M552.8 539.7h0M557.8 539.8h0M559.9 539.7h0M560.1 539.5h0M560.6 539.8h0M561.9 539.9h0M561.9 539.0h0M562.8 539.4h0M563.3 539.4h0M564.0 539.9h0M565.1 539.2h0M530.3 538.2h0M534.5 538.2h0M540.9 538.4h0M550.1 538.5h0M551.0 538.3h0M552.9 538.2h0M556.7 538.0h0M557.3 538.7h0M562.6 538.8h0M563.2 538.7h0M564.7 538.6h0M567.8 538.3h0M530.3 537.7h0M540.9 537.7h0M550.6 537.5h0M552.1 537.6h0M553.7 537.1h0M555.3 537.0h0M555.5 537.8h0M555.9 537.7h0M558.4 537.1h0M558.8 537.8h0M560.3 537.6h0M563.6 537.3h0M565.8 537.6h0M566.3 537.5h0M566.6 537.5h0M568.3 537.8h0M570.1 537.1h0M541.0 536.0h0M542.1 536.5h0M547.9 536.2h0M547.8 536.3h0M550.5 536.8h0M550.8 536.4h0M552.4 536.1h0M556.8 536.1h0M561.5 536.0h0M563.8 536.2h0M566.3 536.8h0M570.3 536.8h0M542.1 535.8h0M546.2 535.1h0M549.8 535.0h0M550.3 535.1h0M555.2 535.7h0M555.8 535.1h0M557.5 535.0h0M558.8 535.5h0M563.9 535.8h0M565.2 535.7h0M567.2 535.9h0M567.6 534.9h0M570.3 535.7h0M570.9 535.5h0M570.8 535.2h0M571.6 535.6h0M572.5 534.9h0M532.1 534.1h0M540.6 534.0h0M543.1 534.9h0M542.6 534.5h0M549.0 534.7h0M552.4 534.3h0M553.5 534.7h0M556.3 534.8h0M558.9 534.7h0M565.3 533.9h0M567.1 534.2h0M567.6 534.6h0M570.4 533.9h0M570.6 534.4h0M571.9 534.8h0M540.5 533.0h0M554.6 533.4h0M555.0 533.3h0M556.0 533.0h0M561.8 533.2h0M563.4 533.0h0M563.5 533.3h0M564.8 533.7h0M567.1 533.0h0M568.2 533.9h0M568.4 533.2h0M569.8 533.6h0M570.8 533.6h0M537.4 532.3h0M538.3 532.2h0M550.7 532.5h0M553.0 532.2h0M554.4 532.5h0M554.8 532.8h0M560.9 532.8h0M565.4 532.6h0M565.8 532.2h0M569.6 531.9h0M570.1 532.8h0M569.7 532.8h0M540.0 531.0h0M546.1 531.9h0M547.4 531.0h0M549.5 530.9h0M552.9 531.5h0M555.2 531.2h0M556.8 531.8h0M559.0 531.5h0M563.6 531.0h0M565.3 531.1h0M566.4 531.8h0M572.5 531.8h0M543.7 530.4h0M547.4 530.6h0M548.4 530.3h0M548.7 530.4h0M552.0 530.5h0M554.2 530.5h0M555.8 530.9h0M559.8 529.9h0M560.3 530.9h0M562.2 530.2h0M562.9 530.1h0M567.4 529.9h0M542.4 529.0h0M544.0 529.0h0M550.1 529.6h0M549.8 529.1h0M558.2 529.0h0M563.4 529.3h0M562.5 529.2h0M563.2 529.3h0M568.4 529.2h0M568.9 529.0h0M571.3 529.7h0M535.1 528.6h0M536.6 528.5h0M543.2 528.7h0M544.2 527.9h0M545.5 528.2h0M548.6 528.2h0M551.9 527.9h0M552.2 528.8h0M552.8 528.0h0M557.4 528.3h0M557.7 528.5h0M561.7 528.7h0M562.2 528.3h0M563.2 528.0h0M538.1 527.2h0M538.3 527.4h0M547.9 527.0h0M549.5 527.5h0M552.4 527.4h0M555.6 527.1h0M556.8 526.9h0M557.1 527.7h0M557.8 527.8h0M560.2 526.9h0M563.5 527.0h0M564.0 526.9h0M565.2 527.8h0M568.6 527.5h0M571.9 527.8h0M572.5 527.8h0M508.8 526.0h0M526.5 526.3h0M541.7 526.7h0M547.3 526.7h0M552.1 526.4h0M555.8 526.1h0M556.0 526.8h0M558.0 526.7h0M559.9 526.5h0M561.6 526.1h0M565.1 526.5h0M566.1 526.6h0M569.1 526.0h0M568.8 526.2h0M534.5 524.9h0M553.2 525.5h0M553.8 525.3h0M558.0 525.8h0M565.9 524.9h0M569.8 525.0h0M536.2 524.3h0M538.4 524.6h0M539.8 524.9h0M543.4 524.9h0M545.9 524.6h0M549.2 524.4h0M553.2 524.3h0M552.7 524.0h0M557.2 523.9h0M560.4 524.5h0M560.8 524.4h0M561.9 524.8h0M565.3 524.4h0M565.1 523.9h0M564.8 524.0h0M565.8 524.1h0M570.0 524.5h0M570.9 524.6h0M536.1 523.8h0M537.5 523.0h0M543.1 523.1h0M551.0 523.8h0M552.8 523.2h0M553.9 523.4h0M557.2 523.9h0M559.2 523.2h0M562.3 523.4h0M562.1 523.8h0M565.1 523.0h0M567.2 523.3h0M531.5 522.7h0M539.4 522.6h0M541.2 522.6h0M545.4 522.1h0M548.5 522.2h0M554.0 521.9h0M556.5 522.0h0M559.8 522.8h0M562.3 522.6h0M563.3 522.2h0M536.3 521.0h0M539.9 521.7h0M541.1 521.6h0M553.1 521.1h0M552.8 521.5h0M553.6 521.1h0M555.1 521.3h0M555.9 521.0h0M561.5 521.4h0M561.0 521.9h0M564.2 521.6h0M566.3 521.7h0M567.8 521.4h0M570.2 521.4h0M571.7 521.4h0M535.3 520.3h0M547.7 520.2h0M553.3 520.9h0M553.7 520.5h0M559.0 520.1h0M560.9 520.5h0M564.4 520.8h0M566.4 520.3h0M570.0 520.8h0M545.5 519.1h0M546.6 519.8h0M552.9 519.2h0M555.2 519.8h0M559.8 519.5h0M562.8 519.7h0M563.8 519.3h0M567.8 519.2h0M569.5 519.6h0M544.2 518.8h0M547.1 517.9h0M549.2 518.6h0M554.9 518.2h0M557.4 518.6h0M559.4 518.2h0M562.1 518.0h0M552.1 517.8h0M552.4 517.5h0M551.7 517.5h0M558.7 517.1h0M560.0 517.4h0M561.2 517.2h0M562.1 517.0h0M562.8 517.9h0M568.4 517.2h0M546.5 516.0h0M556.1 516.1h0M558.6 516.8h0M561.3 516.6h0M565.6 516.3h0M565.8 516.1h0M570.2 516.2h0M538.5 515.1h0M549.7 515.5h0M552.4 515.1h0M552.8 514.9h0M554.6 515.4h0M555.7 515.0h0M561.9 515.6h0M565.6 515.4h0M537.4 514.2h0M558.0 514.8h0M558.3 514.1h0M537.7 513.4h0M552.2 513.4h0M558.4 513.0h0M533.3 512.3h0M546.7 512.4h0M548.9 512.6h0M555.0 512.2h0M560.6 512.6h0M563.7 512.5h0M567.0 512.0h0M567.6 512.5h0M538.2 511.3h0M542.0 510.9h0M546.0 510.9h0M546.8 511.2h0M548.9 511.8h0M548.7 511.2h0M550.3 511.4h0M552.8 511.9h0M558.4 510.9h0M559.0 510.9h0M560.4 511.9h0M560.7 511.7h0M534.0 510.8h0M541.6 510.3h0M548.8 510.1h0M549.8 510.1h0M551.7 510.6h0M554.4 510.3h0M554.1 510.5h0M557.8 510.7h0M564.4 510.2h0M563.7 510.1h0M567.0 510.7h0M571.5 510.2h0M551.7 509.1h0M552.0 509.8h0M556.0 509.8h0M556.4 509.4h0M555.8 509.1h0M558.1 509.8h0M563.3 509.6h0M566.5 509.9h0M561.9 508.7h0M564.8 508.1h0M567.1 508.5h0M570.4 508.2h0M529.8 507.1h0M532.6 507.0h0M534.1 507.0h0M536.8 507.5h0M544.2 507.9h0M547.1 507.8h0M552.0 507.0h0M553.0 507.7h0M559.2 507.2h0M567.0 507.4h0M571.4 507.4h0M533.0 506.6h0M540.3 506.6h0M542.6 506.8h0M547.4 506.8h0M547.3 506.8h0M553.1 506.3h0M553.6 506.3h0M554.9 506.8h0M554.7 506.1h0M558.4 506.5h0M564.7 506.8h0M569.1 505.9h0M570.9 506.6h0M541.3 505.3h0M542.3 505.3h0M547.5 505.3h0M547.1 505.2h0M559.6 505.7h0M559.6 505.0h0M561.5 505.5h0M565.0 505.6h0M567.8 505.7h0M570.7 505.0h0M548.6 504.7h0M548.6 504.8h0M550.4 504.2h0M552.8 504.5h0M557.2 504.5h0M561.4 504.9h0M562.7 504.9h0M566.5 504.4h0M568.2 504.7h0M527.9 503.6h0M547.9 503.5h0M551.5 503.1h0M551.9 503.9h0M552.2 503.4h0M552.7 503.0h0M559.7 503.0h0M559.7 503.2h0M563.8 503.5h0M564.8 503.0h0M565.8 503.6h0M566.7 503.0h0M571.3 503.2h0M571.2 503.0h0M539.7 502.9h0M543.8 502.3h0M548.5 502.0h0M552.0 502.0h0M553.7 502.6h0M553.7 502.4h0M555.2 502.4h0M556.6 502.8h0M566.7 502.5h0M569.6 502.8h0M526.4 500.9h0M534.4 501.6h0M535.5 500.9h0M541.1 501.5h0M541.4 501.0h0M545.8 501.2h0M547.9 501.7h0M548.0 501.4h0M554.2 501.5h0M556.0 501.5h0M560.5 501.3h0M564.2 500.9h0M566.2 501.5h0M568.0 501.7h0M549.5 500.2h0M553.8 500.5h0M563.1 500.5h0M534.5 499.8h0M548.3 499.4h0M563.4 499.5h0M566.9 499.8h0M536.9 498.7h0M540.2 498.9h0M541.5 498.4h0M545.3 498.1h0M552.2 498.7h0M557.7 498.7h0M559.1 498.8h0M562.8 498.8h0M568.6 498.1h0M569.8 498.6h0M547.0 497.7h0M546.5 497.3h0M550.5 497.5h0M552.5 497.6h0M561.9 497.2h0M552.2 496.3h0M554.7 496.3h0M556.9 496.0h0M560.9 496.5h0M526.7 494.9h0M539.1 495.7h0M545.3 495.2h0M549.0 495.0h0M552.2 495.9h0M557.7 495.3h0M559.0 495.2h0M564.8 495.3h0M548.3 494.7h0M557.4 494.0h0M531.3 493.7h0M537.5 493.4h0M546.3 493.6h0M546.5 493.0h0M547.6 493.0h0M549.6 493.7h0M556.2 493.7h0M558.4 493.5h0M562.0 493.8h0M563.8 493.9h0M564.5 493.6h0M567.7 493.0h0M540.2 492.2h0M544.7 492.5h0M550.7 492.5h0M553.5 492.8h0M556.1 492.1h0M555.9 492.7h0M565.9 491.9h0M568.7 492.8h0M544.7 491.1h0M553.7 491.2h0M554.4 491.9h0M553.8 491.1h0M555.9 491.7h0M555.6 491.2h0M557.8 491.3h0M561.6 491.2h0M562.3 491.3h0M562.5 491.5h0M564.4 491.2h0M566.2 491.5h0M540.2 490.1h0M546.0 490.8h0M546.5 490.2h0M553.4 490.2h0M558.5 489.9h0M561.2 489.9h0M561.6 490.8h0M543.9 489.6h0M547.0 489.8h0M560.7 489.6h0M529.8 488.3h0M531.7 488.1h0M539.7 488.0h0M547.2 488.3h0M550.8 488.7h0M560.9 488.3h0M563.1 488.7h0M563.7 488.0h0M566.7 488.1h0M567.9 488.3h0M547.8 486.9h0M552.6 487.3h0M556.1 487.8h0M549.8 486.1h0M549.7 486.6h0M557.4 486.5h0M561.0 486.7h0M534.4 485.3h0M539.2 484.9h0M555.1 485.3h0M559.5 484.9h0M562.5 485.2h0M563.8 485.6h0M566.6 485.1h0M552.3 484.6h0M559.1 484.1h0M560.4 484.2h0M566.8 484.9h0M536.1 483.4h0M540.4 483.4h0M539.8 483.4h0M543.3 483.2h0M557.6 483.6h0M561.5 483.5h0M561.6 483.0h0M564.3 483.8h0M568.2 483.5h0M567.6 483.0h0M541.1 482.0h0M543.7 482.0h0M552.4 482.8h0M554.6 482.1h0M560.0 482.6h0M566.9 482.5h0M533.1 481.7h0M544.3 481.6h0M548.8 481.6h0M555.3 481.8h0M559.1 480.9h0M563.8 481.7h0M565.8 481.3h0M520.7 480.6h0M549.6 480.0h0M560.5 480.2h0M567.5 480.1h0M543.9 479.3h0M546.6 479.0h0M548.9 479.6h0M558.0 479.1h0M564.0 479.1h0M565.6 479.1h0M567.5 479.5h0M571.1 479.1h0M547.3 478.6h0M551.2 478.7h0M553.3 478.0h0M555.1 478.5h0M556.0 478.4h0M558.0 478.1h0M559.2 478.7h0M560.3 478.6h0M567.5 478.2h0M539.5 477.3h0M544.2 477.5h0M545.9 477.1h0M557.7 477.1h0M560.1 477.2h0M567.1 477.1h0M540.3 476.1h0M547.7 476.4h0M557.3 476.9h0M561.8 476.8h0M570.5 476.6h0M548.5 475.8h0M554.2 475.4h0M555.6 474.9h0M560.0 475.2h0M563.9 475.8h0M565.9 475.6h0M540.7 474.0h0M561.0 474.1h0M560.9 474.5h0M568.9 474.5h0M531.1 473.7h0M539.9 473.9h0M546.7 473.6h0M552.9 473.6h0M557.0 473.2h0M559.0 473.0h0M561.9 473.0h0M566.6 473.4h0M523.4 472.7h0M534.2 472.9h0M540.0 472.7h0M541.1 472.4h0M546.6 472.0h0M562.8 472.2h0" stroke="#0000ff" stroke-width="1.9" stroke-linecap="round" fill="none"/><path d="M609.8 570.9h0M610.7 570.7h0M611.8 570.1h0M612.7 570.6h0M613.1 570.0h0M613.1 570.0h0M614.4 570.6h0M614.0 570.1h0M616.1 570.7h0M649.3 570.5h0M609.1 569.5h0M610.1 569.5h0M610.7 569.3h0M610.0 569.2h0M613.2 569.4h0M617.2 569.3h0M617.9 569.3h0M618.2 569.0h0M623.3 569.9h0M627.0 569.1h0M633.9 568.9h0M644.1 569.4h0M609.0 568.2h0M612.0 568.8h0M614.3 568.4h0M618.5 568.3h0M621.0 568.7h0M614.3 567.0h0M616.3 567.4h0M623.6 567.8h0M625.8 567.2h0M633.5 567.8h0M609.0 566.5h0M609.2 566.8h0M610.0 566.6h0M611.1 566.7h0M613.3 566.8h0M619.8 566.0h0M623.1 566.1h0M625.4 566.2h0M626.0 566.2h0M635.9 566.8h0M644.2 566.5h0M607.0 565.5h0M607.9 565.7h0M608.4 565.5h0M610.3 565.6h0M610.2 565.8h0M611.1 565.4h0M611.4 565.4h0M613.0 565.6h0M618.7 565.7h0M619.0 565.3h0M628.4 565.6h0M634.2 565.1h0M640.1 565.3h0M607.0 564.4h0M608.8 564.7h0M612.1 564.8h0M614.0 563.9h0M617.5 564.4h0M627.9 564.5h0M635.9 564.4h0M606.0 563.2h0M606.6 563.0h0M608.2 563.8h0M609.8 563.8h0M611.4 563.3h0M612.3 563.4h0M613.7 563.1h0M616.1 563.6h0M616.5 562.9h0M623.2 563.3h0M605.9 562.1h0M606.9 562.5h0M613.2 562.0h0M614.3 562.0h0M617.5 562.2h0M617.4 562.5h0M628.3 562.5h0M629.5 561.9h0M641.0 562.7h0M646.9 561.9h0M605.6 561.0h0M606.1 561.3h0M606.5 561.8h0M611.1 561.1h0M636.0 561.7h0M644.1 561.5h0M648.5 561.2h0M605.6 560.0h0M607.3 560.4h0M610.5 560.2h0M610.9 560.1h0M615.6 560.5h0M616.4 560.3h0M616.6 560.8h0M615.8 560.8h0M621.2 560.5h0M623.7 560.7h0M637.5 560.8h0M638.8 560.1h0M646.6 560.1h0M604.4 559.7h0M605.8 559.0h0M608.6 559.7h0M609.0 559.0h0M612.8 559.9h0M630.0 559.0h0M607.8 558.2h0M607.7 558.4h0M609.2 558.3h0M610.4 558.4h0M615.6 558.2h0M623.1 558.5h0M635.7 558.4h0M604.3 557.8h0M606.4 557.3h0M606.8 557.2h0M610.6 557.0h0M609.9 557.2h0M618.9 556.9h0M621.2 557.7h0M626.2 557.3h0M603.9 556.2h0M604.3 556.7h0M605.1 556.6h0M605.5 556.5h0M607.1 556.5h0M607.4 556.6h0M608.0 556.9h0M607.9 556.4h0M612.1 556.7h0M614.4 555.9h0M615.0 556.6h0M627.2 556.3h0M602.1 555.9h0M603.8 555.2h0M603.2 555.6h0M604.4 555.3h0M604.7 555.0h0M606.3 554.9h0M611.5 555.4h0M615.3 555.1h0M616.3 555.4h0M643.7 555.0h0M605.8 554.0h0M604.9 554.7h0M608.1 554.4h0M613.6 554.9h0M616.1 554.1h0M618.7 554.2h0M622.4 554.8h0M624.1 554.5h0M635.2 554.6h0M637.4 554.5h0M605.4 553.5h0M607.2 553.4h0M607.2 553.2h0M609.7 553.6h0M610.9 553.4h0M618.0 553.0h0M621.7 552.9h0M645.0 553.0h0M603.4 552.4h0M608.8 552.2h0M608.1 552.8h0M610.5 552.6h0M621.5 552.7h0M625.4 552.1h0M631.0 552.2h0M637.3 552.5h0M601.4 551.4h0M602.2 551.7h0M602.1 551.9h0M603.5 551.2h0M604.8 550.9h0M605.4 551.2h0M606.5 550.9h0M606.1 551.0h0M620.3 551.2h0M626.6 551.1h0M605.7 550.9h0M609.5 550.7h0M609.5 550.4h0M610.8 550.7h0M609.8 550.2h0M611.2 550.2h0M611.6 550.8h0M620.7 550.9h0M620.8 550.4h0M623.7 550.2h0M624.6 550.7h0M640.2 549.9h0M602.0 548.9h0M604.2 549.0h0M605.0 549.7h0M606.3 548.9h0M608.8 549.7h0M614.4 549.3h0M615.2 549.5h0M622.7 548.9h0M626.1 549.3h0M627.9 549.5h0M631.5 549.2h0M635.9 549.0h0M601.2 548.7h0M602.6 548.4h0M606.5 548.8h0M606.3 548.0h0M609.0 548.1h0M612.4 548.8h0M615.0 548.1h0M600.4 547.4h0M601.5 547.6h0M604.1 547.5h0M605.4 547.8h0M607.3 547.8h0M629.8 546.9h0M634.2 547.7h0M639.3 547.5h0M600.1 546.3h0M602.5 546.8h0M605.5 546.6h0M606.8 546.2h0M609.0 546.7h0M610.7 546.5h0M614.7 546.5h0M617.9 546.1h0M621.2 546.5h0M632.6 546.9h0M603.1 544.9h0M604.4 545.4h0M605.2 545.3h0M609.1 544.9h0M610.4 545.1h0M616.1 545.9h0M624.0 545.1h0M626.2 545.1h0M600.1 544.4h0M600.6 544.7h0M600.7 544.0h0M601.1 544.3h0M601.2 544.6h0M604.5 544.3h0M605.3 544.7h0M607.1 544.6h0M612.6 544.8h0M617.5 544.7h0M620.7 544.8h0M623.3 544.5h0M599.3 543.6h0M599.6 543.3h0M600.2 543.3h0M600.9 543.8h0M601.8 543.6h0M602.7 543.3h0M604.3 543.9h0M613.0 543.8h0M614.4 543.0h0M623.5 543.0h0M624.6 543.2h0M598.7 542.7h0M598.3 542.8h0M598.6 541.9h0M600.4 542.5h0M599.8 542.1h0M602.8 542.3h0M604.7 542.6h0M605.5 542.6h0M605.9 542.2h0M607.0 542.1h0M614.3 542.3h0M615.6 542.7h0M644.6 542.2h0M644.4 542.6h0M597.9 541.8h0M598.8 541.1h0M599.5 541.2h0M599.2 541.7h0M599.9 541.9h0M599.8 541.3h0M603.6 541.1h0M603.6 541.0h0M604.0 541.4h0M605.8 541.8h0M608.0 541.5h0M612.4 541.1h0M611.9 541.0h0M614.8 541.6h0M597.6 540.4h0M598.2 540.5h0M599.0 540.1h0M599.6 540.9h0M600.8 540.7h0M601.0 540.9h0M602.7 540.1h0M605.1 540.6h0M605.2 540.7h0M605.7 540.2h0M605.2 540.4h0M615.8 540.3h0M617.5 540.2h0M623.9 540.1h0M624.0 540.6h0M639.5 539.9h0M652.5 540.0h0M598.1 539.1h0M600.5 539.7h0M600.2 539.5h0M603.4 539.6h0M604.0 539.3h0M606.3 539.5h0M606.6 539.1h0M607.7 539.6h0M612.4 539.4h0M616.4 539.7h0M620.1 539.7h0M629.7 539.6h0M597.8 538.7h0M599.7 538.1h0M599.1 538.0h0M605.0 538.8h0M607.3 538.3h0M621.6 538.2h0M623.9 538.7h0M624.9 538.1h0M597.7 537.5h0M597.5 537.3h0M600.0 536.9h0M601.8 537.6h0M604.3 537.8h0M603.8 537.1h0M605.0 537.5h0M610.8 537.8h0M620.4 537.4h0M637.3 537.1h0M596.8 536.4h0M597.3 536.7h0M598.2 536.6h0M600.6 536.7h0M601.2 535.9h0M603.6 536.0h0M616.1 536.6h0M636.5 536.3h0M597.5 535.2h0M598.5 535.4h0M599.3 535.2h0M601.1 535.0h0M601.6 535.2h0M601.7 535.9h0M604.5 535.9h0M607.9 535.1h0M610.8 535.2h0M612.6 535.1h0M616.2 535.9h0M620.2 535.6h0M626.2 535.4h0M630.8 535.7h0M642.9 535.7h0M651.9 535.0h0M595.9 534.0h0M597.5 534.3h0M599.0 534.8h0M599.9 534.4h0M603.8 533.9h0M604.1 534.8h0M605.2 534.0h0M610.8 534.5h0M595.2 533.8h0M597.6 533.6h0M598.4 533.4h0M602.1 533.0h0M604.2 533.7h0M605.2 533.3h0M610.8 533.0h0M620.2 533.0h0M593.9 532.6h0M594.7 532.0h0M593.8 532.4h0M595.2 532.1h0M599.9 532.5h0M601.6 531.9h0M602.0 532.0h0M607.5 532.1h0M610.7 532.5h0M626.8 532.4h0M594.7 531.3h0M594.3 531.4h0M595.7 531.5h0M596.9 531.0h0M597.0 531.5h0M600.7 531.3h0M605.8 531.3h0M608.1 531.3h0M610.4 531.6h0M597.1 530.5h0M596.8 530.2h0M599.2 529.9h0M599.4 530.2h0M601.5 530.9h0M603.1 530.5h0M603.9 530.4h0M605.4 530.1h0M608.0 530.5h0M609.8 530.3h0M611.7 530.1h0M619.6 530.6h0M622.3 530.2h0M624.3 530.7h0M593.9 529.5h0M595.1 529.6h0M595.9 529.3h0M596.6 528.9h0M596.9 529.7h0M597.6 529.7h0M597.9 529.8h0M599.6 529.3h0M600.3 529.8h0M600.5 529.8h0M601.1 529.4h0M602.0 529.9h0M611.1 529.3h0M612.0 529.4h0M619.4 529.7h0M593.9 528.3h0M597.7 528.5h0M609.7 528.6h0M611.7 528.5h0M616.5 528.8h0M617.8 528.7h0M625.7 528.6h0M649.1 528.1h0M594.5 526.9h0M594.9 527.3h0M596.3 527.4h0M597.9 527.6h0M598.8 527.1h0M599.3 527.8h0M601.2 527.1h0M600.9 527.4h0M601.3 527.4h0M601.4 527.7h0M593.7 526.8h0M594.4 526.3h0M595.3 526.2h0M596.2 526.4h0M596.9 526.8h0M597.6 526.4h0M597.1 526.7h0M596.8 526.6h0M598.0 526.6h0M601.6 526.8h0M602.0 526.2h0M602.5 525.9h0M603.1 526.6h0M605.7 526.8h0M606.6 526.7h0M613.1 526.6h0M617.0 526.8h0M619.4 526.6h0M620.3 526.6h0M597.6 524.9h0M597.6 525.7h0M598.0 525.3h0M599.7 525.2h0M600.6 525.6h0M600.3 525.0h0M600.4 525.4h0M604.0 525.3h0M615.3 525.1h0M593.4 524.3h0M594.1 524.8h0M595.6 524.8h0M595.2 524.2h0M596.7 524.7h0M596.6 524.4h0M596.5 524.8h0M596.0 524.3h0M598.5 524.1h0M600.2 524.0h0M623.5 524.5h0M594.2 523.4h0M596.5 523.5h0M602.1 523.0h0M609.1 523.9h0M610.2 523.9h0M637.2 523.9h0M594.0 522.7h0M596.6 522.9h0M598.1 522.0h0M600.4 522.4h0M602.2 522.3h0M603.5 522.7h0M607.7 522.6h0M592.6 521.3h0M594.4 521.8h0M594.7 521.1h0M596.4 521.3h0M597.7 521.0h0M604.7 521.6h0M611.3 521.1h0M612.6 521.6h0M622.3 520.9h0M592.4 519.9h0M592.3 520.8h0M594.3 520.9h0M594.2 520.5h0M594.8 520.5h0M601.7 520.1h0M603.2 520.9h0M604.2 520.4h0M604.5 520.5h0M605.1 520.0h0M641.1 519.9h0M592.7 519.5h0M593.5 519.7h0M595.2 519.2h0M597.3 519.3h0M597.0 518.9h0M617.2 519.3h0M645.4 519.3h0M591.5 518.0h0M590.9 517.9h0M593.6 518.0h0M595.6 518.2h0M595.5 518.1h0M596.9 518.3h0M597.2 518.5h0M598.5 518.2h0M601.6 518.7h0M604.2 518.2h0M605.3 518.1h0M591.2 517.7h0M594.5 517.5h0M595.7 517.4h0M595.0 517.3h0M596.0 517.5h0M597.3 517.4h0M597.7 517.1h0M602.0 517.1h0M602.3 517.1h0M602.9 517.2h0M609.0 517.0h0M592.2 516.8h0M592.3 516.4h0M593.1 516.8h0M592.9 515.9h0M594.7 516.1h0M594.6 516.3h0M595.3 516.3h0M603.5 516.3h0M607.4 516.1h0M612.8 516.8h0M618.1 516.6h0M591.7 515.1h0M591.7 515.7h0M596.3 514.9h0M596.9 515.4h0M599.0 515.2h0M600.5 515.3h0M601.2 515.5h0M610.1 515.3h0M592.6 514.5h0M592.7 514.8h0M596.9 514.8h0M598.1 514.5h0M599.1 513.9h0M615.4 514.2h0M590.8 513.4h0M590.9 513.7h0M591.8 513.8h0M593.6 513.2h0M593.6 513.6h0M595.4 513.2h0M595.7 513.2h0M602.6 513.2h0M604.9 513.7h0M605.9 513.7h0M606.8 513.9h0M616.4 513.8h0M625.7 513.3h0M635.9 513.5h0M592.6 512.0h0M594.7 511.9h0M595.5 512.3h0M597.6 512.3h0M597.3 512.7h0M599.5 512.4h0M600.1 511.9h0M609.5 512.6h0M590.7 511.5h0M595.5 511.4h0M594.9 511.7h0M596.8 511.4h0M598.2 511.9h0M599.4 511.7h0M599.9 511.8h0M600.1 511.0h0M602.3 511.5h0M603.3 510.9h0M607.6 511.3h0M629.2 511.5h0M631.6 511.9h0M590.1 510.5h0M590.5 510.8h0M595.8 509.9h0M599.3 510.3h0M600.3 510.9h0M602.9 510.2h0M606.3 510.7h0M607.5 510.8h0M609.8 510.5h0M611.8 510.1h0M617.6 510.2h0M618.3 510.2h0M647.1 510.0h0M590.5 509.2h0M589.8 509.0h0M590.9 509.5h0M594.2 509.1h0M595.3 509.8h0M596.2 509.6h0M597.7 509.7h0M599.0 509.9h0M599.5 509.7h0M602.6 509.2h0M603.4 509.7h0M603.0 509.7h0M647.5 509.8h0M590.4 508.8h0M591.6 508.0h0M592.2 508.7h0M593.7 508.5h0M593.2 507.9h0M595.6 508.5h0M596.7 508.9h0M596.6 508.2h0M596.6 508.2h0M597.4 508.3h0M597.6 508.4h0M597.3 508.4h0M598.3 508.7h0M604.6 508.3h0M605.5 508.6h0M610.4 508.2h0M621.5 508.4h0M590.7 507.5h0M592.0 507.0h0M593.6 507.2h0M594.7 507.1h0M594.0 507.4h0M594.9 507.7h0M595.7 507.0h0M599.2 507.2h0M601.7 507.8h0M601.1 507.8h0M607.1 507.7h0M591.6 506.1h0M592.0 506.2h0M593.2 506.2h0M594.6 506.5h0M595.0 506.3h0M595.4 506.1h0M596.9 506.1h0M599.7 506.0h0M617.9 506.7h0M623.3 506.0h0M593.4 505.0h0M597.1 505.7h0M597.7 505.1h0M599.4 505.8h0M600.5 505.9h0M603.2 505.7h0M618.6 505.0h0M620.0 505.6h0M621.6 505.4h0M595.1 504.7h0M595.1 504.2h0M599.5 504.4h0M598.8 504.4h0M600.8 504.3h0M636.9 504.5h0M591.3 503.0h0M592.9 502.9h0M600.3 502.9h0M601.4 503.9h0M611.9 503.7h0M626.9 503.2h0M649.7 503.8h0M589.8 502.6h0M592.5 502.7h0M601.3 502.4h0M604.1 502.8h0M610.8 502.2h0M612.7 502.8h0M621.8 502.5h0M625.6 502.8h0M628.5 502.2h0M592.6 501.7h0M592.8 501.3h0M593.6 501.1h0M607.9 501.6h0M613.1 501.7h0M619.5 501.8h0M590.2 500.7h0M591.3 500.4h0M592.3 500.2h0M594.0 500.5h0M595.4 500.9h0M596.7 500.1h0M598.5 500.0h0M599.1 500.2h0M599.4 500.0h0M602.7 500.7h0M605.4 500.7h0M633.8 500.2h0M589.9 499.4h0M591.7 499.5h0M592.5 499.9h0M592.5 499.5h0M593.2 499.5h0M597.7 499.2h0M600.4 499.0h0M602.1 499.8h0M602.4 499.6h0M603.7 499.1h0M606.8 499.1h0M606.9 499.8h0M608.5 499.5h0M610.6 499.6h0M610.6 499.1h0M591.3 498.8h0M593.3 497.9h0M595.5 497.9h0M605.3 498.2h0M607.9 498.6h0M589.8 497.8h0M595.8 497.4h0M597.6 497.8h0M599.1 497.6h0M606.7 497.9h0M609.5 497.3h0M589.8 496.6h0M593.3 495.9h0M593.5 496.4h0M602.1 496.4h0M602.0 496.8h0M602.9 496.5h0M604.1 496.5h0M607.5 496.5h0M616.3 496.4h0M623.1 496.2h0M650.6 496.4h0M593.2 495.5h0M594.1 495.6h0M595.8 495.4h0M596.4 495.6h0M599.0 495.8h0M603.6 495.5h0M615.1 495.3h0M618.7 495.0h0M638.7 495.7h0M590.8 494.7h0M590.7 494.3h0M590.6 494.7h0M591.1 494.8h0M593.8 494.1h0M595.9 494.7h0M599.6 494.3h0M603.9 494.4h0M607.1 494.8h0M607.7 493.9h0M613.1 494.6h0M590.5 493.8h0M591.3 493.5h0M591.1 493.3h0M592.1 493.1h0M594.4 493.7h0M595.6 493.2h0M595.2 493.2h0M597.8 493.0h0M598.3 493.2h0M600.2 493.7h0M601.1 493.2h0M600.9 493.7h0M605.0 493.2h0M607.3 493.6h0M624.0 492.9h0M628.6 493.8h0M646.6 493.6h0M590.9 492.2h0M592.7 492.5h0M592.4 492.3h0M592.5 492.8h0M593.5 492.4h0M593.3 492.5h0M600.0 492.9h0M600.0 492.3h0M605.1 492.4h0M614.5 492.0h0M634.1 492.1h0M594.6 491.7h0M598.7 490.9h0M600.2 491.2h0M602.3 491.5h0M603.7 491.5h0M604.8 491.8h0M604.9 491.3h0M607.0 491.9h0M615.2 491.2h0M619.6 491.4h0M592.2 490.4h0M596.0 490.4h0M597.0 490.6h0M600.6 490.6h0M603.8 490.1h0M608.8 490.4h0M630.2 490.4h0M593.6 489.1h0M594.8 489.6h0M594.0 489.6h0M597.4 489.3h0M597.8 489.8h0M598.2 489.6h0M599.7 489.5h0M601.3 489.0h0M640.1 489.0h0M591.5 488.7h0M591.4 488.8h0M594.5 488.1h0M598.4 488.6h0M600.8 488.6h0M603.3 488.7h0M619.6 488.4h0M636.1 488.9h0M594.4 487.2h0M601.3 487.5h0M602.9 487.1h0M609.3 487.5h0M615.3 487.4h0M623.5 487.2h0M628.1 487.0h0M590.2 486.7h0M590.2 486.4h0M591.4 486.8h0M591.9 486.8h0M593.3 486.2h0M594.1 486.1h0M596.9 486.2h0M598.6 486.3h0M591.6 485.4h0M595.1 485.8h0M595.7 485.4h0M597.2 485.0h0M601.5 485.1h0M603.8 485.5h0M608.1 485.8h0M608.9 484.9h0M590.8 484.6h0M592.7 484.6h0M592.2 484.7h0M593.3 484.7h0M593.5 484.0h0M601.4 484.7h0M605.7 484.8h0M591.8 483.5h0M593.4 482.9h0M596.0 483.5h0M595.9 483.7h0M597.0 483.1h0M603.8 483.6h0M610.0 483.0h0M632.2 483.7h0M594.0 482.1h0M595.3 481.9h0M596.3 482.0h0M597.0 482.8h0M604.1 482.8h0M612.1 482.7h0M628.7 482.9h0M589.8 481.8h0M591.9 481.0h0M593.2 481.6h0M598.1 481.1h0M602.4 481.4h0M605.8 481.7h0M608.5 481.4h0M612.6 481.2h0M590.5 480.0h0M590.9 480.2h0M592.4 480.0h0M594.9 480.1h0M595.6 480.2h0M597.3 480.4h0M600.3 480.5h0M604.0 480.3h0M608.6 480.6h0M610.6 480.1h0M591.7 479.5h0M594.5 479.2h0M594.3 479.3h0M595.0 479.0h0M596.1 479.0h0M597.4 479.7h0M598.7 479.0h0M598.3 479.6h0M597.9 479.1h0M604.1 479.7h0M614.6 479.5h0M631.9 479.0h0M638.6 479.9h0M641.4 479.5h0M593.0 478.7h0M594.4 478.8h0M594.7 478.8h0M596.6 478.1h0M596.0 478.4h0M596.6 478.4h0M601.1 478.8h0M603.5 478.6h0M604.0 478.6h0M614.7 478.4h0M593.6 477.2h0M596.0 477.0h0M598.9 477.4h0M599.4 477.6h0M601.1 477.3h0M602.7 477.4h0M603.3 477.3h0M589.9 476.3h0M592.0 476.5h0M593.1 476.3h0M605.4 476.7h0M606.3 476.3h0M629.8 476.7h0M590.0 475.2h0M594.3 475.8h0M594.9 475.4h0M598.1 475.9h0M600.3 475.4h0M602.3 475.9h0M604.7 475.4h0M612.3 475.4h0M617.2 475.8h0M622.7 475.7h0M622.8 475.2h0M589.9 474.3h0M591.5 474.3h0M592.4 474.3h0M592.7 474.2h0M596.0 474.8h0M603.7 473.9h0M603.5 474.7h0M606.9 474.7h0M609.7 474.3h0M626.2 474.6h0M590.5 473.4h0M591.2 473.6h0M594.3 473.5h0M594.0 473.4h0M598.1 473.3h0M601.5 473.2h0M614.4 473.2h0M617.1 473.6h0M619.9 473.4h0M623.7 473.4h0M590.6 472.2h0M592.9 472.2h0M594.1 472.5h0M594.2 472.4h0M594.6 472.3h0M596.7 472.5h0M602.8 472.8h0M604.4 472.6h0M616.5 472.7h0M623.0 472.2h0M630.1 472.2h0M636.4 472.3h0" stroke="#ff0000" stroke-width="1.9" stroke-linecap="round" fill="none"/><line x1="523" y1="473.3" x2="570" y2="473.3" stroke="#0000ff" stroke-width="1.6"/><line x1="590.5" y1="473.3" x2="652.8" y2="473.3" stroke="#ff0000" stroke-width="1.6"/></g><rect x="508.5" y="472.3" width="144.7" height="103.1" fill="none" stroke="#b8b8b8" stroke-width="0.8"/><text x="508.9" y="217.5" font-size="10.2" font-weight="bold" textLength="56.4" lengthAdjust="spacingAndGlyphs" fill="#1010ff">2641 DEGs</text><text x="657.4" y="217.5" font-size="10.2" text-anchor="end" font-weight="bold" textLength="56" lengthAdjust="spacingAndGlyphs" fill="#ff1010">2323 DEGs</text><text x="508.9" y="343.6" font-size="10.2" font-weight="bold" textLength="56.4" lengthAdjust="spacingAndGlyphs" fill="#1010ff">3066 DEGs</text><text x="657.4" y="343.6" font-size="10.2" text-anchor="end" font-weight="bold" textLength="56" lengthAdjust="spacingAndGlyphs" fill="#ff1010">2356 DEGs</text><text x="508.9" y="469" font-size="10.2" font-weight="bold" textLength="56.4" lengthAdjust="spacingAndGlyphs" fill="#1010ff">2475 DEGs</text><text x="657.4" y="469" font-size="10.2" text-anchor="end" font-weight="bold" textLength="56" lengthAdjust="spacingAndGlyphs" fill="#ff1010">2278 DEGs</text><text x="661.7" y="259.20000000000005" font-size="13.5" fill="#111">Y</text><text x="661.7" y="276.20000000000005" font-size="13.5" fill="#111">vs</text><text x="661.7" y="293.20000000000005" font-size="13.5" fill="#111">PM</text><text x="661.7" y="385.1" font-size="13.5" fill="#111">Y</text><text x="661.7" y="402.1" font-size="13.5" fill="#111">vs</text><text x="661.7" y="419.1" font-size="13.5" fill="#111">MM</text><text x="661.7" y="510.6" font-size="13.5" fill="#111">RT</text><text x="661.7" y="527.6" font-size="13.5" fill="#111">vs</text><text x="661.7" y="544.6" font-size="13.5" fill="#111">PM</text><text transform="translate(496 378) rotate(-90)" font-size="14" text-anchor="middle" fill="#111">-Log<tspan font-size="9" dy="3">10</tspan><tspan dy="-3">(padj)</tspan></text><text x="540.9" y="585.2" font-size="10.5" text-anchor="middle" fill="#111">-4</text><text x="562.6" y="585.2" font-size="10.5" text-anchor="middle" fill="#111">-2</text><text x="581.3" y="585.2" font-size="10.5" text-anchor="middle" fill="#111">0</text><text x="600" y="585.2" font-size="10.5" text-anchor="middle" fill="#111">+2</text><text x="621" y="585.2" font-size="10.5" text-anchor="middle" fill="#111">+4</text><text x="584.6" y="597.3" font-size="13.5" text-anchor="middle" fill="#111">Log<tspan font-size="9" dy="3">2</tspan><tspan dy="-3">FC</tspan></text><text x="13.6" y="587.6" font-size="26" font-weight="bold">d</text><defs><clipPath id="v0A"><circle cx="67.1" cy="645.1" r="49.4"/></clipPath><clipPath id="v0B"><circle cx="131.0" cy="645.1" r="49.4"/></clipPath><clipPath id="v0C"><circle cx="99.2" cy="702.2" r="49.4"/></clipPath></defs><circle cx="67.1" cy="645.1" r="49.4" fill="#e6e6e6"/><circle cx="131.0" cy="645.1" r="49.4" fill="#c9c9c9"/><circle cx="99.2" cy="702.2" r="49.4" fill="#e2e2e2"/><g clip-path="url(#v0A)"><circle cx="131.0" cy="645.1" r="49.4" fill="#dedede"/><circle cx="99.2" cy="702.2" r="49.4" fill="#e0e0e0"/></g><g clip-path="url(#v0B)"><circle cx="99.2" cy="702.2" r="49.4" fill="#ececec"/><g clip-path="url(#v0A)"><circle cx="99.2" cy="702.2" r="49.4" fill="#b2b2b2"/></g></g><circle cx="67.1" cy="645.1" r="49.4" fill="none" stroke="#4a4a4a" stroke-width="0.9"/><circle cx="131.0" cy="645.1" r="49.4" fill="none" stroke="#4a4a4a" stroke-width="0.9"/><circle cx="99.2" cy="702.2" r="49.4" fill="none" stroke="#4a4a4a" stroke-width="0.9"/><text x="56.599999999999994" y="634.1" font-size="8" text-anchor="middle" font-weight="bold" fill="#111" font-family='"Liberation Serif", serif'>846</text><text x="56.599999999999994" y="641.3000000000001" font-size="6.3" text-anchor="middle" font-weight="bold" textLength="21.3" lengthAdjust="spacingAndGlyphs" fill="#111" font-family='"Liberation Serif", serif'>(10.3%)</text><text x="99.05" y="634.1" font-size="8" text-anchor="middle" font-weight="bold" fill="#111" font-family='"Liberation Serif", serif'>937</text><text x="99.05" y="641.3000000000001" font-size="6.3" text-anchor="middle" font-weight="bold" textLength="21.3" lengthAdjust="spacingAndGlyphs" fill="#111" font-family='"Liberation Serif", serif'>(11.5%)</text><text x="141.5" y="634.1" font-size="8" text-anchor="middle" font-weight="bold" fill="#111" font-family='"Liberation Serif", serif'>1645</text><text x="141.5" y="641.3000000000001" font-size="6.3" text-anchor="middle" font-weight="bold" textLength="21.3" lengthAdjust="spacingAndGlyphs" fill="#111" font-family='"Liberation Serif", serif'>(20.1%)</text><text x="99.05" y="662.9" font-size="8" text-anchor="middle" font-weight="bold" fill="#111" font-family='"Liberation Serif", serif'>2243</text><text x="99.05" y="670.1" font-size="6.3" text-anchor="middle" font-weight="bold" textLength="21.3" lengthAdjust="spacingAndGlyphs" fill="#111" font-family='"Liberation Serif", serif'>(27.4%)</text><text x="72.39999999999999" y="677.8000000000001" font-size="8" text-anchor="middle" font-weight="bold" fill="#111" font-family='"Liberation Serif", serif'>938</text><text x="72.39999999999999" y="685.0000000000001" font-size="6.3" text-anchor="middle" font-weight="bold" textLength="21.3" lengthAdjust="spacingAndGlyphs" fill="#111" font-family='"Liberation Serif", serif'>(11.5%)</text><text x="125.3" y="677.8000000000001" font-size="8" text-anchor="middle" font-weight="bold" fill="#111" font-family='"Liberation Serif", serif'>597</text><text x="125.3" y="685.0000000000001" font-size="6.3" text-anchor="middle" font-weight="bold" textLength="18.3" lengthAdjust="spacingAndGlyphs" fill="#111" font-family='"Liberation Serif", serif'>(7.3%)</text><text x="99.2" y="709.5" font-size="8" text-anchor="middle" font-weight="bold" fill="#111" font-family='"Liberation Serif", serif'>975</text><text x="99.2" y="716.7" font-size="6.3" text-anchor="middle" font-weight="bold" textLength="21.3" lengthAdjust="spacingAndGlyphs" fill="#111" font-family='"Liberation Serif", serif'>(11.9%)</text><text x="68.3" y="595.4" font-size="10.5" text-anchor="middle" textLength="34.2" lengthAdjust="spacingAndGlyphs" fill="#111">Y vs PM</text><text x="129.4" y="595.4" font-size="10.5" text-anchor="middle" textLength="35.4" lengthAdjust="spacingAndGlyphs" fill="#111">Y vs MM</text><text x="96.6" y="761.5" font-size="10.5" text-anchor="middle" textLength="40.3" lengthAdjust="spacingAndGlyphs" fill="#111">RT vs PM</text><defs><clipPath id="v1A"><circle cx="234.1" cy="647.0" r="49.2"/></clipPath><clipPath id="v1B"><circle cx="298.4" cy="647.0" r="49.2"/></clipPath><clipPath id="v1C"><circle cx="266.3" cy="703.4" r="49.2"/></clipPath></defs><circle cx="234.1" cy="647.0" r="49.2" fill="#e3eff7"/><circle cx="298.4" cy="647.0" r="49.2" fill="#c3dfed"/><circle cx="266.3" cy="703.4" r="49.2" fill="#e1eef6"/><g clip-path="url(#v1A)"><circle cx="298.4" cy="647.0" r="49.2" fill="#d5e7f2"/><circle cx="266.3" cy="703.4" r="49.2" fill="#d9eaf4"/></g><g clip-path="url(#v1B)"><circle cx="266.3" cy="703.4" r="49.2" fill="#eef6fa"/><g clip-path="url(#v1A)"><circle cx="266.3" cy="703.4" r="49.2" fill="#b6d5e8"/></g></g><circle cx="234.1" cy="647.0" r="49.2" fill="none" stroke="#3c9acb" stroke-width="0.9"/><circle cx="298.4" cy="647.0" r="49.2" fill="none" stroke="#3c9acb" stroke-width="0.9"/><circle cx="266.3" cy="703.4" r="49.2" fill="none" stroke="#3c9acb" stroke-width="0.9"/><text x="223.6" y="636.0" font-size="8" text-anchor="middle" font-weight="bold" fill="#2a80b4" font-family='"Liberation Serif", serif'>484</text><text x="223.6" y="643.2" font-size="6.3" text-anchor="middle" font-weight="bold" textLength="21.3" lengthAdjust="spacingAndGlyphs" fill="#2a80b4" font-family='"Liberation Serif", serif'>(10.5%)</text><text x="266.25" y="636.0" font-size="8" text-anchor="middle" font-weight="bold" fill="#2a80b4" font-family='"Liberation Serif", serif'>535</text><text x="266.25" y="643.2" font-size="6.3" text-anchor="middle" font-weight="bold" textLength="21.3" lengthAdjust="spacingAndGlyphs" fill="#2a80b4" font-family='"Liberation Serif", serif'>(11.6%)</text><text x="308.9" y="636.0" font-size="8" text-anchor="middle" font-weight="bold" fill="#2a80b4" font-family='"Liberation Serif", serif'>1126</text><text x="308.9" y="643.2" font-size="6.3" text-anchor="middle" font-weight="bold" textLength="21.3" lengthAdjust="spacingAndGlyphs" fill="#2a80b4" font-family='"Liberation Serif", serif'>(24.4%)</text><text x="266.25" y="664.8" font-size="8" text-anchor="middle" font-weight="bold" fill="#2a80b4" font-family='"Liberation Serif", serif'>1091</text><text x="266.25" y="672.0" font-size="6.3" text-anchor="middle" font-weight="bold" textLength="21.3" lengthAdjust="spacingAndGlyphs" fill="#2a80b4" font-family='"Liberation Serif", serif'>(23.6%)</text><text x="239.4" y="679.7" font-size="8" text-anchor="middle" font-weight="bold" fill="#2a80b4" font-family='"Liberation Serif", serif'>531</text><text x="239.4" y="686.9000000000001" font-size="6.3" text-anchor="middle" font-weight="bold" textLength="21.3" lengthAdjust="spacingAndGlyphs" fill="#2a80b4" font-family='"Liberation Serif", serif'>(11.5%)</text><text x="292.7" y="679.7" font-size="8" text-anchor="middle" font-weight="bold" fill="#2a80b4" font-family='"Liberation Serif", serif'>314</text><text x="292.7" y="686.9000000000001" font-size="6.3" text-anchor="middle" font-weight="bold" textLength="18.3" lengthAdjust="spacingAndGlyphs" fill="#2a80b4" font-family='"Liberation Serif", serif'>(6.8%)</text><text x="266.3" y="710.6999999999999" font-size="8" text-anchor="middle" font-weight="bold" fill="#2a80b4" font-family='"Liberation Serif", serif'>539</text><text x="266.3" y="717.9" font-size="6.3" text-anchor="middle" font-weight="bold" textLength="21.3" lengthAdjust="spacingAndGlyphs" fill="#2a80b4" font-family='"Liberation Serif", serif'>(11.7%)</text><text x="237.3" y="597.6" font-size="10.5" text-anchor="middle" textLength="35.5" lengthAdjust="spacingAndGlyphs" fill="#111">Y vs PM</text><text x="299.2" y="597.6" font-size="10.5" text-anchor="middle" textLength="36.5" lengthAdjust="spacingAndGlyphs" fill="#111">Y vs MM</text><text x="266" y="763.8" font-size="10.5" text-anchor="middle" textLength="41.3" lengthAdjust="spacingAndGlyphs" fill="#111">RT vs PM</text><defs><clipPath id="v2A"><circle cx="401.1" cy="646.5" r="49.4"/></clipPath><clipPath id="v2B"><circle cx="465.3" cy="646.5" r="49.4"/></clipPath><clipPath id="v2C"><circle cx="433.4" cy="702.2" r="49.4"/></clipPath></defs><circle cx="401.1" cy="646.5" r="49.4" fill="#f8e7df"/><circle cx="465.3" cy="646.5" r="49.4" fill="#f3dbcf"/><circle cx="433.4" cy="702.2" r="49.4" fill="#f6e2d8"/><g clip-path="url(#v2A)"><circle cx="465.3" cy="646.5" r="49.4" fill="#f1d6c8"/><circle cx="433.4" cy="702.2" r="49.4" fill="#f3dbcf"/></g><g clip-path="url(#v2B)"><circle cx="433.4" cy="702.2" r="49.4" fill="#faede7"/><g clip-path="url(#v2A)"><circle cx="433.4" cy="702.2" r="49.4" fill="#dea386"/></g></g><circle cx="401.1" cy="646.5" r="49.4" fill="none" stroke="#c9784c" stroke-width="0.9"/><circle cx="465.3" cy="646.5" r="49.4" fill="none" stroke="#c9784c" stroke-width="0.9"/><circle cx="433.4" cy="702.2" r="49.4" fill="none" stroke="#c9784c" stroke-width="0.9"/><text x="390.6" y="635.5" font-size="8" text-anchor="middle" font-weight="bold" fill="#c0612c" font-family='"Liberation Serif", serif'>362</text><text x="390.6" y="642.7" font-size="6.3" text-anchor="middle" font-weight="bold" textLength="21.3" lengthAdjust="spacingAndGlyphs" fill="#c0612c" font-family='"Liberation Serif", serif'>(10.2%)</text><text x="433.20000000000005" y="635.5" font-size="8" text-anchor="middle" font-weight="bold" fill="#c0612c" font-family='"Liberation Serif", serif'>402</text><text x="433.20000000000005" y="642.7" font-size="6.3" text-anchor="middle" font-weight="bold" textLength="21.3" lengthAdjust="spacingAndGlyphs" fill="#c0612c" font-family='"Liberation Serif", serif'>(11.3%)</text><text x="475.8" y="635.5" font-size="8" text-anchor="middle" font-weight="bold" fill="#c0612c" font-family='"Liberation Serif", serif'>519</text><text x="475.8" y="642.7" font-size="6.3" text-anchor="middle" font-weight="bold" textLength="21.3" lengthAdjust="spacingAndGlyphs" fill="#c0612c" font-family='"Liberation Serif", serif'>(14.6%)</text><text x="433.20000000000005" y="664.3" font-size="8" text-anchor="middle" font-weight="bold" fill="#c0612c" font-family='"Liberation Serif", serif'>1152</text><text x="433.20000000000005" y="671.5" font-size="6.3" text-anchor="middle" font-weight="bold" textLength="21.3" lengthAdjust="spacingAndGlyphs" fill="#c0612c" font-family='"Liberation Serif", serif'>(32.4%)</text><text x="406.40000000000003" y="679.2" font-size="8" text-anchor="middle" font-weight="bold" fill="#c0612c" font-family='"Liberation Serif", serif'>407</text><text x="406.40000000000003" y="686.4000000000001" font-size="6.3" text-anchor="middle" font-weight="bold" textLength="21.3" lengthAdjust="spacingAndGlyphs" fill="#c0612c" font-family='"Liberation Serif", serif'>(11.4%)</text><text x="459.6" y="679.2" font-size="8" text-anchor="middle" font-weight="bold" fill="#c0612c" font-family='"Liberation Serif", serif'>283</text><text x="459.6" y="686.4000000000001" font-size="6.3" text-anchor="middle" font-weight="bold" textLength="18.3" lengthAdjust="spacingAndGlyphs" fill="#c0612c" font-family='"Liberation Serif", serif'>(7.9%)</text><text x="433.4" y="709.5" font-size="8" text-anchor="middle" font-weight="bold" fill="#c0612c" font-family='"Liberation Serif", serif'>436</text><text x="433.4" y="716.7" font-size="6.3" text-anchor="middle" font-weight="bold" textLength="21.3" lengthAdjust="spacingAndGlyphs" fill="#c0612c" font-family='"Liberation Serif", serif'>(12.2%)</text><text x="404.8" y="597.6" font-size="10.5" text-anchor="middle" textLength="35.5" lengthAdjust="spacingAndGlyphs" fill="#111">Y vs PM</text><text x="466.2" y="597.6" font-size="10.5" text-anchor="middle" textLength="36.3" lengthAdjust="spacingAndGlyphs" fill="#111">Y vs MM</text><text x="433.7" y="761.8" font-size="10.5" text-anchor="middle" textLength="40.7" lengthAdjust="spacingAndGlyphs" fill="#111">RT vs PM</text><defs><linearGradient id="lg0" x1="0" y1="0" x2="1" y2="0"><stop offset="0" stop-color="#b5b5b5"/><stop offset="0.55" stop-color="#b5b5b5" stop-opacity="0.75"/><stop offset="1" stop-color="#b5b5b5" stop-opacity="0.1"/></linearGradient><linearGradient id="lg1" x1="0" y1="0" x2="1" y2="0"><stop offset="0" stop-color="#b4d8ea"/><stop offset="0.55" stop-color="#b4d8ea" stop-opacity="0.75"/><stop offset="1" stop-color="#b4d8ea" stop-opacity="0.1"/></linearGradient><linearGradient id="lg2" x1="0" y1="0" x2="1" y2="0"><stop offset="0" stop-color="#e9b69c"/><stop offset="0.55" stop-color="#e9b69c" stop-opacity="0.75"/><stop offset="1" stop-color="#e9b69c" stop-opacity="0.1"/></linearGradient></defs><circle cx="530.8" cy="645.7" r="7.4" fill="url(#lg0)"/><text x="541" y="648.9000000000001" font-size="11.5" textLength="47" lengthAdjust="spacingAndGlyphs" fill="#111">Total DEGs</text><circle cx="530.8" cy="666.1" r="7.4" fill="url(#lg1)"/><text x="541" y="669.3000000000001" font-size="11.5" textLength="123" lengthAdjust="spacingAndGlyphs" fill="#111">Genes expressed in Mycelium</text><circle cx="530.8" cy="686.1" r="7.4" fill="url(#lg2)"/><text x="541" y="689.3000000000001" font-size="11.5" textLength="107.8" lengthAdjust="spacingAndGlyphs" fill="#111">Genes expressed in Yeast</text><defs><linearGradient id="plasma" x1="0" x2="1" y1="0" y2="0"><stop offset="0" stop-color="#1a0a8c"/><stop offset="0.3" stop-color="#9410a8"/><stop offset="0.6" stop-color="#c87a70"/><stop offset="0.85" stop-color="#e6c040"/><stop offset="1" stop-color="#f2f21a"/></linearGradient><linearGradient id="cbB" x1="0" x2="1"><stop offset="0" stop-color="#5566f4" stop-opacity="0.05"/><stop offset="0.6" stop-color="#5566f4" stop-opacity="0.6"/><stop offset="1" stop-color="#3a4ef2"/></linearGradient><linearGradient id="cbT" x1="0" x2="1"><stop offset="0" stop-color="#9fe0cf" stop-opacity="0.1"/><stop offset="0.6" stop-color="#9fe0cf" stop-opacity="0.6"/><stop offset="1" stop-color="#9fe0cf"/></linearGradient><linearGradient id="cbR" x1="0" x2="1"><stop offset="0" stop-color="#e98080" stop-opacity="0.1"/><stop offset="0.6" stop-color="#e98080" stop-opacity="0.6"/><stop offset="1" stop-color="#e06a6a"/></linearGradient><linearGradient id="shB" x1="0" x2="0" y1="0" y2="1"><stop offset="0" stop-color="#5060f2" stop-opacity="0.85"/><stop offset="1" stop-color="#5060f2" stop-opacity="0"/></linearGradient><linearGradient id="shR" x1="0" x2="0" y1="0" y2="1"><stop offset="0" stop-color="#e86a70" stop-opacity="0.6"/><stop offset="1" stop-color="#e86a70" stop-opacity="0"/></linearGradient><linearGradient id="shT" x1="0" x2="0" y1="0" y2="1"><stop offset="0" stop-color="#8fd8c8" stop-opacity="0.3"/><stop offset="1" stop-color="#8fd8c8" stop-opacity="0"/></linearGradient></defs><text x="14.2" y="786.8" font-size="27" font-weight="bold">e</text><rect x="213.2" y="795.3" width="76.60000000000002" height="11" fill="url(#shB)"/><rect x="212.2" y="783.7" width="78.60000000000002" height="12.599999999999909" rx="3" fill="#fff" stroke="#4f5ff2" stroke-width="1.5"/><text x="251.5" y="792.9" font-size="8.2" text-anchor="middle" textLength="64.4" lengthAdjust="spacingAndGlyphs" fill="#111">BIOLOGICAL PROCESS</text><rect x="298" y="798.6" width="82" height="11" fill="url(#shT)"/><rect x="297" y="784.2" width="84" height="15.399999999999977" rx="3" fill="#fff" stroke="#86d3c3" stroke-width="1.5"/><text x="339.0" y="794.8000000000001" font-size="8.2" text-anchor="middle" textLength="67.4" lengthAdjust="spacingAndGlyphs" fill="#111">MOLECULAR FUNCTION</text><rect x="388.1" y="797.8" width="78.39999999999998" height="11" fill="url(#shR)"/><rect x="387.1" y="783.4" width="80.39999999999998" height="15.399999999999977" rx="3" fill="#fff" stroke="#e9616a" stroke-width="1.5"/><text x="427.3" y="793.9999999999999" font-size="8.2" text-anchor="middle" textLength="69.3" lengthAdjust="spacingAndGlyphs" fill="#111">CELLULAR COMPONENT</text><rect x="78.4" y="812.2" width="9" height="59.59999999999991" fill="url(#cbB)"/><rect x="78.4" y="871.8" width="9" height="57.10000000000002" fill="url(#cbT)"/><rect x="78.4" y="928.9" width="9" height="44.10000000000002" fill="url(#cbR)"/><rect x="87.4" y="812.2" width="78.19999999999999" height="162.0999999999999" fill="#fff" stroke="#2a2a2a" stroke-width="0.9"/><line x1="87.4" y1="812.2" x2="87.4" y2="871.8" stroke="#2030c0" stroke-width="1"/><line x1="87.4" y1="871.8" x2="87.4" y2="928.9" stroke="#2a7a6a" stroke-width="1"/><line x1="87.4" y1="928.9" x2="87.4" y2="974.3" stroke="#8a2a2a" stroke-width="1"/><text x="84.1" y="820.0" font-size="5.8" text-anchor="end" textLength="21.8" lengthAdjust="spacingAndGlyphs" fill="#1a1a1a">translation</text><text x="84.1" y="832.6999999999999" font-size="5.8" text-anchor="end" textLength="77.9" lengthAdjust="spacingAndGlyphs" fill="#1a1a1a">macromoleculebiosyntheticprocess</text><text x="84.1" y="847.1" font-size="5.8" text-anchor="end" textLength="43.7" lengthAdjust="spacingAndGlyphs" fill="#1a1a1a">biosyntheticprocess</text><text x="84.1" y="860.5" font-size="5.8" text-anchor="end" textLength="35.8" lengthAdjust="spacingAndGlyphs" fill="#1a1a1a">geneexpression</text><text x="84.1" y="887.6999999999999" font-size="5.8" text-anchor="end" textLength="71.6" lengthAdjust="spacingAndGlyphs" fill="#1a1a1a">structuralconstituentofribosome</text><text x="84.1" y="901.1999999999999" font-size="5.8" text-anchor="end" textLength="56.5" lengthAdjust="spacingAndGlyphs" fill="#1a1a1a">structuralmoleculeactivity</text><text x="84.1" y="915.6999999999999" font-size="5.8" text-anchor="end" textLength="83.4" lengthAdjust="spacingAndGlyphs" fill="#1a1a1a">ATP-dependentactivity,actingonDNA</text><text x="84.1" y="941.5" font-size="5.8" text-anchor="end" textLength="19.1" lengthAdjust="spacingAndGlyphs" fill="#1a1a1a">ribosome</text><text x="84.1" y="956.1999999999999" font-size="5.8" text-anchor="end" textLength="53.2" lengthAdjust="spacingAndGlyphs" fill="#1a1a1a">membranelessorganelle</text><text x="84.1" y="968.9" font-size="5.8" text-anchor="end" textLength="79.1" lengthAdjust="spacingAndGlyphs" fill="#1a1a1a">intracellularmembranelessorganelle</text><ellipse cx="103" cy="817.2" rx="3" ry="3.54" fill="#f4f47c"/><ellipse cx="137.1" cy="830.8" rx="4.1" ry="4.84" fill="#b87fd6"/><ellipse cx="156.7" cy="844.4" rx="4.4" ry="5.19" fill="#b87fd6"/><ellipse cx="134" cy="857.8" rx="4.1" ry="4.84" fill="#b87fd6"/><ellipse cx="98.5" cy="886.3" rx="2.7" ry="3.19" fill="#f4b2a2"/><ellipse cx="99.3" cy="899.8" rx="2.7" ry="3.19" fill="#eea6ae"/><ellipse cx="90.1" cy="913.9" rx="1.0" ry="1.18" fill="#5a48d0"/><ellipse cx="98.5" cy="939.1" rx="2.7" ry="3.19" fill="#f4f47c"/><ellipse cx="104.3" cy="953" rx="3.0" ry="3.54" fill="#cc74d6"/><ellipse cx="104.3" cy="966.7" rx="3.0" ry="3.54" fill="#cc74d6"/><line x1="88.8" y1="974.3" x2="88.8" y2="976.3" stroke="#2a2a2a" stroke-width="0.8"/><text x="88.8" y="984.8" font-size="7" text-anchor="middle" fill="#222">0</text><line x1="127.4" y1="974.3" x2="127.4" y2="976.3" stroke="#2a2a2a" stroke-width="0.8"/><text x="127.4" y="984.8" font-size="7" text-anchor="middle" fill="#222">0.125</text><line x1="165.6" y1="974.3" x2="165.6" y2="976.3" stroke="#2a2a2a" stroke-width="0.8"/><text x="165.6" y="984.8" font-size="7" text-anchor="middle" fill="#222">0.25</text><text x="127" y="996.5" font-size="6.8" text-anchor="middle" textLength="30" lengthAdjust="spacingAndGlyphs" fill="#222">Gene Ratio</text><text x="172.4" y="822.6" font-size="7.4" textLength="39.4" lengthAdjust="spacingAndGlyphs" fill="#222">-log10 p-adjust</text><rect x="177.2" y="823.6" width="31.0" height="8.5" fill="url(#plasma)" stroke="#555" stroke-width="0.3"/><text x="178.2" y="838.3" font-size="4.8" text-anchor="middle" fill="#333">1</text><text x="207" y="838.3" font-size="4.8" text-anchor="middle" fill="#333">10</text><text x="178.7" y="854.7" font-size="7.4" textLength="33.1" lengthAdjust="spacingAndGlyphs" fill="#222">Gene Count</text><ellipse cx="191.8" cy="862.8" rx="1.8" ry="1.98" fill="#000"/><text x="203.2" y="864.6999999999999" font-size="5.4" fill="#333">45</text><ellipse cx="191.8" cy="874.5" rx="4.3" ry="4.73" fill="#000"/><text x="203.2" y="876.4" font-size="5.4" fill="#333">200</text><ellipse cx="191.8" cy="890.5" rx="8.8" ry="9.68" fill="#000"/><text x="203.2" y="892.4" font-size="5.4" fill="#333">100</text><rect x="298.6" y="812.5" width="9" height="87.79999999999995" fill="url(#cbB)"/><rect x="298.6" y="900.3" width="9" height="43.40000000000009" fill="url(#cbT)"/><rect x="298.6" y="943.7" width="9" height="31.699999999999932" fill="url(#cbR)"/><rect x="307.6" y="812.5" width="82.69999999999999" height="162.89999999999998" fill="#fff" stroke="#2a2a2a" stroke-width="0.9"/><line x1="307.6" y1="812.5" x2="307.6" y2="900.3" stroke="#2030c0" stroke-width="1"/><line x1="307.6" y1="900.3" x2="307.6" y2="943.7" stroke="#2a7a6a" stroke-width="1"/><line x1="307.6" y1="943.7" x2="307.6" y2="975.4" stroke="#8a2a2a" stroke-width="1"/><text x="305.3" y="819.5" font-size="5.8" text-anchor="end" textLength="24" lengthAdjust="spacingAndGlyphs" fill="#1a1a1a">translation</text><text x="305.3" y="832.4" font-size="5.8" text-anchor="end" textLength="60.4" lengthAdjust="spacingAndGlyphs" fill="#1a1a1a">protein metabolic process</text><text x="305.3" y="846.3" font-size="5.8" text-anchor="end" textLength="39" lengthAdjust="spacingAndGlyphs" fill="#1a1a1a">gene expression</text><text x="305.3" y="859.1" font-size="5.8" text-anchor="end" textLength="84.7" lengthAdjust="spacingAndGlyphs" fill="#1a1a1a">macromolecule biosynthetic process</text><text x="305.3" y="872.5" font-size="5.8" text-anchor="end" textLength="48" lengthAdjust="spacingAndGlyphs" fill="#1a1a1a">biosynthetic process</text><text x="305.3" y="887.1999999999999" font-size="5.8" text-anchor="end" textLength="78.4" lengthAdjust="spacingAndGlyphs" fill="#1a1a1a">macromolecule metabolic process</text><text x="305.3" y="916.5" font-size="5.8" text-anchor="end" textLength="76.7" lengthAdjust="spacingAndGlyphs" fill="#1a1a1a">structural constituent of ribosome</text><text x="305.3" y="930.1" font-size="5.8" text-anchor="end" textLength="61.3" lengthAdjust="spacingAndGlyphs" fill="#1a1a1a">structural molecule activity</text><text x="305.3" y="958.8" font-size="5.8" text-anchor="end" textLength="21.3" lengthAdjust="spacingAndGlyphs" fill="#1a1a1a">ribosome</text><text x="305.3" y="972.6" font-size="5.8" text-anchor="end" textLength="57.5" lengthAdjust="spacingAndGlyphs" fill="#1a1a1a">membraneless organelle</text><ellipse cx="323.7" cy="817.2" rx="2.3" ry="2.71" fill="#f2a6a6"/><ellipse cx="348.1" cy="830.5" rx="4.0" ry="4.72" fill="#b872d6"/><ellipse cx="340.4" cy="844.4" rx="3.8" ry="4.48" fill="#9566d2"/><ellipse cx="342.6" cy="857.7" rx="3.8" ry="4.48" fill="#8d62d0"/><ellipse cx="353.4" cy="870.5" rx="4.3" ry="5.07" fill="#8462cc"/><ellipse cx="374.5" cy="885.2" rx="5.0" ry="5.90" fill="#7866c4"/><ellipse cx="321.5" cy="914.4" rx="1.3" ry="1.53" fill="#f0f040"/><ellipse cx="322" cy="927.7" rx="2.0" ry="2.36" fill="#f4d070"/><ellipse cx="321.5" cy="956.6" rx="1.3" ry="1.53" fill="#f0f040"/><ellipse cx="322.9" cy="970.7" rx="2.3" ry="2.71" fill="#c468d4"/><line x1="307.6" y1="975.4" x2="307.6" y2="977.4" stroke="#2a2a2a" stroke-width="0.8"/><text x="307.6" y="985.9" font-size="7" text-anchor="middle" fill="#222">0</text><line x1="348.9" y1="975.4" x2="348.9" y2="977.4" stroke="#2a2a2a" stroke-width="0.8"/><text x="348.9" y="985.9" font-size="7" text-anchor="middle" fill="#222">0.10</text><line x1="390.3" y1="975.4" x2="390.3" y2="977.4" stroke="#2a2a2a" stroke-width="0.8"/><text x="390.3" y="985.9" font-size="7" text-anchor="middle" fill="#222">0.20</text><text x="347.9" y="997" font-size="6.8" text-anchor="middle" textLength="31" lengthAdjust="spacingAndGlyphs" fill="#222">Gene Ratio</text><text x="392.3" y="819.0" font-size="7.4" textLength="43.1" lengthAdjust="spacingAndGlyphs" fill="#222">-log10 p-adjust</text><rect x="394.9" y="821.2" width="32.700000000000045" height="8.399999999999977" fill="url(#plasma)" stroke="#555" stroke-width="0.3"/><text x="396" y="835.6" font-size="4.8" text-anchor="middle" fill="#333">1</text><text x="427.3" y="835.6" font-size="4.8" text-anchor="middle" fill="#333">40</text><text x="393.8" y="851.8" font-size="7.4" textLength="34.7" lengthAdjust="spacingAndGlyphs" fill="#222">Gene Count</text><ellipse cx="414.2" cy="861" rx="1.8" ry="1.98" fill="#000"/><text x="427.2" y="862.9" font-size="5.4" fill="#333">250</text><ellipse cx="414.2" cy="872.3" rx="4.3" ry="4.73" fill="#000"/><text x="427.2" y="874.1999999999999" font-size="5.4" fill="#333">350</text><ellipse cx="414.5" cy="889" rx="9.3" ry="10.23" fill="#000"/><text x="427.2" y="890.9" font-size="5.4" fill="#333">700</text><rect x="543.6" y="812.6" width="9" height="72.89999999999998" fill="url(#cbB)"/><rect x="543.6" y="885.5" width="9" height="44.700000000000045" fill="url(#cbT)"/><rect x="543.6" y="930.2" width="9" height="42.799999999999955" fill="url(#cbR)"/><rect x="552.6" y="812.6" width="83.79999999999995" height="161.0" fill="#fff" stroke="#2a2a2a" stroke-width="0.9"/><line x1="552.6" y1="812.6" x2="552.6" y2="885.5" stroke="#2030c0" stroke-width="1"/><line x1="552.6" y1="885.5" x2="552.6" y2="930.2" stroke="#2a7a6a" stroke-width="1"/><line x1="552.6" y1="930.2" x2="552.6" y2="973.6" stroke="#8a2a2a" stroke-width="1"/><text x="549.4" y="819.6" font-size="5.8" text-anchor="end" textLength="44.2" lengthAdjust="spacingAndGlyphs" fill="#1a1a1a">signal transduction</text><text x="549.4" y="833.1" font-size="5.8" text-anchor="end" textLength="95.5" lengthAdjust="spacingAndGlyphs" fill="#1a1a1a">small GTPase-mediated signal transduction</text><text x="549.4" y="846.4" font-size="5.8" text-anchor="end" textLength="72" lengthAdjust="spacingAndGlyphs" fill="#1a1a1a">intracellular signaling cassette</text><text x="549.4" y="859.6999999999999" font-size="5.8" text-anchor="end" textLength="52.9" lengthAdjust="spacingAndGlyphs" fill="#1a1a1a">rRNAmetabolic process</text><text x="549.4" y="873.1999999999999" font-size="5.8" text-anchor="end" textLength="49.5" lengthAdjust="spacingAndGlyphs" fill="#1a1a1a">ribosome biogenesis</text><text x="549.4" y="903.4" font-size="5.8" text-anchor="end" textLength="60.5" lengthAdjust="spacingAndGlyphs" fill="#1a1a1a">cytoskeletal motor activity</text><text x="549.4" y="916.4" font-size="5.8" text-anchor="end" textLength="74" lengthAdjust="spacingAndGlyphs" fill="#1a1a1a">catalytic activity, acting on RNA</text><text x="549.4" y="942.1999999999999" font-size="5.8" text-anchor="end" textLength="29.6" lengthAdjust="spacingAndGlyphs" fill="#1a1a1a">cytoskeleton</text><text x="549.4" y="955.1" font-size="5.8" text-anchor="end" textLength="29.1" lengthAdjust="spacingAndGlyphs" fill="#1a1a1a">preribosome</text><text x="549.4" y="968.5" font-size="5.8" text-anchor="end" textLength="76" lengthAdjust="spacingAndGlyphs" fill="#1a1a1a">microtubule associated complex</text><ellipse cx="631.8" cy="820.5" rx="5.0" ry="5.90" fill="#f9d494"/><ellipse cx="596.5" cy="834.1" rx="4.0" ry="4.72" fill="#f8ca8c"/><ellipse cx="596.5" cy="847.2" rx="4.0" ry="4.72" fill="#f4bc8c"/><ellipse cx="561.5" cy="860.5" rx="2.2" ry="2.60" fill="#b566d8"/><ellipse cx="565.4" cy="874.3" rx="2.5" ry="2.95" fill="#a464d4"/><ellipse cx="568.7" cy="901.1" rx="2.6" ry="3.07" fill="#f0f02a"/><ellipse cx="604.5" cy="914.7" rx="4.0" ry="4.72" fill="#e294c4"/><ellipse cx="574.3" cy="940.5" rx="3.0" ry="3.54" fill="#9468d2"/><ellipse cx="557.4" cy="954" rx="1.3" ry="1.53" fill="#7062d2"/><ellipse cx="562.3" cy="967.5" rx="2.3" ry="2.71" fill="#7466cc"/><line x1="552.6" y1="973.6" x2="552.6" y2="975.6" stroke="#2a2a2a" stroke-width="0.8"/><text x="552.6" y="984.1" font-size="7" text-anchor="middle" fill="#222">0</text><line x1="594.1" y1="973.6" x2="594.1" y2="975.6" stroke="#2a2a2a" stroke-width="0.8"/><text x="594.1" y="984.1" font-size="7" text-anchor="middle" fill="#222">0.15</text><line x1="636.4" y1="973.6" x2="636.4" y2="975.6" stroke="#2a2a2a" stroke-width="0.8"/><text x="636.4" y="984.1" font-size="7" text-anchor="middle" fill="#222">0.30</text><text x="592.9" y="995" font-size="6.8" text-anchor="middle" textLength="31" lengthAdjust="spacingAndGlyphs" fill="#222">Gene Ratio</text><text x="639.2" y="822.2" font-size="7.4" textLength="43.7" lengthAdjust="spacingAndGlyphs" fill="#222">-log10 p-adjust</text><rect x="642.8" y="824.2" width="34.80000000000007" height="8.599999999999909" fill="url(#plasma)" stroke="#555" stroke-width="0.3"/><text x="644" y="839.0" font-size="4.8" text-anchor="middle" fill="#333">1</text><text x="676.6" y="839.0" font-size="4.8" text-anchor="middle" fill="#333">10</text><text x="642.5" y="855.1" font-size="7.4" textLength="35.6" lengthAdjust="spacingAndGlyphs" fill="#222">Gene Count</text><ellipse cx="654.3" cy="863.9" rx="2.0" ry="2.20" fill="#000"/><text x="667.4" y="865.8" font-size="5.4" fill="#333">10</text><ellipse cx="654.3" cy="875.3" rx="4.3" ry="4.73" fill="#000"/><text x="667.4" y="877.1999999999999" font-size="5.4" fill="#333">45</text><ellipse cx="654.3" cy="891.1" rx="9.3" ry="10.23" fill="#000"/><text x="667.4" y="893.0" font-size="5.4" fill="#333">170</text>
</svg>
</body></html>
